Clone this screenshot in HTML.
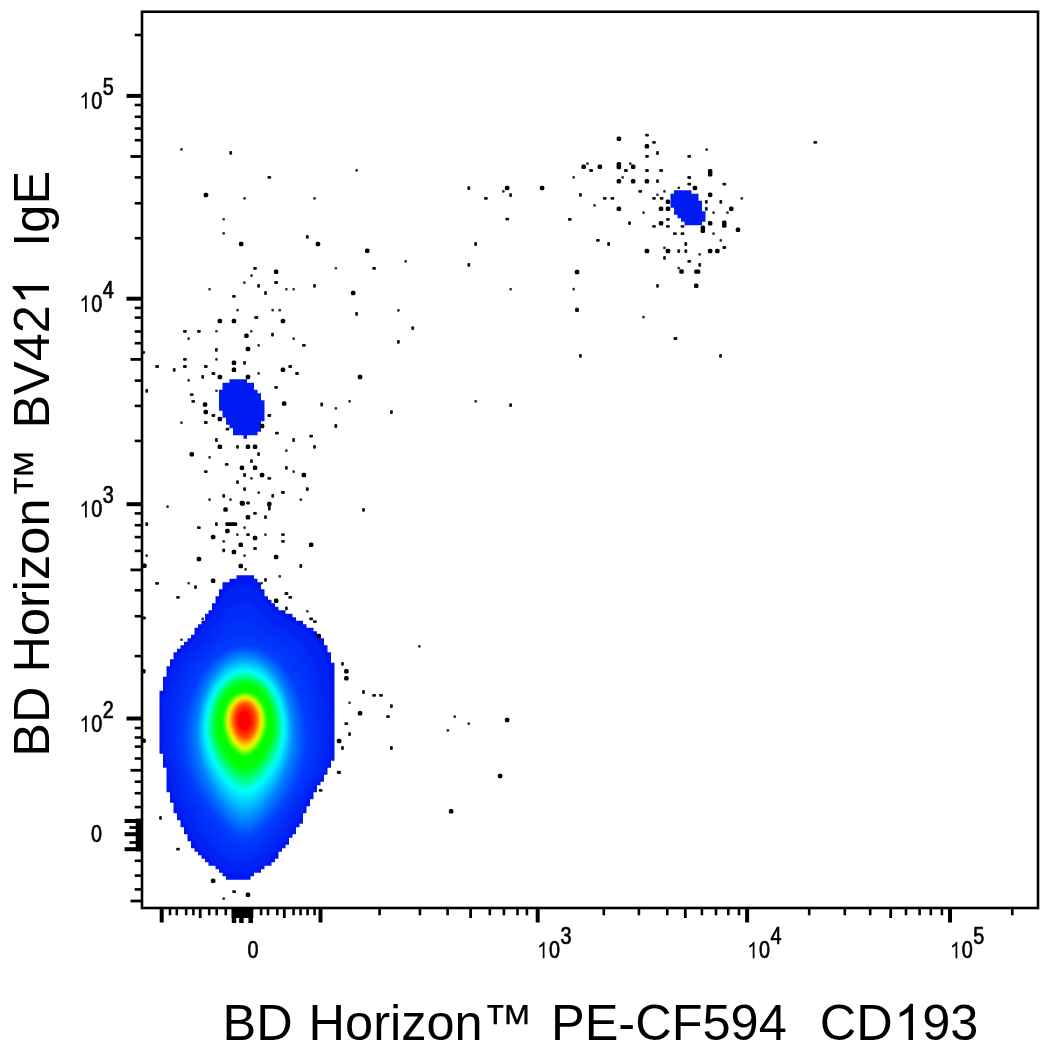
<!DOCTYPE html>
<html><head><meta charset="utf-8"><style>
html,body{margin:0;padding:0;background:#fff;width:1052px;height:1052px;overflow:hidden}
svg{display:block;will-change:transform}
text{white-space:pre}
</style></head><body>
<svg width="1052" height="1052" viewBox="0 0 1052 1052">
<defs><clipPath id="cp1"><path d="M236.50 575.25h17.50v3.50h-17.50ZM229.50 578.75h28.00v3.50h-28.00ZM222.50 582.25h38.50v3.50h-38.50ZM222.50 585.75h38.50v3.50h-38.50ZM219.00 589.25h45.50v3.50h-45.50ZM219.00 592.75h45.50v3.50h-45.50ZM215.50 596.25h52.50v3.50h-52.50ZM215.50 599.75h56.00v3.50h-56.00ZM212.00 603.25h63.00v3.50h-63.00ZM212.00 606.75h66.50v3.50h-66.50ZM208.50 610.25h77.00v3.50h-77.00ZM205.00 613.75h87.50v3.50h-87.50ZM205.00 617.25h91.00v3.50h-91.00ZM201.50 620.75h101.50v3.50h-101.50ZM198.00 624.25h108.50v3.50h-108.50ZM194.50 627.75h119.00v3.50h-119.00ZM194.50 631.25h122.50v3.50h-122.50ZM191.00 634.75h129.50v3.50h-129.50ZM187.50 638.25h136.50v3.50h-136.50ZM184.00 641.75h140.00v3.50h-140.00ZM180.50 645.25h147.00v3.50h-147.00ZM177.00 648.75h150.50v3.50h-150.50ZM173.50 652.25h157.50v3.50h-157.50ZM173.50 655.75h157.50v3.50h-157.50ZM170.00 659.25h161.00v3.50h-161.00ZM170.00 662.75h164.50v3.50h-164.50ZM166.50 666.25h168.00v3.50h-168.00ZM166.50 669.75h168.00v3.50h-168.00ZM166.50 673.25h168.00v3.50h-168.00ZM163.00 676.75h171.50v3.50h-171.50ZM163.00 680.25h171.50v3.50h-171.50ZM163.00 683.75h171.50v3.50h-171.50ZM163.00 687.25h171.50v3.50h-171.50ZM159.50 690.75h175.00v3.50h-175.00ZM159.50 694.25h175.00v3.50h-175.00ZM159.50 697.75h175.00v3.50h-175.00ZM159.50 701.25h175.00v3.50h-175.00ZM159.50 704.75h175.00v3.50h-175.00ZM159.50 708.25h175.00v3.50h-175.00ZM159.50 711.75h175.00v3.50h-175.00ZM159.50 715.25h175.00v3.50h-175.00ZM159.50 718.75h175.00v3.50h-175.00ZM159.50 722.25h175.00v3.50h-175.00ZM159.50 725.75h175.00v3.50h-175.00ZM159.50 729.25h175.00v3.50h-175.00ZM159.50 732.75h175.00v3.50h-175.00ZM159.50 736.25h175.00v3.50h-175.00ZM159.50 739.75h175.00v3.50h-175.00ZM159.50 743.25h175.00v3.50h-175.00ZM159.50 746.75h175.00v3.50h-175.00ZM159.50 750.25h175.00v3.50h-175.00ZM163.00 753.75h171.50v3.50h-171.50ZM163.00 757.25h171.50v3.50h-171.50ZM163.00 760.75h168.00v3.50h-168.00ZM163.00 764.25h168.00v3.50h-168.00ZM166.50 767.75h161.00v3.50h-161.00ZM166.50 771.25h161.00v3.50h-161.00ZM166.50 774.75h157.50v3.50h-157.50ZM166.50 778.25h157.50v3.50h-157.50ZM166.50 781.75h154.00v3.50h-154.00ZM166.50 785.25h150.50v3.50h-150.50ZM166.50 788.75h150.50v3.50h-150.50ZM170.00 792.25h143.50v3.50h-143.50ZM170.00 795.75h143.50v3.50h-143.50ZM170.00 799.25h140.00v3.50h-140.00ZM173.50 802.75h136.50v3.50h-136.50ZM173.50 806.25h133.00v3.50h-133.00ZM173.50 809.75h133.00v3.50h-133.00ZM177.00 813.25h126.00v3.50h-126.00ZM177.00 816.75h126.00v3.50h-126.00ZM180.50 820.25h122.50v3.50h-122.50ZM180.50 823.75h119.00v3.50h-119.00ZM184.00 827.25h112.00v3.50h-112.00ZM184.00 830.75h112.00v3.50h-112.00ZM187.50 834.25h105.00v3.50h-105.00ZM187.50 837.75h101.50v3.50h-101.50ZM191.00 841.25h98.00v3.50h-98.00ZM191.00 844.75h94.50v3.50h-94.50ZM194.50 848.25h87.50v3.50h-87.50ZM198.00 851.75h80.50v3.50h-80.50ZM201.50 855.25h77.00v3.50h-77.00ZM205.00 858.75h70.00v3.50h-70.00ZM208.50 862.25h63.00v3.50h-63.00ZM215.50 865.75h49.00v3.50h-49.00ZM219.00 869.25h42.00v3.50h-42.00ZM222.50 872.75h31.50v3.50h-31.50ZM226.00 876.25h24.50v3.50h-24.50Z"/></clipPath><filter id="bl" x="-20%" y="-20%" width="140%" height="140%"><feGaussianBlur stdDeviation="1.5"/></filter></defs><g clip-path="url(#cp1)"><g filter="url(#bl)"><rect x="140" y="560" width="210" height="330" fill="rgb(0,24,240)"/><path d="M331.5 735.9L331.3 741.9L330.9 747.8L330.5 753.9L329.4 759.8L327.1 765.4L324.7 771.0L321.8 776.2L318.8 781.3L315.5 786.3L312.3 791.3L309.5 796.6L306.8 802.3L303.9 808.3L301.0 814.5L297.8 821.1L294.2 827.7L289.9 834.0L285.3 840.7L280.2 847.7L274.4 854.3L267.9 860.6L260.7 865.8L252.9 871.0L244.6 873.5L236.0 873.5L227.5 872.6L220.1 866.2L212.9 861.0L206.1 856.2L200.4 849.0L195.4 841.9L190.9 834.7L186.8 827.9L183.5 820.6L180.5 813.7L177.6 807.1L174.9 800.8L172.6 794.5L171.4 787.8L170.3 781.4L169.2 775.3L168.2 769.4L166.6 763.9L164.9 758.4L163.3 752.9L162.9 747.2L162.8 741.5L162.7 735.9L162.7 730.2L162.7 724.5L162.7 718.7L162.8 712.8L162.9 706.7L163.6 700.7L164.5 694.5L165.6 688.1L166.8 681.5L169.0 675.2L171.5 668.9L174.5 662.7L178.1 656.8L182.7 651.8L187.5 646.9L192.3 641.6L196.8 635.1L201.8 628.7L207.3 621.9L213.0 613.8L218.9 602.7L226.1 591.0L235.0 586.0L244.6 584.2L254.0 587.0L262.1 598.1L269.5 606.3L276.5 612.5L283.4 617.2L290.4 621.2L297.1 625.4L303.7 629.7L309.8 634.6L315.9 639.4L320.1 646.5L323.6 653.8L326.3 661.3L328.4 668.9L329.2 676.9L329.9 684.4L330.4 691.6L330.8 698.5L331.1 705.1L331.2 711.5L331.4 717.8L331.4 723.9L331.5 729.9Z" fill="rgb(0,32,244)"/><path d="M328.0 736.8L327.8 742.8L327.4 748.8L326.8 754.9L325.7 760.9L323.4 766.6L321.1 772.2L318.1 777.5L315.1 782.7L311.9 787.8L308.6 792.8L305.7 798.1L302.9 803.6L300.0 809.3L297.0 815.2L293.8 821.4L290.3 827.6L286.1 833.4L281.7 839.6L277.0 845.9L271.6 851.8L265.7 857.4L259.1 862.0L252.1 866.6L244.6 868.7L237.0 868.7L229.3 867.8L222.6 862.2L216.1 857.5L209.8 853.1L204.6 846.6L199.8 840.2L195.6 833.5L191.5 827.3L188.2 820.5L185.2 813.9L182.2 807.7L179.5 801.6L177.0 795.5L175.5 789.0L174.0 782.8L172.7 776.7L171.4 770.9L169.8 765.3L168.0 759.7L166.4 754.1L165.9 748.3L165.7 742.5L165.6 736.8L165.6 731.0L165.7 725.2L165.8 719.4L166.0 713.4L166.2 707.3L167.1 701.3L168.1 695.1L169.2 688.8L170.6 682.5L172.8 676.3L175.3 670.2L178.3 664.2L181.8 658.5L186.2 653.7L190.8 648.9L195.4 643.9L199.8 637.9L204.6 632.1L209.8 625.9L215.3 618.7L220.9 609.0L227.6 598.8L235.9 594.5L244.6 592.9L253.3 595.3L260.8 604.9L267.7 612.1L274.3 617.6L280.8 621.9L287.3 625.6L293.6 629.7L299.7 633.8L305.5 638.4L311.2 643.1L315.2 649.7L318.6 656.6L321.3 663.7L323.5 670.9L324.6 678.5L325.4 685.7L326.1 692.7L326.8 699.4L327.2 705.9L327.5 712.3L327.7 718.5L327.9 724.6L328.0 730.7Z" fill="rgb(0,36,245)"/><path d="M324.5 737.6L324.3 743.7L323.8 749.8L323.2 755.9L321.9 762.0L319.7 767.7L317.4 773.4L314.5 778.8L311.5 784.1L308.3 789.2L305.0 794.2L302.0 799.5L299.1 804.9L296.1 810.4L293.0 816.0L289.8 821.8L286.3 827.5L282.4 832.8L278.2 838.4L273.8 844.0L268.9 849.3L263.5 854.2L257.6 858.2L251.4 862.1L244.7 863.9L237.9 863.9L231.1 863.1L225.1 858.2L219.2 854.1L213.5 850.1L208.7 844.3L204.3 838.4L200.2 832.4L196.3 826.6L193.0 820.3L189.9 814.2L186.9 808.3L184.0 802.4L181.3 796.5L179.5 790.3L177.8 784.1L176.2 778.2L174.7 772.3L172.9 766.6L171.2 761.0L169.5 755.3L168.9 749.4L168.6 743.5L168.5 737.6L168.5 731.8L168.6 725.9L168.8 720.0L169.1 714.0L169.5 707.9L170.5 701.9L171.6 695.8L172.9 689.6L174.4 683.4L176.7 677.4L179.2 671.5L182.1 665.7L185.5 660.3L189.7 655.6L194.1 651.0L198.5 646.3L202.7 640.8L207.4 635.4L212.4 629.9L217.5 623.6L222.9 615.3L229.2 606.6L236.7 602.9L244.7 601.6L252.6 603.6L259.6 611.7L265.9 617.9L272.1 622.7L278.2 626.6L284.2 630.1L290.0 633.9L295.8 637.8L301.2 642.2L306.4 646.7L310.3 652.9L313.6 659.4L316.4 666.1L318.6 672.9L319.9 680.1L321.0 687.0L321.9 693.8L322.7 700.3L323.3 706.7L323.7 713.1L324.1 719.3L324.3 725.4L324.5 731.5Z" fill="rgb(0,41,247)"/><path d="M321.0 738.5L320.8 744.7L320.3 750.8L319.5 757.0L318.2 763.1L316.0 768.9L313.7 774.6L310.8 780.1L307.9 785.5L304.7 790.7L301.4 795.7L298.3 800.9L295.3 806.2L292.2 811.4L289.1 816.7L285.9 822.1L282.4 827.4L278.6 832.3L274.7 837.2L270.6 842.2L266.1 846.8L261.3 851.0L256.1 854.4L250.6 857.6L244.8 859.1L238.8 859.0L232.9 858.3L227.6 854.2L222.4 850.6L217.3 847.0L212.8 841.9L208.7 836.7L204.8 831.3L201.0 826.0L197.8 820.2L194.6 814.5L191.5 808.9L188.5 803.3L185.7 797.6L183.6 791.5L181.6 785.5L179.7 779.6L178.0 773.7L176.1 768.0L174.3 762.3L172.6 756.4L171.9 750.5L171.6 744.5L171.4 738.5L171.4 732.6L171.6 726.6L171.9 720.6L172.3 714.6L172.9 708.5L174.0 702.5L175.2 696.4L176.6 690.4L178.2 684.3L180.5 678.5L183.0 672.8L185.9 667.3L189.2 662.0L193.2 657.5L197.4 653.1L201.6 648.6L205.7 643.6L210.2 638.8L214.9 634.0L219.8 628.6L224.9 621.6L230.7 614.5L237.6 611.4L244.8 610.2L251.9 612.0L258.3 618.5L264.2 623.7L269.9 627.8L275.5 631.3L281.1 634.6L286.5 638.1L291.8 641.8L296.8 646.0L301.7 650.4L305.4 656.2L308.7 662.2L311.4 668.5L313.7 674.9L315.2 681.7L316.5 688.3L317.6 694.8L318.6 701.2L319.4 707.5L319.9 713.8L320.4 720.0L320.7 726.2L320.9 732.4Z" fill="rgb(0,45,248)"/><path d="M317.5 739.4L317.3 745.6L316.7 751.8L315.9 758.0L314.5 764.1L312.3 770.0L310.0 775.9L307.2 781.4L304.2 786.9L301.0 792.1L297.8 797.2L294.6 802.3L291.5 807.5L288.3 812.5L285.1 817.5L281.9 822.5L278.5 827.2L274.9 831.7L271.2 836.0L267.4 840.3L263.3 844.2L259.1 847.7L254.5 850.6L249.8 853.2L244.8 854.4L239.8 854.2L234.7 853.5L230.1 850.2L225.5 847.1L221.0 844.0L217.0 839.6L213.1 835.0L209.4 830.2L205.8 825.4L202.5 820.1L199.3 814.8L196.1 809.5L193.0 804.1L190.1 798.6L187.6 792.7L185.4 786.9L183.2 781.0L181.3 775.2L179.2 769.4L177.4 763.5L175.8 757.6L174.9 751.5L174.5 745.5L174.3 739.4L174.4 733.3L174.6 727.3L175.0 721.2L175.5 715.2L176.2 709.1L177.4 703.1L178.7 697.1L180.3 691.2L182.0 685.3L184.3 679.6L186.8 674.1L189.7 668.8L193.0 663.8L196.7 659.4L200.7 655.1L204.7 651.0L208.7 646.5L212.9 642.2L217.4 638.0L222.1 633.5L226.9 628.0L232.3 622.3L238.4 619.8L244.8 618.9L251.2 620.3L257.0 625.4L262.4 629.5L267.7 633.0L272.9 636.0L278.0 639.0L283.0 642.3L287.9 645.9L292.5 649.9L297.0 654.1L300.5 659.4L303.7 665.0L306.5 670.9L308.8 676.9L310.6 683.3L312.1 689.6L313.4 695.9L314.5 702.1L315.4 708.4L316.2 714.6L316.8 720.8L317.2 727.0L317.4 733.2Z" fill="rgb(0,49,250)"/><path d="M314.0 740.2L313.8 746.5L313.2 752.8L312.2 759.0L310.7 765.2L308.7 771.2L306.3 777.1L303.5 782.7L300.6 788.2L297.4 793.6L294.1 798.7L290.9 803.8L287.7 808.7L284.4 813.6L281.2 818.2L277.9 822.8L274.6 827.1L271.1 831.1L267.7 834.9L264.2 838.5L260.6 841.7L256.9 844.5L253.0 846.8L249.0 848.7L244.9 849.6L240.7 849.4L236.5 848.7L232.6 846.2L228.7 843.6L224.7 840.9L221.1 837.2L217.5 833.3L214.1 829.1L210.6 824.7L207.3 820.0L204.0 815.1L200.7 810.1L197.5 804.9L194.4 799.6L191.7 794.0L189.1 788.3L186.7 782.5L184.5 776.6L182.4 770.8L180.5 764.8L178.9 758.8L177.9 752.6L177.4 746.4L177.2 740.2L177.3 734.1L177.6 728.0L178.1 721.8L178.7 715.7L179.6 709.7L180.8 703.7L182.3 697.8L183.9 691.9L185.8 686.2L188.2 680.7L190.7 675.4L193.5 670.3L196.7 665.6L200.2 661.3L204.0 657.2L207.8 653.3L211.6 649.3L215.7 645.6L220.0 642.1L224.4 638.4L228.9 634.3L233.8 630.2L239.3 628.3L244.9 627.6L250.5 628.6L255.7 632.2L260.6 635.3L265.5 638.1L270.2 640.7L274.9 643.5L279.5 646.6L283.9 649.9L288.1 653.7L292.2 657.7L295.6 662.6L298.8 667.8L301.5 673.3L303.9 678.9L305.9 684.9L307.6 690.9L309.1 697.0L310.4 703.0L311.5 709.2L312.4 715.4L313.1 721.6L313.6 727.8L313.9 734.0Z" fill="rgb(0,54,252)"/><path d="M310.5 741.1L310.3 747.5L309.6 753.8L308.5 760.1L307.0 766.3L305.0 772.3L302.6 778.3L299.9 784.0L297.0 789.6L293.8 795.0L290.5 800.2L287.2 805.2L283.9 810.0L280.5 814.6L277.2 819.0L273.9 823.1L270.6 827.0L267.4 830.5L264.1 833.7L261.0 836.6L257.8 839.2L254.7 841.3L251.4 843.0L248.2 844.3L244.9 844.8L241.6 844.6L238.3 843.9L235.1 842.1L231.8 840.1L228.5 837.9L225.2 834.9L222.0 831.6L218.7 828.0L215.3 824.1L212.0 819.9L208.7 815.4L205.3 810.7L202.0 805.8L198.8 800.6L195.8 795.2L192.9 789.6L190.2 783.9L187.8 778.1L185.6 772.1L183.6 766.1L182.0 760.0L180.9 753.7L180.3 747.4L180.1 741.1L180.2 734.9L180.6 728.7L181.1 722.5L181.9 716.3L182.9 710.2L184.3 704.3L185.8 698.4L187.6 692.7L189.6 687.2L192.0 681.8L194.5 676.7L197.3 671.9L200.4 667.3L203.7 663.1L207.3 659.3L210.9 655.6L214.6 652.2L218.5 649.0L222.5 646.1L226.7 643.4L230.9 640.6L235.4 638.0L240.1 636.8L244.9 636.3L249.8 636.9L254.4 639.0L258.9 641.1L263.3 643.2L267.6 645.4L271.8 647.9L275.9 650.8L280.0 654.0L283.8 657.5L287.5 661.4L290.8 665.8L293.8 670.6L296.6 675.7L299.1 680.9L301.2 686.5L303.2 692.2L304.9 698.0L306.4 704.0L307.6 710.0L308.7 716.1L309.5 722.3L310.0 728.6L310.4 734.8Z" fill="rgb(0,58,253)"/><path d="M307.0 742.0L306.8 748.4L306.1 754.8L304.9 761.1L303.3 767.4L301.3 773.5L298.9 779.5L296.3 785.3L293.3 791.0L290.2 796.4L286.9 801.7L283.5 806.6L280.1 811.3L276.6 815.7L273.2 819.7L269.9 823.5L266.7 826.9L263.6 829.9L260.6 832.5L257.8 834.8L255.1 836.7L252.4 838.1L249.9 839.2L247.4 839.8L245.0 840.0L242.6 839.8L240.1 839.2L237.6 838.1L234.9 836.7L232.2 834.8L229.4 832.5L226.4 829.9L223.3 826.9L220.1 823.5L216.8 819.7L213.4 815.7L209.9 811.3L206.5 806.6L203.1 801.7L199.8 796.4L196.7 791.0L193.7 785.3L191.1 779.5L188.7 773.5L186.7 767.4L185.1 761.1L183.9 754.8L183.2 748.4L183.0 742.0L183.1 735.7L183.5 729.3L184.2 723.1L185.1 716.9L186.3 710.8L187.7 704.9L189.4 699.1L191.3 693.5L193.4 688.1L195.8 683.0L198.4 678.0L201.2 673.4L204.1 669.1L207.3 665.0L210.6 661.3L214.0 658.0L217.6 655.0L221.3 652.4L225.1 650.1L229.0 648.3L232.9 646.9L236.9 645.8L240.9 645.2L245.0 645.0L249.1 645.2L253.1 645.8L257.1 646.9L261.0 648.3L264.9 650.1L268.7 652.4L272.4 655.0L276.0 658.0L279.4 661.3L282.7 665.0L285.9 669.1L288.8 673.4L291.6 678.0L294.2 683.0L296.6 688.1L298.7 693.5L300.6 699.1L302.3 704.9L303.7 710.8L304.9 716.9L305.8 723.1L306.5 729.3L306.9 735.7Z" fill="rgb(0,62,255)"/><path d="M305.2 741.1L305.0 747.4L304.3 753.7L303.2 760.0L301.7 766.1L299.7 772.1L297.4 778.1L294.9 783.8L292.0 789.4L289.0 794.7L285.8 799.9L282.5 804.8L279.2 809.4L275.9 813.7L272.6 817.7L269.3 821.4L266.2 824.7L263.2 827.7L260.3 830.3L257.5 832.5L254.8 834.3L252.3 835.8L249.8 836.8L247.4 837.4L245.0 837.6L242.6 837.4L240.2 836.8L237.7 835.8L235.2 834.3L232.5 832.5L229.7 830.3L226.8 827.7L223.8 824.7L220.7 821.4L217.4 817.7L214.1 813.7L210.8 809.4L207.5 804.8L204.2 799.9L201.0 794.7L198.0 789.4L195.1 783.8L192.6 778.1L190.3 772.1L188.3 766.1L186.8 760.0L185.7 753.7L185.0 747.4L184.8 741.1L184.9 734.9L185.3 728.8L185.9 722.6L186.8 716.6L187.9 710.7L189.3 704.9L191.0 699.2L192.8 693.8L194.9 688.5L197.2 683.4L199.7 678.7L202.4 674.1L205.3 669.9L208.3 666.0L211.5 662.3L214.9 659.1L218.4 656.1L221.9 653.6L225.6 651.4L229.4 649.6L233.2 648.2L237.1 647.2L241.1 646.6L245.0 646.4L248.9 646.6L252.9 647.2L256.8 648.2L260.6 649.6L264.4 651.4L268.1 653.6L271.6 656.1L275.1 659.1L278.5 662.3L281.7 666.0L284.7 669.9L287.6 674.1L290.3 678.7L292.8 683.4L295.1 688.5L297.2 693.8L299.0 699.2L300.7 704.9L302.1 710.7L303.2 716.6L304.1 722.6L304.7 728.8L305.1 734.9Z" fill="rgb(0,71,255)"/><path d="M303.5 740.2L303.3 746.5L302.6 752.6L301.5 758.8L300.0 764.8L298.2 770.8L296.0 776.6L293.5 782.3L290.7 787.8L287.8 793.0L284.7 798.1L281.5 802.9L278.3 807.4L275.1 811.7L271.9 815.6L268.7 819.2L265.7 822.5L262.8 825.5L259.9 828.0L257.2 830.2L254.6 832.0L252.1 833.4L249.7 834.4L247.3 835.0L245.0 835.2L242.7 835.0L240.3 834.4L237.9 833.4L235.4 832.0L232.8 830.2L230.1 828.0L227.2 825.5L224.3 822.5L221.3 819.2L218.1 815.6L214.9 811.7L211.7 807.4L208.5 802.9L205.3 798.1L202.2 793.0L199.3 787.8L196.5 782.3L194.0 776.6L191.8 770.8L190.0 764.8L188.5 758.8L187.4 752.6L186.7 746.5L186.5 740.2L186.6 734.2L187.0 728.2L187.6 722.2L188.5 716.3L189.6 710.5L191.0 704.9L192.5 699.3L194.3 694.0L196.4 688.9L198.6 683.9L201.0 679.3L203.6 674.8L206.4 670.7L209.4 666.9L212.5 663.3L215.7 660.1L219.1 657.3L222.6 654.8L226.2 652.7L229.9 650.9L233.6 649.5L237.4 648.5L241.2 647.9L245.0 647.8L248.8 647.9L252.6 648.5L256.4 649.5L260.1 650.9L263.8 652.7L267.4 654.8L270.9 657.3L274.2 660.1L277.5 663.3L280.6 666.9L283.6 670.7L286.4 674.8L289.0 679.3L291.4 683.9L293.6 688.9L295.7 694.0L297.5 699.3L299.0 704.9L300.4 710.5L301.5 716.3L302.4 722.2L303.0 728.2L303.4 734.2Z" fill="rgb(0,80,255)"/><path d="M301.8 739.4L301.5 745.5L300.9 751.6L299.8 757.6L298.4 763.6L296.6 769.4L294.5 775.2L292.1 780.7L289.4 786.1L286.6 791.3L283.6 796.3L280.5 801.0L277.4 805.5L274.3 809.7L271.2 813.6L268.2 817.1L265.2 820.3L262.3 823.2L259.6 825.8L257.0 827.9L254.4 829.7L252.0 831.1L249.6 832.1L247.3 832.7L245.0 832.9L242.7 832.7L240.4 832.1L238.0 831.1L235.6 829.7L233.0 827.9L230.4 825.8L227.7 823.2L224.8 820.3L221.8 817.1L218.8 813.6L215.7 809.7L212.6 805.5L209.5 801.0L206.4 796.3L203.4 791.3L200.6 786.1L197.9 780.7L195.5 775.2L193.4 769.4L191.6 763.6L190.2 757.6L189.1 751.6L188.5 745.5L188.2 739.4L188.4 733.5L188.7 727.6L189.3 721.8L190.2 716.0L191.3 710.4L192.6 704.8L194.1 699.5L195.9 694.2L197.8 689.2L200.0 684.4L202.3 679.9L204.9 675.6L207.6 671.5L210.5 667.8L213.5 664.3L216.6 661.2L219.9 658.4L223.3 656.0L226.8 653.9L230.3 652.2L233.9 650.9L237.6 649.9L241.3 649.3L245.0 649.1L248.7 649.3L252.4 649.9L256.1 650.9L259.7 652.2L263.2 653.9L266.7 656.0L270.1 658.4L273.4 661.2L276.5 664.3L279.5 667.8L282.4 671.5L285.1 675.6L287.7 679.9L290.0 684.4L292.2 689.2L294.1 694.2L295.9 699.5L297.4 704.8L298.7 710.4L299.8 716.0L300.7 721.8L301.3 727.6L301.6 733.5Z" fill="rgb(0,89,255)"/><path d="M300.0 738.5L299.8 744.5L299.2 750.5L298.2 756.4L296.8 762.3L295.0 768.1L293.0 773.7L290.7 779.2L288.1 784.5L285.4 789.6L282.5 794.5L279.6 799.2L276.5 803.6L273.5 807.7L270.5 811.5L267.6 815.0L264.7 818.2L261.9 821.0L259.3 823.5L256.7 825.6L254.2 827.4L251.8 828.7L249.5 829.7L247.2 830.3L245.0 830.5L242.8 830.3L240.5 829.7L238.2 828.7L235.8 827.4L233.3 825.6L230.7 823.5L228.1 821.0L225.3 818.2L222.4 815.0L219.5 811.5L216.5 807.7L213.5 803.6L210.4 799.2L207.5 794.5L204.6 789.6L201.9 784.5L199.3 779.2L197.0 773.7L195.0 768.1L193.2 762.3L191.8 756.4L190.8 750.5L190.2 744.5L190.0 738.5L190.1 732.7L190.5 727.0L191.1 721.3L191.9 715.7L192.9 710.2L194.2 704.8L195.7 699.6L197.4 694.5L199.3 689.6L201.4 684.9L203.6 680.5L206.1 676.3L208.7 672.3L211.5 668.7L214.4 665.3L217.5 662.3L220.7 659.6L224.0 657.2L227.3 655.2L230.8 653.5L234.3 652.2L237.8 651.3L241.4 650.7L245.0 650.5L248.6 650.7L252.2 651.3L255.7 652.2L259.2 653.5L262.7 655.2L266.0 657.2L269.3 659.6L272.5 662.3L275.6 665.3L278.5 668.7L281.3 672.3L283.9 676.3L286.4 680.5L288.6 684.9L290.7 689.6L292.6 694.5L294.3 699.6L295.8 704.8L297.1 710.2L298.1 715.7L298.9 721.3L299.5 727.0L299.9 732.7Z" fill="rgb(0,98,255)"/><path d="M298.2 737.6L298.1 743.5L297.5 749.4L296.5 755.3L295.2 761.0L293.5 766.7L291.5 772.3L289.3 777.7L286.8 782.9L284.2 787.9L281.4 792.7L278.6 797.3L275.7 801.6L272.7 805.7L269.8 809.4L267.0 812.9L264.2 816.0L261.5 818.8L258.9 821.2L256.4 823.3L254.0 825.0L251.7 826.4L249.4 827.4L247.2 827.9L245.0 828.1L242.8 827.9L240.6 827.4L238.3 826.4L236.0 825.0L233.6 823.3L231.1 821.2L228.5 818.8L225.8 816.0L223.0 812.9L220.2 809.4L217.3 805.7L214.3 801.6L211.4 797.3L208.6 792.7L205.8 787.9L203.2 782.9L200.7 777.7L198.5 772.3L196.5 766.7L194.8 761.0L193.5 755.3L192.5 749.4L191.9 743.5L191.8 737.6L191.9 732.0L192.2 726.4L192.8 720.9L193.6 715.4L194.6 710.1L195.8 704.8L197.2 699.7L198.9 694.8L200.7 690.0L202.8 685.4L205.0 681.1L207.3 677.0L209.9 673.2L212.6 669.6L215.4 666.3L218.4 663.4L221.4 660.7L224.6 658.4L227.9 656.4L231.2 654.8L234.6 653.5L238.0 652.6L241.5 652.1L245.0 651.9L248.5 652.1L252.0 652.6L255.4 653.5L258.8 654.8L262.1 656.4L265.4 658.4L268.6 660.7L271.6 663.4L274.6 666.3L277.4 669.6L280.1 673.2L282.7 677.0L285.0 681.1L287.2 685.4L289.3 690.0L291.1 694.8L292.8 699.7L294.2 704.8L295.4 710.1L296.4 715.4L297.2 720.9L297.8 726.4L298.1 732.0Z" fill="rgb(0,108,255)"/><path d="M296.5 736.8L296.3 742.6L295.7 748.4L294.8 754.1L293.5 759.8L291.9 765.4L290.0 770.8L287.9 776.1L285.5 781.2L283.0 786.2L280.3 790.9L277.6 795.4L274.8 799.7L271.9 803.7L269.1 807.4L266.4 810.8L263.7 813.8L261.1 816.6L258.6 819.0L256.1 821.0L253.8 822.7L251.5 824.0L249.3 825.0L247.1 825.6L245.0 825.8L242.9 825.6L240.7 825.0L238.5 824.0L236.2 822.7L233.9 821.0L231.4 819.0L228.9 816.6L226.3 813.8L223.6 810.8L220.9 807.4L218.1 803.7L215.2 799.7L212.4 795.4L209.7 790.9L207.0 786.2L204.5 781.2L202.1 776.1L200.0 770.8L198.1 765.4L196.5 759.8L195.2 754.1L194.3 748.4L193.7 742.6L193.5 736.8L193.6 731.3L193.9 725.9L194.5 720.5L195.3 715.1L196.2 709.9L197.4 704.8L198.8 699.8L200.4 695.0L202.2 690.4L204.1 685.9L206.3 681.7L208.6 677.7L211.0 674.0L213.6 670.5L216.4 667.3L219.2 664.4L222.2 661.9L225.3 659.6L228.4 657.7L231.7 656.1L235.0 654.9L238.3 654.0L241.6 653.4L245.0 653.2L248.4 653.4L251.7 654.0L255.0 654.9L258.3 656.1L261.6 657.7L264.7 659.6L267.8 661.9L270.8 664.4L273.6 667.3L276.4 670.5L279.0 674.0L281.4 677.7L283.7 681.7L285.9 685.9L287.8 690.4L289.6 695.0L291.2 699.8L292.6 704.8L293.8 709.9L294.7 715.1L295.5 720.5L296.1 725.9L296.4 731.3Z" fill="rgb(0,117,255)"/><path d="M294.8 735.9L294.6 741.6L294.0 747.3L293.1 752.9L291.9 758.5L290.4 764.0L288.6 769.4L286.5 774.6L284.2 779.6L281.8 784.5L279.2 789.1L276.6 793.6L273.9 797.7L271.2 801.7L268.5 805.3L265.8 808.6L263.2 811.7L260.7 814.4L258.2 816.7L255.9 818.7L253.6 820.4L251.4 821.7L249.2 822.6L247.1 823.2L245.0 823.4L242.9 823.2L240.8 822.6L238.6 821.7L236.4 820.4L234.1 818.7L231.8 816.7L229.3 814.4L226.8 811.7L224.2 808.6L221.5 805.3L218.8 801.7L216.1 797.7L213.4 793.6L210.8 789.1L208.2 784.5L205.8 779.6L203.5 774.6L201.4 769.4L199.6 764.0L198.1 758.5L196.9 752.9L196.0 747.3L195.4 741.6L195.2 735.9L195.4 730.6L195.7 725.3L196.2 720.0L196.9 714.8L197.9 709.8L199.0 704.8L200.4 699.9L201.9 695.2L203.6 690.7L205.5 686.4L207.6 682.3L209.8 678.4L212.2 674.8L214.7 671.4L217.4 668.3L220.1 665.5L223.0 663.0L226.0 660.8L229.0 658.9L232.1 657.4L235.3 656.2L238.5 655.3L241.7 654.8L245.0 654.6L248.3 654.8L251.5 655.3L254.7 656.2L257.9 657.4L261.0 658.9L264.0 660.8L267.0 663.0L269.9 665.5L272.6 668.3L275.3 671.4L277.8 674.8L280.2 678.4L282.4 682.3L284.5 686.4L286.4 690.7L288.1 695.2L289.6 699.9L291.0 704.8L292.1 709.8L293.1 714.8L293.8 720.0L294.3 725.3L294.6 730.6Z" fill="rgb(0,126,255)"/><path d="M293.0 735.0L292.8 740.6L292.3 746.2L291.5 751.8L290.3 757.3L288.8 762.6L287.1 767.9L285.1 773.0L282.9 778.0L280.6 782.8L278.1 787.4L275.6 791.7L273.0 795.8L270.4 799.7L267.8 803.2L265.2 806.5L262.7 809.5L260.3 812.1L257.9 814.5L255.6 816.4L253.4 818.1L251.2 819.3L249.1 820.3L247.0 820.8L245.0 821.0L243.0 820.8L240.9 820.3L238.8 819.3L236.6 818.1L234.4 816.4L232.1 814.5L229.7 812.1L227.3 809.5L224.8 806.5L222.2 803.2L219.6 799.7L217.0 795.8L214.4 791.7L211.9 787.4L209.4 782.8L207.1 778.0L204.9 773.0L202.9 767.9L201.2 762.6L199.7 757.3L198.5 751.8L197.7 746.2L197.2 740.6L197.0 735.0L197.1 729.8L197.4 724.7L197.9 719.6L198.6 714.6L199.5 709.6L200.7 704.8L202.0 700.1L203.4 695.5L205.1 691.1L206.9 686.9L208.9 682.9L211.1 679.1L213.4 675.6L215.8 672.3L218.3 669.3L221.0 666.6L223.8 664.1L226.6 662.0L229.6 660.2L232.6 658.7L235.6 657.5L238.7 656.7L241.9 656.2L245.0 656.0L248.1 656.2L251.3 656.7L254.4 657.5L257.4 658.7L260.4 660.2L263.4 662.0L266.2 664.1L269.0 666.6L271.7 669.3L274.2 672.3L276.6 675.6L278.9 679.1L281.1 682.9L283.1 686.9L284.9 691.1L286.6 695.5L288.0 700.1L289.3 704.8L290.5 709.6L291.4 714.6L292.1 719.6L292.6 724.7L292.9 729.8Z" fill="rgb(0,135,255)"/><path d="M291.9 734.2L291.8 739.7L291.3 745.1L290.4 750.5L289.3 755.8L287.9 761.0L286.2 766.1L284.3 771.1L282.1 775.9L279.9 780.5L277.5 784.9L275.0 789.1L272.5 793.1L269.9 796.8L267.4 800.3L264.9 803.5L262.4 806.3L260.0 808.9L257.7 811.2L255.4 813.1L253.2 814.7L251.1 815.9L249.1 816.8L247.0 817.3L245.0 817.5L243.0 817.3L240.9 816.8L238.9 815.9L236.8 814.7L234.6 813.1L232.3 811.2L230.0 808.9L227.6 806.3L225.1 803.5L222.6 800.3L220.1 796.8L217.5 793.1L215.0 789.1L212.5 784.9L210.1 780.5L207.9 775.9L205.7 771.1L203.8 766.1L202.1 761.0L200.7 755.8L199.6 750.5L198.7 745.1L198.2 739.7L198.1 734.2L198.2 729.2L198.5 724.3L199.0 719.3L199.7 714.5L200.6 709.7L201.6 705.0L202.9 700.4L204.4 696.0L206.0 691.7L207.8 687.7L209.7 683.8L211.8 680.2L214.1 676.7L216.4 673.6L218.9 670.6L221.5 668.0L224.2 665.6L227.0 663.6L229.9 661.8L232.9 660.4L235.8 659.2L238.9 658.4L241.9 657.9L245.0 657.8L248.1 657.9L251.1 658.4L254.2 659.2L257.1 660.4L260.1 661.8L263.0 663.6L265.8 665.6L268.5 668.0L271.1 670.6L273.6 673.6L275.9 676.7L278.2 680.2L280.3 683.8L282.2 687.7L284.0 691.7L285.6 696.0L287.1 700.4L288.4 705.0L289.4 709.7L290.3 714.5L291.0 719.3L291.5 724.3L291.8 729.2Z" fill="rgb(0,150,255)"/><path d="M290.9 733.5L290.7 738.8L290.2 744.0L289.4 749.2L288.3 754.3L286.9 759.4L285.3 764.3L283.4 769.1L281.4 773.8L279.1 778.2L276.8 782.5L274.4 786.6L271.9 790.4L269.4 794.0L267.0 797.4L264.5 800.4L262.1 803.2L259.8 805.7L257.5 807.9L255.3 809.7L253.1 811.3L251.0 812.5L249.0 813.3L247.0 813.8L245.0 814.0L243.0 813.8L241.0 813.3L239.0 812.5L236.9 811.3L234.7 809.7L232.5 807.9L230.2 805.7L227.9 803.2L225.5 800.4L223.0 797.4L220.6 794.0L218.1 790.4L215.6 786.6L213.2 782.5L210.9 778.2L208.6 773.8L206.6 769.1L204.7 764.3L203.1 759.4L201.7 754.3L200.6 749.2L199.8 744.0L199.3 738.8L199.1 733.5L199.2 728.7L199.5 723.8L200.0 719.1L200.7 714.3L201.6 709.7L202.6 705.2L203.9 700.8L205.3 696.5L206.9 692.4L208.6 688.5L210.5 684.7L212.6 681.2L214.8 677.9L217.1 674.8L219.5 672.0L222.1 669.4L224.7 667.1L227.4 665.1L230.3 663.4L233.1 662.0L236.1 660.9L239.0 660.1L242.0 659.7L245.0 659.5L248.0 659.7L251.0 660.1L253.9 660.9L256.9 662.0L259.7 663.4L262.6 665.1L265.3 667.1L267.9 669.4L270.5 672.0L272.9 674.8L275.2 677.9L277.4 681.2L279.5 684.7L281.4 688.5L283.1 692.4L284.7 696.5L286.1 700.8L287.4 705.2L288.4 709.7L289.3 714.3L290.0 719.1L290.5 723.8L290.8 728.7Z" fill="rgb(0,165,255)"/><path d="M289.8 732.8L289.7 737.8L289.2 742.9L288.4 747.9L287.3 752.9L286.0 757.7L284.4 762.5L282.6 767.1L280.6 771.6L278.4 775.9L276.2 780.1L273.8 784.0L271.4 787.7L269.0 791.2L266.6 794.4L264.2 797.4L261.8 800.1L259.5 802.5L257.3 804.6L255.1 806.4L253.0 807.9L250.9 809.0L248.9 809.8L247.0 810.3L245.0 810.5L243.0 810.3L241.1 809.8L239.1 809.0L237.0 807.9L234.9 806.4L232.7 804.6L230.5 802.5L228.2 800.1L225.8 797.4L223.4 794.4L221.0 791.2L218.6 787.7L216.2 784.0L213.8 780.1L211.6 775.9L209.4 771.6L207.4 767.1L205.6 762.5L204.0 757.7L202.7 752.9L201.6 747.9L200.8 742.9L200.3 737.8L200.2 732.8L200.3 728.1L200.6 723.4L201.0 718.8L201.7 714.2L202.6 709.8L203.6 705.4L204.8 701.1L206.2 697.0L207.7 693.0L209.4 689.2L211.3 685.6L213.3 682.2L215.5 679.0L217.7 676.0L220.1 673.3L222.6 670.8L225.2 668.6L227.9 666.7L230.6 665.0L233.4 663.7L236.3 662.6L239.2 661.9L242.1 661.4L245.0 661.2L247.9 661.4L250.8 661.9L253.7 662.6L256.6 663.7L259.4 665.0L262.1 666.7L264.8 668.6L267.4 670.8L269.9 673.3L272.3 676.0L274.5 679.0L276.7 682.2L278.7 685.6L280.6 689.2L282.3 693.0L283.8 697.0L285.2 701.1L286.4 705.4L287.4 709.8L288.3 714.2L289.0 718.8L289.4 723.4L289.7 728.1Z" fill="rgb(0,180,255)"/><path d="M288.8 732.0L288.6 736.9L288.1 741.8L287.4 746.6L286.3 751.4L285.0 756.1L283.5 760.7L281.7 765.2L279.8 769.5L277.7 773.7L275.5 777.7L273.2 781.5L270.9 785.0L268.5 788.4L266.1 791.5L263.8 794.4L261.5 797.0L259.3 799.3L257.1 801.3L254.9 803.0L252.9 804.4L250.8 805.6L248.9 806.4L246.9 806.8L245.0 807.0L243.1 806.8L241.1 806.4L239.2 805.6L237.1 804.4L235.1 803.0L232.9 801.3L230.7 799.3L228.5 797.0L226.2 794.4L223.9 791.5L221.5 788.4L219.1 785.0L216.8 781.5L214.5 777.7L212.3 773.7L210.2 769.5L208.3 765.2L206.5 760.7L205.0 756.1L203.7 751.4L202.6 746.6L201.9 741.8L201.4 736.9L201.2 732.0L201.3 727.5L201.6 723.0L202.1 718.5L202.7 714.1L203.6 709.8L204.6 705.6L205.8 701.5L207.1 697.5L208.6 693.7L210.3 690.0L212.1 686.5L214.1 683.2L216.2 680.1L218.4 677.3L220.7 674.6L223.1 672.2L225.6 670.1L228.3 668.3L230.9 666.7L233.7 665.4L236.5 664.3L239.3 663.6L242.1 663.1L245.0 663.0L247.9 663.1L250.7 663.6L253.5 664.3L256.3 665.4L259.1 666.7L261.7 668.3L264.4 670.1L266.9 672.2L269.3 674.6L271.6 677.3L273.8 680.1L275.9 683.2L277.9 686.5L279.7 690.0L281.4 693.7L282.9 697.5L284.2 701.5L285.4 705.6L286.4 709.8L287.3 714.1L287.9 718.5L288.4 723.0L288.7 727.5Z" fill="rgb(0,195,255)"/><path d="M287.7 731.2L287.5 736.0L287.1 740.7L286.4 745.3L285.3 749.9L284.1 754.5L282.6 758.9L280.9 763.2L279.0 767.4L277.0 771.4L274.8 775.2L272.6 778.9L270.3 782.3L268.0 785.6L265.7 788.6L263.5 791.3L261.2 793.8L259.0 796.0L256.9 798.0L254.8 799.7L252.7 801.0L250.8 802.1L248.8 802.9L246.9 803.3L245.0 803.5L243.1 803.3L241.2 802.9L239.2 802.1L237.3 801.0L235.2 799.7L233.1 798.0L231.0 796.0L228.8 793.8L226.5 791.3L224.3 788.6L222.0 785.6L219.7 782.3L217.4 778.9L215.2 775.2L213.0 771.4L211.0 767.4L209.1 763.2L207.4 758.9L205.9 754.5L204.7 749.9L203.6 745.3L202.9 740.7L202.5 736.0L202.3 731.2L202.4 726.9L202.7 722.6L203.1 718.3L203.8 714.0L204.6 709.9L205.6 705.8L206.7 701.8L208.0 698.0L209.5 694.3L211.1 690.8L212.9 687.4L214.8 684.2L216.9 681.3L219.0 678.5L221.3 676.0L223.7 673.7L226.1 671.6L228.7 669.8L231.3 668.3L234.0 667.0L236.7 666.0L239.4 665.3L242.2 664.9L245.0 664.8L247.8 664.9L250.6 665.3L253.3 666.0L256.0 667.0L258.7 668.3L261.3 669.8L263.9 671.6L266.3 673.7L268.7 676.0L271.0 678.5L273.1 681.3L275.2 684.2L277.1 687.4L278.9 690.8L280.5 694.3L282.0 698.0L283.3 701.8L284.4 705.8L285.4 709.9L286.2 714.0L286.9 718.3L287.3 722.6L287.6 726.9Z" fill="rgb(0,210,255)"/><path d="M286.6 730.5L286.5 735.0L286.0 739.6L285.3 744.1L284.4 748.5L283.1 752.8L281.7 757.1L280.0 761.2L278.2 765.2L276.3 769.1L274.2 772.8L272.0 776.3L269.8 779.6L267.6 782.8L265.3 785.6L263.1 788.3L260.9 790.7L258.8 792.8L256.7 794.7L254.6 796.3L252.6 797.6L250.7 798.7L248.8 799.4L246.9 799.9L245.0 800.0L243.1 799.9L241.2 799.4L239.3 798.7L237.4 797.6L235.4 796.3L233.3 794.7L231.2 792.8L229.1 790.7L226.9 788.3L224.7 785.6L222.4 782.8L220.2 779.6L218.0 776.3L215.8 772.8L213.7 769.1L211.8 765.2L210.0 761.2L208.3 757.1L206.9 752.8L205.6 748.5L204.7 744.1L204.0 739.6L203.5 735.0L203.4 730.5L203.5 726.3L203.7 722.1L204.2 718.0L204.8 713.9L205.6 709.9L206.5 706.0L207.7 702.2L209.0 698.5L210.4 694.9L212.0 691.5L213.7 688.3L215.6 685.2L217.6 682.4L219.7 679.7L221.9 677.3L224.2 675.1L226.6 673.1L229.1 671.4L231.6 669.9L234.2 668.7L236.9 667.7L239.6 667.0L242.3 666.6L245.0 666.5L247.7 666.6L250.4 667.0L253.1 667.7L255.8 668.7L258.4 669.9L260.9 671.4L263.4 673.1L265.8 675.1L268.1 677.3L270.3 679.7L272.4 682.4L274.4 685.2L276.3 688.3L278.0 691.5L279.6 694.9L281.0 698.5L282.3 702.2L283.5 706.0L284.4 709.9L285.2 713.9L285.8 718.0L286.3 722.1L286.5 726.3Z" fill="rgb(0,225,255)"/><path d="M285.6 729.8L285.4 734.1L285.0 738.5L284.3 742.8L283.4 747.0L282.2 751.2L280.8 755.3L279.2 759.3L277.4 763.1L275.5 766.8L273.5 770.4L271.4 773.8L269.3 776.9L267.1 779.9L264.9 782.7L262.7 785.3L260.6 787.6L258.5 789.6L256.4 791.4L254.4 793.0L252.5 794.2L250.6 795.2L248.7 795.9L246.8 796.4L245.0 796.5L243.2 796.4L241.3 795.9L239.4 795.2L237.5 794.2L235.6 793.0L233.6 791.4L231.5 789.6L229.4 787.6L227.3 785.3L225.1 782.7L222.9 779.9L220.7 776.9L218.6 773.8L216.5 770.4L214.5 766.8L212.6 763.1L210.8 759.3L209.2 755.3L207.8 751.2L206.6 747.0L205.7 742.8L205.0 738.5L204.6 734.1L204.4 729.8L204.5 725.7L204.8 721.7L205.2 717.8L205.8 713.8L206.6 710.0L207.5 706.2L208.6 702.5L209.9 699.0L211.3 695.6L212.8 692.3L214.5 689.2L216.3 686.3L218.3 683.5L220.3 681.0L222.5 678.6L224.7 676.5L227.1 674.6L229.5 672.9L232.0 671.5L234.5 670.3L237.1 669.4L239.7 668.8L242.3 668.4L245.0 668.2L247.7 668.4L250.3 668.8L252.9 669.4L255.5 670.3L258.0 671.5L260.5 672.9L262.9 674.6L265.3 676.5L267.5 678.6L269.7 681.0L271.7 683.5L273.7 686.3L275.5 689.2L277.2 692.3L278.7 695.6L280.1 699.0L281.4 702.5L282.5 706.2L283.4 710.0L284.2 713.8L284.8 717.8L285.2 721.7L285.5 725.7Z" fill="rgb(0,240,255)"/><path d="M284.5 729.0L284.4 733.2L284.0 737.4L283.3 741.5L282.4 745.6L281.2 749.6L279.9 753.5L278.3 757.3L276.6 761.0L274.8 764.6L272.9 768.0L270.8 771.2L268.7 774.3L266.6 777.1L264.5 779.8L262.4 782.2L260.3 784.4L258.3 786.4L256.2 788.1L254.3 789.6L252.4 790.8L250.5 791.8L248.6 792.5L246.8 792.9L245.0 793.0L243.2 792.9L241.4 792.5L239.5 791.8L237.6 790.8L235.7 789.6L233.8 788.1L231.7 786.4L229.7 784.4L227.6 782.2L225.5 779.8L223.4 777.1L221.3 774.3L219.2 771.2L217.1 768.0L215.2 764.6L213.4 761.0L211.7 757.3L210.1 753.5L208.8 749.6L207.6 745.6L206.7 741.5L206.0 737.4L205.6 733.2L205.5 729.0L205.6 725.1L205.8 721.3L206.3 717.5L206.8 713.7L207.6 710.0L208.5 706.4L209.6 702.9L210.8 699.5L212.2 696.2L213.7 693.1L215.3 690.1L217.1 687.3L219.0 684.6L221.0 682.2L223.1 679.9L225.2 677.9L227.5 676.1L229.9 674.5L232.3 673.1L234.8 672.0L237.3 671.1L239.8 670.5L242.4 670.1L245.0 670.0L247.6 670.1L250.2 670.5L252.7 671.1L255.2 672.0L257.7 673.1L260.1 674.5L262.5 676.1L264.8 677.9L266.9 679.9L269.0 682.2L271.0 684.6L272.9 687.3L274.7 690.1L276.3 693.1L277.8 696.2L279.2 699.5L280.4 702.9L281.5 706.4L282.4 710.0L283.2 713.7L283.7 717.5L284.2 721.3L284.4 725.1Z" fill="rgb(0,255,255)"/><path d="M283.2 728.5L283.1 732.5L282.7 736.5L282.1 740.5L281.2 744.4L280.1 748.3L278.8 752.1L277.3 755.8L275.7 759.3L273.9 762.7L272.0 766.0L270.0 769.1L268.0 772.1L266.0 774.8L263.9 777.4L261.9 779.7L259.8 781.9L257.9 783.8L255.9 785.4L254.0 786.9L252.1 788.0L250.3 788.9L248.5 789.6L246.8 790.0L245.0 790.1L243.2 790.0L241.5 789.6L239.7 788.9L237.9 788.0L236.0 786.9L234.1 785.4L232.1 783.8L230.2 781.9L228.1 779.7L226.1 777.4L224.0 774.8L222.0 772.1L220.0 769.1L218.0 766.0L216.1 762.7L214.3 759.3L212.7 755.8L211.2 752.1L209.9 748.3L208.8 744.4L207.9 740.5L207.3 736.5L206.9 732.5L206.8 728.5L206.8 724.8L207.1 721.1L207.5 717.4L208.1 713.8L208.8 710.2L209.7 706.7L210.7 703.3L211.9 700.0L213.2 696.9L214.7 693.8L216.2 691.0L218.0 688.2L219.8 685.7L221.7 683.3L223.7 681.2L225.9 679.2L228.1 677.4L230.4 675.9L232.7 674.6L235.1 673.5L237.5 672.7L240.0 672.0L242.5 671.7L245.0 671.6L247.5 671.7L250.0 672.0L252.5 672.7L254.9 673.5L257.3 674.6L259.6 675.9L261.9 677.4L264.1 679.2L266.3 681.2L268.3 683.3L270.2 685.7L272.0 688.2L273.8 691.0L275.3 693.8L276.8 696.9L278.1 700.0L279.3 703.3L280.3 706.7L281.2 710.2L281.9 713.8L282.5 717.4L282.9 721.1L283.2 724.8Z" fill="rgb(0,255,223)"/><path d="M282.0 728.0L281.9 731.9L281.5 735.7L280.9 739.6L280.0 743.3L279.0 747.0L277.7 750.7L276.3 754.2L274.7 757.6L273.0 760.9L271.1 764.1L269.2 767.1L267.3 769.9L265.3 772.5L263.3 775.0L261.3 777.3L259.4 779.3L257.5 781.1L255.6 782.7L253.7 784.1L251.9 785.2L250.2 786.1L248.4 786.7L246.7 787.1L245.0 787.2L243.3 787.1L241.6 786.7L239.8 786.1L238.1 785.2L236.3 784.1L234.4 782.7L232.5 781.1L230.6 779.3L228.7 777.3L226.7 775.0L224.7 772.5L222.7 769.9L220.8 767.1L218.9 764.1L217.0 760.9L215.3 757.6L213.7 754.2L212.3 750.7L211.0 747.0L210.0 743.3L209.1 739.6L208.5 735.7L208.1 731.9L208.0 728.0L208.1 724.4L208.3 720.8L208.7 717.3L209.3 713.8L210.0 710.4L210.8 707.0L211.8 703.7L213.0 700.6L214.2 697.5L215.6 694.6L217.2 691.8L218.8 689.2L220.6 686.7L222.5 684.5L224.4 682.4L226.5 680.5L228.6 678.8L230.8 677.3L233.1 676.0L235.4 675.0L237.8 674.2L240.2 673.6L242.6 673.2L245.0 673.1L247.4 673.2L249.8 673.6L252.2 674.2L254.6 675.0L256.9 676.0L259.2 677.3L261.4 678.8L263.5 680.5L265.6 682.4L267.5 684.5L269.4 686.7L271.2 689.2L272.8 691.8L274.4 694.6L275.8 697.5L277.0 700.6L278.2 703.7L279.2 707.0L280.0 710.4L280.7 713.8L281.3 717.3L281.7 720.8L281.9 724.4Z" fill="rgb(0,255,191)"/><path d="M280.8 727.5L280.6 731.2L280.3 734.9L279.7 738.6L278.9 742.2L277.8 745.8L276.6 749.3L275.2 752.7L273.7 755.9L272.0 759.1L270.3 762.1L268.4 765.0L266.6 767.7L264.7 770.3L262.7 772.6L260.8 774.8L258.9 776.8L257.1 778.5L255.2 780.0L253.5 781.4L251.7 782.4L250.0 783.3L248.3 783.9L246.7 784.3L245.0 784.4L243.3 784.3L241.7 783.9L240.0 783.3L238.3 782.4L236.5 781.4L234.8 780.0L232.9 778.5L231.1 776.8L229.2 774.8L227.3 772.6L225.3 770.3L223.4 767.7L221.6 765.0L219.7 762.1L218.0 759.1L216.3 755.9L214.8 752.7L213.4 749.3L212.2 745.8L211.1 742.2L210.3 738.6L209.7 734.9L209.4 731.2L209.2 727.5L209.3 724.0L209.6 720.6L209.9 717.2L210.5 713.8L211.1 710.5L212.0 707.3L212.9 704.1L214.0 701.1L215.3 698.2L216.6 695.3L218.1 692.7L219.7 690.2L221.4 687.8L223.2 685.6L225.1 683.6L227.1 681.8L229.2 680.1L231.3 678.7L233.5 677.5L235.7 676.5L238.0 675.7L240.3 675.1L242.7 674.8L245.0 674.7L247.3 674.8L249.7 675.1L252.0 675.7L254.3 676.5L256.5 677.5L258.7 678.7L260.8 680.1L262.9 681.8L264.9 683.6L266.8 685.6L268.6 687.8L270.3 690.2L271.9 692.7L273.4 695.3L274.7 698.2L276.0 701.1L277.1 704.1L278.0 707.3L278.9 710.5L279.5 713.8L280.1 717.2L280.4 720.6L280.7 724.0Z" fill="rgb(0,255,159)"/><path d="M279.5 727.0L279.4 730.6L279.0 734.1L278.5 737.6L277.7 741.1L276.7 744.5L275.5 747.9L274.2 751.1L272.7 754.2L271.1 757.3L269.4 760.2L267.7 762.9L265.8 765.5L264.0 768.0L262.1 770.2L260.3 772.3L258.5 774.2L256.7 775.9L254.9 777.4L253.2 778.6L251.5 779.6L249.8 780.5L248.2 781.0L246.6 781.4L245.0 781.5L243.4 781.4L241.8 781.0L240.2 780.5L238.5 779.6L236.8 778.6L235.1 777.4L233.3 775.9L231.5 774.2L229.7 772.3L227.9 770.2L226.0 768.0L224.2 765.5L222.3 762.9L220.6 760.2L218.9 757.3L217.3 754.2L215.8 751.1L214.5 747.9L213.3 744.5L212.3 741.1L211.5 737.6L211.0 734.1L210.6 730.6L210.5 727.0L210.6 723.7L210.8 720.4L211.2 717.1L211.7 713.9L212.3 710.7L213.1 707.6L214.1 704.6L215.1 701.6L216.3 698.8L217.6 696.1L219.1 693.5L220.6 691.1L222.3 688.8L224.0 686.7L225.8 684.8L227.8 683.0L229.7 681.5L231.8 680.1L233.9 678.9L236.1 678.0L238.3 677.2L240.5 676.7L242.7 676.4L245.0 676.2L247.3 676.4L249.5 676.7L251.7 677.2L253.9 678.0L256.1 678.9L258.2 680.1L260.3 681.5L262.2 683.0L264.2 684.8L266.0 686.7L267.7 688.8L269.4 691.1L270.9 693.5L272.4 696.1L273.7 698.8L274.9 701.6L275.9 704.6L276.9 707.6L277.7 710.7L278.3 713.9L278.8 717.1L279.2 720.4L279.4 723.7Z" fill="rgb(0,255,128)"/><path d="M278.2 726.5L278.1 729.9L277.8 733.3L277.3 736.7L276.5 740.0L275.5 743.3L274.4 746.4L273.1 749.6L271.7 752.6L270.2 755.5L268.6 758.2L266.9 760.9L265.1 763.4L263.3 765.7L261.6 767.9L259.8 769.8L258.0 771.6L256.3 773.2L254.6 774.7L252.9 775.9L251.3 776.8L249.7 777.6L248.1 778.2L246.5 778.5L245.0 778.6L243.5 778.5L241.9 778.2L240.3 777.6L238.7 776.8L237.1 775.9L235.4 774.7L233.7 773.2L232.0 771.6L230.2 769.8L228.4 767.9L226.7 765.7L224.9 763.4L223.1 760.9L221.4 758.2L219.8 755.5L218.3 752.6L216.9 749.6L215.6 746.4L214.5 743.3L213.5 740.0L212.7 736.7L212.2 733.3L211.9 729.9L211.8 726.5L211.8 723.3L212.0 720.1L212.4 717.0L212.9 713.9L213.5 710.8L214.3 707.9L215.2 705.0L216.2 702.2L217.4 699.5L218.6 696.9L220.0 694.4L221.5 692.1L223.1 689.9L224.8 687.9L226.5 686.0L228.4 684.3L230.3 682.8L232.3 681.5L234.3 680.4L236.4 679.5L238.5 678.7L240.7 678.2L242.8 677.9L245.0 677.8L247.2 677.9L249.3 678.2L251.5 678.7L253.6 679.5L255.7 680.4L257.7 681.5L259.7 682.8L261.6 684.3L263.5 686.0L265.2 687.9L266.9 689.9L268.5 692.1L270.0 694.4L271.4 696.9L272.6 699.5L273.8 702.2L274.8 705.0L275.7 707.9L276.5 710.8L277.1 713.9L277.6 717.0L278.0 720.1L278.2 723.3Z" fill="rgb(0,255,96)"/><path d="M277.0 726.0L276.9 729.3L276.6 732.5L276.0 735.7L275.3 738.9L274.4 742.0L273.3 745.0L272.1 748.0L270.7 750.9L269.3 753.6L267.7 756.3L266.1 758.8L264.4 761.2L262.7 763.4L261.0 765.5L259.3 767.4L257.6 769.1L255.9 770.6L254.3 772.0L252.6 773.1L251.1 774.1L249.5 774.8L248.0 775.3L246.5 775.6L245.0 775.8L243.5 775.6L242.0 775.3L240.5 774.8L238.9 774.1L237.4 773.1L235.7 772.0L234.1 770.6L232.4 769.1L230.7 767.4L229.0 765.5L227.3 763.4L225.6 761.2L223.9 758.8L222.3 756.3L220.7 753.6L219.3 750.9L217.9 748.0L216.7 745.0L215.6 742.0L214.7 738.9L214.0 735.7L213.4 732.5L213.1 729.3L213.0 726.0L213.1 723.0L213.3 719.9L213.6 716.9L214.1 713.9L214.7 711.0L215.4 708.2L216.3 705.4L217.3 702.7L218.4 700.1L219.6 697.6L220.9 695.3L222.4 693.0L223.9 690.9L225.5 689.0L227.2 687.2L229.0 685.6L230.8 684.2L232.8 682.9L234.7 681.8L236.7 681.0L238.8 680.3L240.8 679.8L242.9 679.5L245.0 679.4L247.1 679.5L249.2 679.8L251.2 680.3L253.3 681.0L255.3 681.8L257.2 682.9L259.2 684.2L261.0 685.6L262.8 687.2L264.5 689.0L266.1 690.9L267.6 693.0L269.1 695.3L270.4 697.6L271.6 700.1L272.7 702.7L273.7 705.4L274.6 708.2L275.3 711.0L275.9 713.9L276.4 716.9L276.7 719.9L276.9 723.0Z" fill="rgb(0,255,64)"/><path d="M275.8 725.5L275.6 728.6L275.3 731.7L274.8 734.7L274.1 737.8L273.3 740.7L272.2 743.6L271.1 746.5L269.7 749.2L268.3 751.8L266.8 754.3L265.3 756.7L263.7 759.0L262.0 761.1L260.4 763.1L258.7 764.9L257.1 766.5L255.5 768.0L253.9 769.3L252.4 770.4L250.9 771.3L249.4 772.0L247.9 772.5L246.4 772.8L245.0 772.9L243.6 772.8L242.1 772.5L240.6 772.0L239.1 771.3L237.6 770.4L236.1 769.3L234.5 768.0L232.9 766.5L231.3 764.9L229.6 763.1L228.0 761.1L226.3 759.0L224.7 756.7L223.2 754.3L221.7 751.8L220.3 749.2L218.9 746.5L217.8 743.6L216.7 740.7L215.9 737.8L215.2 734.7L214.7 731.7L214.4 728.6L214.2 725.5L214.3 722.6L214.5 719.7L214.8 716.8L215.3 714.0L215.9 711.2L216.6 708.4L217.4 705.8L218.4 703.2L219.4 700.7L220.6 698.4L221.9 696.1L223.3 694.0L224.7 692.0L226.3 690.1L227.9 688.4L229.6 686.9L231.4 685.5L233.2 684.3L235.1 683.3L237.0 682.5L239.0 681.8L241.0 681.3L243.0 681.0L245.0 680.9L247.0 681.0L249.0 681.3L251.0 681.8L253.0 682.5L254.9 683.3L256.8 684.3L258.6 685.5L260.4 686.9L262.1 688.4L263.7 690.1L265.3 692.0L266.7 694.0L268.1 696.1L269.4 698.4L270.6 700.7L271.6 703.2L272.6 705.8L273.4 708.4L274.1 711.2L274.7 714.0L275.2 716.8L275.5 719.7L275.7 722.6Z" fill="rgb(0,255,32)"/><path d="M274.5 725.0L274.4 727.9L274.1 730.9L273.6 733.8L273.0 736.6L272.1 739.5L271.1 742.2L270.0 744.9L268.8 747.5L267.4 750.0L266.0 752.4L264.5 754.7L262.9 756.8L261.4 758.8L259.8 760.7L258.2 762.4L256.7 764.0L255.1 765.4L253.6 766.6L252.1 767.6L250.6 768.5L249.2 769.1L247.8 769.6L246.4 769.9L245.0 770.0L243.6 769.9L242.2 769.6L240.8 769.1L239.4 768.5L237.9 767.6L236.4 766.6L234.9 765.4L233.3 764.0L231.8 762.4L230.2 760.7L228.6 758.8L227.1 756.8L225.5 754.7L224.0 752.4L222.6 750.0L221.2 747.5L220.0 744.9L218.9 742.2L217.9 739.5L217.0 736.6L216.4 733.8L215.9 730.9L215.6 727.9L215.5 725.0L215.6 722.2L215.8 719.5L216.1 716.7L216.5 714.0L217.1 711.3L217.7 708.7L218.5 706.2L219.5 703.8L220.5 701.4L221.6 699.1L222.8 697.0L224.1 694.9L225.5 693.0L227.0 691.3L228.6 689.7L230.2 688.2L232.0 686.9L233.7 685.7L235.5 684.8L237.4 683.9L239.2 683.3L241.1 682.9L243.1 682.6L245.0 682.5L246.9 682.6L248.9 682.9L250.8 683.3L252.6 683.9L254.5 684.8L256.3 685.7L258.0 686.9L259.8 688.2L261.4 689.7L263.0 691.3L264.5 693.0L265.9 694.9L267.2 697.0L268.4 699.1L269.5 701.4L270.5 703.8L271.5 706.2L272.3 708.7L272.9 711.3L273.5 714.0L273.9 716.7L274.2 719.5L274.4 722.2Z" fill="rgb(0,255,0)"/><path d="M273.5 724.6L273.4 727.5L273.1 730.3L272.7 733.1L272.0 735.9L271.2 738.6L270.3 741.3L269.2 743.9L268.0 746.4L266.7 748.9L265.3 751.2L263.9 753.4L262.4 755.5L260.9 757.4L259.4 759.2L257.9 760.9L256.3 762.4L254.8 763.8L253.4 764.9L251.9 765.9L250.5 766.8L249.1 767.4L247.7 767.9L246.4 768.2L245.0 768.2L243.6 768.2L242.3 767.9L240.9 767.4L239.5 766.8L238.1 765.9L236.6 764.9L235.2 763.8L233.7 762.4L232.1 760.9L230.6 759.2L229.1 757.4L227.6 755.5L226.1 753.4L224.7 751.2L223.3 748.9L222.0 746.4L220.8 743.9L219.7 741.3L218.8 738.6L218.0 735.9L217.3 733.1L216.9 730.3L216.6 727.5L216.5 724.6L216.6 722.0L216.7 719.3L217.0 716.7L217.5 714.1L218.0 711.5L218.7 709.0L219.4 706.6L220.3 704.2L221.3 702.0L222.4 699.8L223.6 697.7L224.8 695.8L226.2 693.9L227.7 692.2L229.2 690.7L230.8 689.3L232.4 688.0L234.1 686.9L235.8 686.0L237.6 685.2L239.4 684.6L241.3 684.2L243.1 683.9L245.0 683.8L246.9 683.9L248.7 684.2L250.6 684.6L252.4 685.2L254.2 686.0L255.9 686.9L257.6 688.0L259.2 689.3L260.8 690.7L262.3 692.2L263.8 693.9L265.2 695.8L266.4 697.7L267.6 699.8L268.7 702.0L269.7 704.2L270.6 706.6L271.3 709.0L272.0 711.5L272.5 714.1L273.0 716.7L273.3 719.3L273.4 722.0Z" fill="rgb(0,255,0)"/><path d="M272.5 724.2L272.4 727.0L272.1 729.8L271.7 732.5L271.1 735.2L270.3 737.8L269.4 740.4L268.4 742.9L267.2 745.4L266.0 747.7L264.7 750.0L263.3 752.1L261.9 754.1L260.4 756.0L259.0 757.8L257.5 759.4L256.0 760.8L254.6 762.1L253.1 763.3L251.7 764.3L250.4 765.1L249.0 765.7L247.7 766.1L246.3 766.4L245.0 766.5L243.7 766.4L242.3 766.1L241.0 765.7L239.6 765.1L238.3 764.3L236.9 763.3L235.4 762.1L234.0 760.8L232.5 759.4L231.0 757.8L229.6 756.0L228.1 754.1L226.7 752.1L225.3 750.0L224.0 747.7L222.8 745.4L221.6 742.9L220.6 740.4L219.7 737.8L218.9 735.2L218.3 732.5L217.9 729.8L217.6 727.0L217.5 724.2L217.6 721.7L217.7 719.1L218.0 716.6L218.4 714.1L219.0 711.7L219.6 709.3L220.3 706.9L221.2 704.7L222.1 702.5L223.2 700.4L224.3 698.5L225.6 696.6L226.9 694.8L228.3 693.2L229.7 691.7L231.2 690.4L232.8 689.2L234.5 688.1L236.2 687.2L237.9 686.5L239.6 685.9L241.4 685.5L243.2 685.2L245.0 685.1L246.8 685.2L248.6 685.5L250.4 685.9L252.1 686.5L253.8 687.2L255.5 688.1L257.2 689.2L258.8 690.4L260.3 691.7L261.7 693.2L263.1 694.8L264.4 696.6L265.7 698.5L266.8 700.4L267.9 702.5L268.8 704.7L269.7 706.9L270.4 709.3L271.0 711.7L271.6 714.1L272.0 716.6L272.3 719.1L272.4 721.7Z" fill="rgb(0,255,0)"/><path d="M271.5 723.9L271.4 726.5L271.2 729.2L270.7 731.8L270.2 734.5L269.4 737.0L268.6 739.5L267.6 742.0L266.5 744.3L265.3 746.6L264.0 748.8L262.7 750.8L261.3 752.8L259.9 754.6L258.5 756.3L257.1 757.9L255.7 759.3L254.3 760.5L252.9 761.6L251.6 762.6L250.2 763.4L248.9 764.0L247.6 764.4L246.3 764.7L245.0 764.8L243.7 764.7L242.4 764.4L241.1 764.0L239.8 763.4L238.4 762.6L237.1 761.6L235.7 760.5L234.3 759.3L232.9 757.9L231.5 756.3L230.1 754.6L228.7 752.8L227.3 750.8L226.0 748.8L224.7 746.6L223.5 744.3L222.4 742.0L221.4 739.5L220.6 737.0L219.8 734.5L219.3 731.8L218.8 729.2L218.6 726.5L218.5 723.9L218.6 721.4L218.7 719.0L219.0 716.6L219.4 714.2L219.9 711.8L220.5 709.5L221.2 707.3L222.1 705.2L223.0 703.1L224.0 701.1L225.1 699.2L226.3 697.4L227.5 695.7L228.9 694.2L230.3 692.7L231.8 691.5L233.3 690.3L234.9 689.3L236.5 688.4L238.1 687.7L239.8 687.2L241.5 686.8L243.3 686.5L245.0 686.4L246.7 686.5L248.5 686.8L250.2 687.2L251.9 687.7L253.5 688.4L255.1 689.3L256.7 690.3L258.2 691.5L259.7 692.7L261.1 694.2L262.5 695.7L263.7 697.4L264.9 699.2L266.0 701.1L267.0 703.1L267.9 705.2L268.8 707.3L269.5 709.5L270.1 711.8L270.6 714.2L271.0 716.6L271.3 719.0L271.4 721.4Z" fill="rgb(0,255,0)"/><path d="M270.5 723.5L270.4 726.1L270.2 728.7L269.8 731.2L269.2 733.7L268.5 736.2L267.7 738.6L266.8 741.0L265.7 743.2L264.6 745.4L263.4 747.5L262.1 749.5L260.8 751.4L259.5 753.2L258.1 754.8L256.8 756.3L255.4 757.7L254.0 758.9L252.7 760.0L251.4 760.9L250.1 761.7L248.8 762.2L247.5 762.7L246.3 762.9L245.0 763.0L243.7 762.9L242.5 762.7L241.2 762.2L239.9 761.7L238.6 760.9L237.3 760.0L236.0 758.9L234.6 757.7L233.2 756.3L231.9 754.8L230.5 753.2L229.2 751.4L227.9 749.5L226.6 747.5L225.4 745.4L224.3 743.2L223.2 741.0L222.3 738.6L221.5 736.2L220.8 733.7L220.2 731.2L219.8 728.7L219.6 726.1L219.5 723.5L219.6 721.2L219.7 718.8L220.0 716.5L220.4 714.2L220.9 712.0L221.4 709.8L222.1 707.7L222.9 705.6L223.8 703.6L224.8 701.7L225.8 699.9L227.0 698.2L228.2 696.6L229.5 695.1L230.8 693.8L232.2 692.5L233.7 691.4L235.2 690.5L236.8 689.6L238.4 689.0L240.0 688.4L241.7 688.1L243.3 687.8L245.0 687.8L246.7 687.8L248.3 688.1L250.0 688.4L251.6 689.0L253.2 689.6L254.8 690.5L256.3 691.4L257.8 692.5L259.2 693.8L260.5 695.1L261.8 696.6L263.0 698.2L264.2 699.9L265.2 701.7L266.2 703.6L267.1 705.6L267.9 707.7L268.6 709.8L269.1 712.0L269.6 714.2L270.0 716.5L270.3 718.8L270.4 721.2Z" fill="rgb(0,255,0)"/><path d="M269.5 723.1L269.4 725.6L269.2 728.1L268.8 730.6L268.3 733.0L267.6 735.4L266.9 737.7L266.0 740.0L265.0 742.2L263.9 744.3L262.7 746.3L261.5 748.3L260.3 750.1L259.0 751.8L257.7 753.4L256.4 754.8L255.1 756.1L253.8 757.3L252.5 758.3L251.2 759.2L249.9 760.0L248.7 760.5L247.5 760.9L246.2 761.2L245.0 761.2L243.8 761.2L242.5 760.9L241.3 760.5L240.1 760.0L238.8 759.2L237.5 758.3L236.2 757.3L234.9 756.1L233.6 754.8L232.3 753.4L231.0 751.8L229.7 750.1L228.5 748.3L227.3 746.3L226.1 744.3L225.0 742.2L224.0 740.0L223.1 737.7L222.4 735.4L221.7 733.0L221.2 730.6L220.8 728.1L220.6 725.6L220.5 723.1L220.6 720.9L220.7 718.7L221.0 716.5L221.3 714.3L221.8 712.2L222.4 710.1L223.0 708.1L223.8 706.1L224.6 704.2L225.6 702.4L226.6 700.7L227.7 699.0L228.8 697.5L230.1 696.1L231.4 694.8L232.8 693.6L234.2 692.6L235.6 691.7L237.1 690.9L238.7 690.2L240.2 689.7L241.8 689.4L243.4 689.1L245.0 689.1L246.6 689.1L248.2 689.4L249.8 689.7L251.3 690.2L252.9 690.9L254.4 691.7L255.8 692.6L257.2 693.6L258.6 694.8L259.9 696.1L261.2 697.5L262.3 699.0L263.4 700.7L264.4 702.4L265.4 704.2L266.2 706.1L267.0 708.1L267.6 710.1L268.2 712.2L268.7 714.3L269.0 716.5L269.3 718.7L269.4 720.9Z" fill="rgb(0,255,0)"/><path d="M268.5 722.8L268.4 725.2L268.2 727.5L267.9 729.9L267.4 732.3L266.7 734.6L266.0 736.8L265.1 739.0L264.2 741.1L263.2 743.2L262.1 745.1L260.9 747.0L259.7 748.7L258.5 750.4L257.3 751.9L256.0 753.3L254.8 754.6L253.5 755.7L252.3 756.7L251.0 757.5L249.8 758.2L248.6 758.8L247.4 759.2L246.2 759.4L245.0 759.5L243.8 759.4L242.6 759.2L241.4 758.8L240.2 758.2L239.0 757.5L237.7 756.7L236.5 755.7L235.2 754.6L234.0 753.3L232.7 751.9L231.5 750.4L230.3 748.7L229.1 747.0L227.9 745.1L226.8 743.2L225.8 741.1L224.9 739.0L224.0 736.8L223.3 734.6L222.6 732.3L222.1 729.9L221.8 727.5L221.6 725.2L221.5 722.8L221.6 720.6L221.7 718.5L222.0 716.4L222.3 714.4L222.7 712.3L223.3 710.4L223.9 708.4L224.6 706.6L225.5 704.8L226.4 703.0L227.3 701.4L228.4 699.9L229.5 698.4L230.7 697.1L231.9 695.8L233.2 694.7L234.6 693.7L236.0 692.8L237.4 692.1L238.9 691.5L240.4 691.0L241.9 690.7L243.5 690.4L245.0 690.4L246.5 690.4L248.1 690.7L249.6 691.0L251.1 691.5L252.6 692.1L254.0 692.8L255.4 693.7L256.8 694.7L258.1 695.8L259.3 697.1L260.5 698.4L261.6 699.9L262.7 701.4L263.6 703.0L264.5 704.8L265.4 706.6L266.1 708.4L266.7 710.4L267.3 712.3L267.7 714.4L268.0 716.4L268.3 718.5L268.4 720.6Z" fill="rgb(0,255,0)"/><path d="M267.5 722.4L267.4 724.7L267.2 727.0L266.9 729.3L266.4 731.5L265.8 733.7L265.1 735.9L264.3 738.0L263.4 740.1L262.5 742.0L261.4 743.9L260.3 745.7L259.2 747.4L258.0 749.0L256.9 750.4L255.7 751.8L254.5 753.0L253.2 754.1L252.0 755.1L250.9 755.9L249.7 756.5L248.5 757.1L247.3 757.4L246.2 757.7L245.0 757.8L243.8 757.7L242.7 757.4L241.5 757.1L240.3 756.5L239.1 755.9L238.0 755.1L236.8 754.1L235.5 753.0L234.3 751.8L233.1 750.4L232.0 749.0L230.8 747.4L229.7 745.7L228.6 743.9L227.5 742.0L226.6 740.1L225.7 738.0L224.9 735.9L224.2 733.7L223.6 731.5L223.1 729.3L222.8 727.0L222.6 724.7L222.5 722.4L222.5 720.4L222.7 718.4L222.9 716.4L223.3 714.4L223.7 712.5L224.2 710.6L224.8 708.8L225.5 707.0L226.3 705.3L227.1 703.7L228.1 702.1L229.1 700.7L230.2 699.3L231.3 698.0L232.5 696.9L233.8 695.8L235.0 694.9L236.4 694.0L237.8 693.3L239.2 692.7L240.6 692.3L242.1 692.0L243.5 691.8L245.0 691.7L246.5 691.8L247.9 692.0L249.4 692.3L250.8 692.7L252.2 693.3L253.6 694.0L255.0 694.9L256.2 695.8L257.5 696.9L258.7 698.0L259.8 699.3L260.9 700.7L261.9 702.1L262.9 703.7L263.7 705.3L264.5 707.0L265.2 708.8L265.8 710.6L266.3 712.5L266.7 714.4L267.1 716.4L267.3 718.4L267.5 720.4Z" fill="rgb(0,255,0)"/><path d="M266.5 722.0L266.4 724.2L266.2 726.4L265.9 728.6L265.5 730.8L264.9 732.9L264.3 735.0L263.5 737.0L262.7 739.0L261.8 740.9L260.8 742.7L259.8 744.4L258.7 746.0L257.6 747.6L256.4 749.0L255.3 750.3L254.1 751.4L253.0 752.5L251.8 753.4L250.7 754.2L249.5 754.8L248.4 755.3L247.3 755.7L246.1 755.9L245.0 756.0L243.9 755.9L242.7 755.7L241.6 755.3L240.5 754.8L239.3 754.2L238.2 753.4L237.0 752.5L235.9 751.4L234.7 750.3L233.6 749.0L232.4 747.6L231.3 746.0L230.2 744.4L229.2 742.7L228.2 740.9L227.3 739.0L226.5 737.0L225.7 735.0L225.1 732.9L224.5 730.8L224.1 728.6L223.8 726.4L223.6 724.2L223.5 722.0L223.5 720.1L223.7 718.2L223.9 716.3L224.2 714.5L224.6 712.7L225.1 710.9L225.7 709.2L226.4 707.5L227.1 705.9L227.9 704.3L228.8 702.9L229.8 701.5L230.8 700.2L231.9 699.0L233.1 697.9L234.2 696.9L235.5 696.0L236.8 695.2L238.1 694.5L239.4 694.0L240.8 693.6L242.2 693.2L243.6 693.1L245.0 693.0L246.4 693.1L247.8 693.2L249.2 693.6L250.6 694.0L251.9 694.5L253.2 695.2L254.5 696.0L255.8 696.9L256.9 697.9L258.1 699.0L259.2 700.2L260.2 701.5L261.2 702.9L262.1 704.3L262.9 705.9L263.6 707.5L264.3 709.2L264.9 710.9L265.4 712.7L265.8 714.5L266.1 716.3L266.3 718.2L266.5 720.1Z" fill="rgb(0,255,0)"/><path d="M265.9 721.8L265.9 724.0L265.7 726.2L265.4 728.3L265.0 730.4L264.4 732.5L263.8 734.5L263.0 736.5L262.2 738.4L261.3 740.3L260.4 742.1L259.4 743.7L258.3 745.3L257.2 746.8L256.1 748.2L255.0 749.5L253.9 750.6L252.8 751.6L251.6 752.5L250.5 753.3L249.4 753.9L248.3 754.4L247.2 754.8L246.1 755.0L245.0 755.1L243.9 755.0L242.8 754.8L241.7 754.4L240.6 753.9L239.5 753.3L238.4 752.5L237.2 751.6L236.1 750.6L235.0 749.5L233.9 748.2L232.8 746.8L231.7 745.3L230.6 743.7L229.6 742.1L228.7 740.3L227.8 738.4L227.0 736.5L226.2 734.5L225.6 732.5L225.0 730.4L224.6 728.3L224.3 726.2L224.1 724.0L224.1 721.8L224.1 720.0L224.2 718.1L224.5 716.3L224.8 714.5L225.2 712.7L225.7 711.0L226.2 709.3L226.9 707.7L227.6 706.1L228.4 704.6L229.3 703.1L230.2 701.8L231.2 700.5L232.3 699.4L233.4 698.3L234.5 697.3L235.7 696.4L237.0 695.7L238.3 695.0L239.6 694.5L240.9 694.0L242.3 693.7L243.6 693.6L245.0 693.5L246.4 693.6L247.7 693.7L249.1 694.0L250.4 694.5L251.7 695.0L253.0 695.7L254.3 696.4L255.5 697.3L256.6 698.3L257.7 699.4L258.8 700.5L259.8 701.8L260.7 703.1L261.6 704.6L262.4 706.1L263.1 707.7L263.8 709.3L264.3 711.0L264.8 712.7L265.2 714.5L265.5 716.3L265.8 718.1L265.9 720.0Z" fill="rgb(32,255,0)"/><path d="M265.4 721.6L265.3 723.8L265.1 725.9L264.8 728.0L264.4 730.0L263.9 732.1L263.3 734.1L262.6 736.0L261.8 737.9L260.9 739.7L260.0 741.4L259.0 743.1L258.0 744.6L256.9 746.1L255.8 747.4L254.8 748.6L253.7 749.8L252.6 750.8L251.5 751.7L250.4 752.4L249.3 753.0L248.2 753.5L247.1 753.8L246.1 754.1L245.0 754.1L243.9 754.1L242.9 753.8L241.8 753.5L240.7 753.0L239.6 752.4L238.5 751.7L237.4 750.8L236.3 749.8L235.2 748.6L234.2 747.4L233.1 746.1L232.0 744.6L231.0 743.1L230.0 741.4L229.1 739.7L228.2 737.9L227.4 736.0L226.7 734.1L226.1 732.1L225.6 730.0L225.2 728.0L224.9 725.9L224.7 723.8L224.6 721.6L224.7 719.8L224.8 718.0L225.0 716.2L225.3 714.5L225.7 712.7L226.2 711.1L226.7 709.4L227.4 707.8L228.1 706.3L228.8 704.8L229.7 703.4L230.6 702.1L231.6 700.9L232.6 699.7L233.7 698.7L234.8 697.7L236.0 696.8L237.2 696.1L238.5 695.5L239.7 694.9L241.0 694.5L242.3 694.2L243.7 694.1L245.0 694.0L246.3 694.1L247.7 694.2L249.0 694.5L250.3 694.9L251.5 695.5L252.8 696.1L254.0 696.8L255.2 697.7L256.3 698.7L257.4 699.7L258.4 700.9L259.4 702.1L260.3 703.4L261.2 704.8L261.9 706.3L262.6 707.8L263.3 709.4L263.8 711.1L264.3 712.7L264.7 714.5L265.0 716.2L265.2 718.0L265.3 719.8Z" fill="rgb(64,255,0)"/><path d="M264.8 721.4L264.8 723.5L264.6 725.6L264.3 727.6L263.9 729.7L263.4 731.6L262.8 733.6L262.1 735.5L261.3 737.3L260.5 739.1L259.6 740.8L258.6 742.4L257.6 743.9L256.6 745.3L255.5 746.6L254.5 747.8L253.4 748.9L252.4 749.9L251.3 750.8L250.2 751.5L249.2 752.1L248.1 752.6L247.1 752.9L246.0 753.1L245.0 753.2L244.0 753.1L242.9 752.9L241.9 752.6L240.8 752.1L239.8 751.5L238.7 750.8L237.6 749.9L236.6 748.9L235.5 747.8L234.5 746.6L233.4 745.3L232.4 743.9L231.4 742.4L230.4 740.8L229.5 739.1L228.7 737.3L227.9 735.5L227.2 733.6L226.6 731.6L226.1 729.7L225.7 727.6L225.4 725.6L225.2 723.5L225.2 721.4L225.2 719.7L225.4 717.9L225.6 716.2L225.9 714.5L226.2 712.8L226.7 711.1L227.2 709.5L227.8 708.0L228.5 706.5L229.3 705.0L230.1 703.7L231.0 702.4L231.9 701.2L232.9 700.1L234.0 699.0L235.1 698.1L236.2 697.3L237.4 696.6L238.6 695.9L239.9 695.4L241.1 695.0L242.4 694.7L243.7 694.6L245.0 694.5L246.3 694.6L247.6 694.7L248.9 695.0L250.1 695.4L251.4 695.9L252.6 696.6L253.8 697.3L254.9 698.1L256.0 699.0L257.1 700.1L258.1 701.2L259.0 702.4L259.9 703.7L260.7 705.0L261.5 706.5L262.2 708.0L262.8 709.5L263.3 711.1L263.8 712.8L264.1 714.5L264.4 716.2L264.6 717.9L264.8 719.7Z" fill="rgb(96,255,0)"/><path d="M264.2 721.2L264.2 723.3L264.0 725.3L263.7 727.3L263.3 729.3L262.9 731.2L262.3 733.1L261.6 735.0L260.8 736.8L260.0 738.5L259.1 740.1L258.2 741.7L257.3 743.2L256.3 744.6L255.2 745.8L254.2 747.0L253.2 748.1L252.1 749.1L251.1 749.9L250.1 750.6L249.1 751.2L248.0 751.7L247.0 752.0L246.0 752.2L245.0 752.2L244.0 752.2L243.0 752.0L242.0 751.7L240.9 751.2L239.9 750.6L238.9 749.9L237.9 749.1L236.8 748.1L235.8 747.0L234.8 745.8L233.7 744.6L232.7 743.2L231.8 741.7L230.9 740.1L230.0 738.5L229.2 736.8L228.4 735.0L227.7 733.1L227.1 731.2L226.7 729.3L226.3 727.3L226.0 725.3L225.8 723.3L225.8 721.2L225.8 719.5L225.9 717.8L226.1 716.1L226.4 714.5L226.8 712.8L227.2 711.2L227.7 709.6L228.3 708.1L229.0 706.7L229.7 705.3L230.5 703.9L231.4 702.7L232.3 701.5L233.3 700.4L234.3 699.4L235.4 698.5L236.5 697.7L237.6 697.0L238.8 696.4L240.0 695.9L241.2 695.5L242.5 695.2L243.7 695.1L245.0 695.0L246.3 695.1L247.5 695.2L248.8 695.5L250.0 695.9L251.2 696.4L252.4 697.0L253.5 697.7L254.6 698.5L255.7 699.4L256.7 700.4L257.7 701.5L258.6 702.7L259.5 703.9L260.3 705.3L261.0 706.7L261.7 708.1L262.3 709.6L262.8 711.2L263.2 712.8L263.6 714.5L263.9 716.1L264.1 717.8L264.2 719.5Z" fill="rgb(128,255,0)"/><path d="M263.7 721.1L263.6 723.0L263.5 725.0L263.2 727.0L262.8 728.9L262.3 730.8L261.8 732.6L261.1 734.4L260.4 736.2L259.6 737.9L258.7 739.5L257.8 741.0L256.9 742.5L255.9 743.8L254.9 745.1L253.9 746.2L252.9 747.3L251.9 748.2L250.9 749.0L249.9 749.7L248.9 750.3L247.9 750.7L247.0 751.1L246.0 751.2L245.0 751.3L244.0 751.2L243.0 751.1L242.1 750.7L241.1 750.3L240.1 749.7L239.1 749.0L238.1 748.2L237.1 747.3L236.1 746.2L235.1 745.1L234.1 743.8L233.1 742.5L232.2 741.0L231.3 739.5L230.4 737.9L229.6 736.2L228.9 734.4L228.2 732.6L227.7 730.8L227.2 728.9L226.8 727.0L226.5 725.0L226.4 723.0L226.3 721.1L226.4 719.4L226.5 717.7L226.7 716.1L226.9 714.4L227.3 712.8L227.7 711.3L228.2 709.8L228.8 708.3L229.5 706.9L230.2 705.5L230.9 704.2L231.8 703.0L232.7 701.8L233.6 700.8L234.6 699.8L235.7 698.9L236.7 698.1L237.8 697.4L239.0 696.9L240.2 696.4L241.4 696.0L242.6 695.7L243.8 695.6L245.0 695.5L246.2 695.6L247.4 695.7L248.6 696.0L249.8 696.4L251.0 696.9L252.2 697.4L253.3 698.1L254.3 698.9L255.4 699.8L256.4 700.8L257.3 701.8L258.2 703.0L259.1 704.2L259.8 705.5L260.5 706.9L261.2 708.3L261.8 709.8L262.3 711.3L262.7 712.8L263.1 714.4L263.3 716.1L263.5 717.7L263.6 719.4Z" fill="rgb(159,255,0)"/><path d="M263.1 720.9L263.1 722.8L262.9 724.7L262.6 726.6L262.3 728.5L261.8 730.4L261.3 732.2L260.6 733.9L259.9 735.6L259.1 737.3L258.3 738.8L257.4 740.3L256.5 741.7L255.6 743.1L254.6 744.3L253.7 745.4L252.7 746.4L251.7 747.3L250.8 748.1L249.8 748.8L248.8 749.4L247.9 749.8L246.9 750.1L245.9 750.3L245.0 750.4L244.1 750.3L243.1 750.1L242.1 749.8L241.2 749.4L240.2 748.8L239.2 748.1L238.3 747.3L237.3 746.4L236.3 745.4L235.4 744.3L234.4 743.1L233.5 741.7L232.6 740.3L231.7 738.8L230.9 737.3L230.1 735.6L229.4 733.9L228.7 732.2L228.2 730.4L227.7 728.5L227.4 726.6L227.1 724.7L226.9 722.8L226.9 720.9L226.9 719.2L227.0 717.6L227.2 716.0L227.5 714.4L227.8 712.9L228.3 711.4L228.7 709.9L229.3 708.4L229.9 707.1L230.6 705.7L231.4 704.5L232.2 703.3L233.0 702.2L234.0 701.1L234.9 700.2L235.9 699.3L237.0 698.6L238.1 697.9L239.2 697.3L240.3 696.8L241.5 696.5L242.6 696.2L243.8 696.1L245.0 696.0L246.2 696.1L247.4 696.2L248.5 696.5L249.7 696.8L250.8 697.3L251.9 697.9L253.0 698.6L254.1 699.3L255.1 700.2L256.0 701.1L257.0 702.2L257.8 703.3L258.6 704.5L259.4 705.7L260.1 707.1L260.7 708.4L261.3 709.9L261.7 711.4L262.2 712.9L262.5 714.4L262.8 716.0L263.0 717.6L263.1 719.2Z" fill="rgb(191,255,0)"/><path d="M262.6 720.7L262.5 722.6L262.4 724.4L262.1 726.3L261.7 728.1L261.3 729.9L260.8 731.7L260.1 733.4L259.4 735.1L258.7 736.7L257.9 738.2L257.1 739.6L256.2 741.0L255.3 742.3L254.3 743.5L253.4 744.6L252.5 745.6L251.5 746.5L250.6 747.2L249.6 747.9L248.7 748.5L247.8 748.9L246.8 749.2L245.9 749.4L245.0 749.4L244.1 749.4L243.2 749.2L242.2 748.9L241.3 748.5L240.4 747.9L239.4 747.2L238.5 746.5L237.5 745.6L236.6 744.6L235.7 743.5L234.7 742.3L233.8 741.0L232.9 739.6L232.1 738.2L231.3 736.7L230.6 735.1L229.9 733.4L229.2 731.7L228.7 729.9L228.3 728.1L227.9 726.3L227.6 724.4L227.5 722.6L227.4 720.7L227.5 719.1L227.6 717.5L227.8 716.0L228.0 714.4L228.4 712.9L228.8 711.4L229.2 710.0L229.8 708.6L230.4 707.2L231.1 706.0L231.8 704.7L232.6 703.6L233.4 702.5L234.3 701.5L235.2 700.6L236.2 699.7L237.2 699.0L238.3 698.3L239.4 697.8L240.5 697.3L241.6 697.0L242.7 696.7L243.9 696.6L245.0 696.5L246.1 696.6L247.3 696.7L248.4 697.0L249.5 697.3L250.6 697.8L251.7 698.3L252.8 699.0L253.8 699.7L254.8 700.6L255.7 701.5L256.6 702.5L257.4 703.6L258.2 704.7L258.9 706.0L259.6 707.2L260.2 708.6L260.8 710.0L261.2 711.4L261.6 712.9L262.0 714.4L262.2 716.0L262.4 717.5L262.5 719.1Z" fill="rgb(223,255,0)"/><path d="M262.0 720.5L261.9 722.3L261.8 724.2L261.5 726.0L261.2 727.7L260.8 729.5L260.2 731.2L259.7 732.9L259.0 734.5L258.3 736.1L257.5 737.5L256.7 739.0L255.8 740.3L254.9 741.6L254.0 742.7L253.1 743.8L252.2 744.7L251.3 745.6L250.4 746.4L249.5 747.0L248.6 747.5L247.7 748.0L246.8 748.3L245.9 748.4L245.0 748.5L244.1 748.4L243.2 748.3L242.3 748.0L241.4 747.5L240.5 747.0L239.6 746.4L238.7 745.6L237.8 744.7L236.9 743.8L236.0 742.7L235.1 741.6L234.2 740.3L233.3 739.0L232.5 737.5L231.7 736.1L231.0 734.5L230.3 732.9L229.8 731.2L229.2 729.5L228.8 727.7L228.5 726.0L228.2 724.2L228.1 722.3L228.0 720.5L228.0 719.0L228.1 717.4L228.3 715.9L228.6 714.4L228.9 712.9L229.3 711.5L229.8 710.1L230.3 708.8L230.9 707.4L231.5 706.2L232.2 705.0L233.0 703.9L233.8 702.8L234.7 701.9L235.6 701.0L236.5 700.1L237.5 699.4L238.5 698.8L239.5 698.2L240.6 697.8L241.7 697.5L242.8 697.2L243.9 697.1L245.0 697.0L246.1 697.1L247.2 697.2L248.3 697.5L249.4 697.8L250.5 698.2L251.5 698.8L252.5 699.4L253.5 700.1L254.4 701.0L255.3 701.9L256.2 702.8L257.0 703.9L257.8 705.0L258.5 706.2L259.1 707.4L259.7 708.8L260.2 710.1L260.7 711.5L261.1 712.9L261.4 714.4L261.7 715.9L261.9 717.4L262.0 719.0Z" fill="rgb(255,255,0)"/><path d="M261.6 720.4L261.5 722.2L261.4 724.0L261.1 725.8L260.8 727.5L260.4 729.2L259.9 730.9L259.3 732.5L258.7 734.1L258.0 735.6L257.2 737.0L256.4 738.4L255.6 739.7L254.7 740.9L253.9 742.1L253.0 743.1L252.1 744.0L251.2 744.9L250.3 745.6L249.4 746.2L248.5 746.8L247.6 747.2L246.8 747.5L245.9 747.6L245.0 747.7L244.1 747.6L243.2 747.5L242.4 747.2L241.5 746.8L240.6 746.2L239.7 745.6L238.8 744.9L237.9 744.0L237.0 743.1L236.1 742.1L235.3 740.9L234.4 739.7L233.6 738.4L232.8 737.0L232.0 735.6L231.3 734.1L230.7 732.5L230.1 730.9L229.6 729.2L229.2 727.5L228.9 725.8L228.6 724.0L228.5 722.2L228.4 720.4L228.5 718.9L228.6 717.4L228.8 716.0L229.0 714.5L229.3 713.1L229.7 711.7L230.1 710.3L230.7 709.0L231.2 707.7L231.9 706.5L232.5 705.3L233.3 704.2L234.1 703.2L234.9 702.2L235.8 701.4L236.7 700.6L237.7 699.9L238.7 699.2L239.7 698.7L240.7 698.3L241.8 697.9L242.8 697.7L243.9 697.5L245.0 697.5L246.1 697.5L247.2 697.7L248.2 697.9L249.3 698.3L250.3 698.7L251.3 699.2L252.3 699.9L253.3 700.6L254.2 701.4L255.1 702.2L255.9 703.2L256.7 704.2L257.5 705.3L258.1 706.5L258.8 707.7L259.3 709.0L259.9 710.3L260.3 711.7L260.7 713.1L261.0 714.5L261.2 716.0L261.4 717.4L261.5 718.9Z" fill="rgb(255,241,0)"/><path d="M261.1 720.4L261.1 722.1L260.9 723.8L260.7 725.5L260.4 727.2L260.0 728.9L259.5 730.5L259.0 732.1L258.3 733.6L257.7 735.1L256.9 736.5L256.2 737.8L255.4 739.1L254.6 740.3L253.7 741.4L252.8 742.4L252.0 743.3L251.1 744.1L250.2 744.9L249.4 745.5L248.5 746.0L247.6 746.4L246.7 746.6L245.9 746.8L245.0 746.9L244.1 746.8L243.3 746.6L242.4 746.4L241.5 746.0L240.6 745.5L239.8 744.9L238.9 744.1L238.0 743.3L237.2 742.4L236.3 741.4L235.4 740.3L234.6 739.1L233.8 737.8L233.1 736.5L232.3 735.1L231.7 733.6L231.0 732.1L230.5 730.5L230.0 728.9L229.6 727.2L229.3 725.5L229.1 723.8L228.9 722.1L228.9 720.4L228.9 718.9L229.0 717.5L229.2 716.0L229.4 714.6L229.7 713.2L230.1 711.8L230.5 710.5L231.0 709.2L231.6 707.9L232.2 706.8L232.9 705.6L233.6 704.6L234.4 703.6L235.2 702.6L236.0 701.8L236.9 701.0L237.9 700.3L238.8 699.7L239.8 699.2L240.8 698.8L241.9 698.4L242.9 698.2L243.9 698.0L245.0 698.0L246.1 698.0L247.1 698.2L248.1 698.4L249.2 698.8L250.2 699.2L251.2 699.7L252.1 700.3L253.1 701.0L254.0 701.8L254.8 702.6L255.6 703.6L256.4 704.6L257.1 705.6L257.8 706.8L258.4 707.9L259.0 709.2L259.5 710.5L259.9 711.8L260.3 713.2L260.6 714.6L260.8 716.0L261.0 717.5L261.1 718.9Z" fill="rgb(255,226,0)"/><path d="M260.7 720.3L260.6 722.0L260.5 723.7L260.3 725.3L260.0 727.0L259.6 728.6L259.1 730.2L258.6 731.7L258.0 733.2L257.4 734.6L256.7 736.0L255.9 737.3L255.2 738.5L254.4 739.7L253.5 740.7L252.7 741.7L251.9 742.6L251.0 743.4L250.1 744.1L249.3 744.7L248.4 745.2L247.6 745.6L246.7 745.8L245.9 746.0L245.0 746.1L244.1 746.0L243.3 745.8L242.4 745.6L241.6 745.2L240.7 744.7L239.9 744.1L239.0 743.4L238.1 742.6L237.3 741.7L236.5 740.7L235.6 739.7L234.8 738.5L234.1 737.3L233.3 736.0L232.6 734.6L232.0 733.2L231.4 731.7L230.9 730.2L230.4 728.6L230.0 727.0L229.7 725.3L229.5 723.7L229.4 722.0L229.3 720.3L229.3 718.9L229.4 717.5L229.6 716.1L229.8 714.7L230.1 713.3L230.5 712.0L230.9 710.7L231.4 709.4L232.0 708.2L232.6 707.0L233.2 705.9L233.9 704.9L234.7 703.9L235.5 703.0L236.3 702.2L237.2 701.4L238.1 700.7L239.0 700.2L240.0 699.7L240.9 699.2L241.9 698.9L243.0 698.7L244.0 698.5L245.0 698.5L246.0 698.5L247.0 698.7L248.1 698.9L249.1 699.2L250.0 699.7L251.0 700.2L251.9 700.7L252.8 701.4L253.7 702.2L254.5 703.0L255.3 703.9L256.1 704.9L256.8 705.9L257.4 707.0L258.0 708.2L258.6 709.4L259.1 710.7L259.5 712.0L259.9 713.3L260.2 714.7L260.4 716.1L260.6 717.5L260.7 718.9Z" fill="rgb(255,212,0)"/><path d="M260.2 720.2L260.2 721.9L260.1 723.5L259.9 725.1L259.6 726.7L259.2 728.3L258.8 729.8L258.3 731.3L257.7 732.8L257.1 734.1L256.4 735.5L255.7 736.7L254.9 737.9L254.2 739.0L253.4 740.1L252.6 741.0L251.7 741.9L250.9 742.7L250.1 743.3L249.2 743.9L248.4 744.4L247.5 744.8L246.7 745.0L245.8 745.2L245.0 745.2L244.2 745.2L243.3 745.0L242.5 744.8L241.6 744.4L240.8 743.9L239.9 743.3L239.1 742.7L238.3 741.9L237.4 741.0L236.6 740.1L235.8 739.0L235.1 737.9L234.3 736.7L233.6 735.5L232.9 734.1L232.3 732.8L231.7 731.3L231.2 729.8L230.8 728.3L230.4 726.7L230.1 725.1L229.9 723.5L229.8 721.9L229.8 720.2L229.8 718.9L229.9 717.5L230.0 716.1L230.3 714.8L230.6 713.4L230.9 712.1L231.3 710.9L231.8 709.6L232.3 708.4L232.9 707.3L233.5 706.2L234.2 705.2L234.9 704.3L235.7 703.4L236.5 702.6L237.4 701.8L238.3 701.2L239.2 700.6L240.1 700.1L241.1 699.7L242.0 699.4L243.0 699.2L244.0 699.0L245.0 699.0L246.0 699.0L247.0 699.2L248.0 699.4L248.9 699.7L249.9 700.1L250.8 700.6L251.7 701.2L252.6 701.8L253.5 702.6L254.3 703.4L255.1 704.3L255.8 705.2L256.5 706.2L257.1 707.3L257.7 708.4L258.2 709.6L258.7 710.9L259.1 712.1L259.4 713.4L259.7 714.8L260.0 716.1L260.1 717.5L260.2 718.9Z" fill="rgb(255,198,0)"/><path d="M259.8 720.2L259.8 721.8L259.6 723.4L259.4 724.9L259.2 726.5L258.8 728.0L258.4 729.5L257.9 730.9L257.4 732.3L256.8 733.7L256.1 734.9L255.4 736.2L254.7 737.3L254.0 738.4L253.2 739.4L252.4 740.4L251.6 741.2L250.8 741.9L250.0 742.6L249.2 743.2L248.3 743.6L247.5 744.0L246.7 744.2L245.8 744.4L245.0 744.4L244.2 744.4L243.3 744.2L242.5 744.0L241.7 743.6L240.8 743.2L240.0 742.6L239.2 741.9L238.4 741.2L237.6 740.4L236.8 739.4L236.0 738.4L235.3 737.3L234.6 736.2L233.9 734.9L233.2 733.7L232.6 732.3L232.1 730.9L231.6 729.5L231.2 728.0L230.8 726.5L230.6 724.9L230.4 723.4L230.2 721.8L230.2 720.2L230.2 718.8L230.3 717.5L230.5 716.2L230.7 714.8L231.0 713.5L231.3 712.3L231.7 711.0L232.2 709.8L232.7 708.7L233.2 707.6L233.9 706.5L234.5 705.6L235.2 704.6L236.0 703.8L236.8 703.0L237.6 702.3L238.4 701.6L239.3 701.1L240.2 700.6L241.2 700.2L242.1 699.9L243.1 699.7L244.0 699.5L245.0 699.5L246.0 699.5L246.9 699.7L247.9 699.9L248.8 700.2L249.8 700.6L250.7 701.1L251.6 701.6L252.4 702.3L253.2 703.0L254.0 703.8L254.8 704.6L255.5 705.6L256.1 706.5L256.8 707.6L257.3 708.7L257.8 709.8L258.3 711.0L258.7 712.3L259.0 713.5L259.3 714.8L259.5 716.2L259.7 717.5L259.8 718.8Z" fill="rgb(255,183,0)"/><path d="M259.4 720.1L259.3 721.7L259.2 723.2L259.0 724.7L258.8 726.2L258.4 727.7L258.0 729.1L257.6 730.5L257.0 731.9L256.5 733.2L255.9 734.4L255.2 735.6L254.5 736.7L253.8 737.8L253.0 738.8L252.3 739.7L251.5 740.5L250.7 741.2L249.9 741.8L249.1 742.4L248.3 742.8L247.5 743.2L246.6 743.4L245.8 743.6L245.0 743.6L244.2 743.6L243.4 743.4L242.5 743.2L241.7 742.8L240.9 742.4L240.1 741.8L239.3 741.2L238.5 740.5L237.7 739.7L237.0 738.8L236.2 737.8L235.5 736.7L234.8 735.6L234.1 734.4L233.5 733.2L233.0 731.9L232.4 730.5L232.0 729.1L231.6 727.7L231.2 726.2L231.0 724.7L230.8 723.2L230.7 721.7L230.6 720.1L230.7 718.8L230.7 717.5L230.9 716.2L231.1 714.9L231.4 713.7L231.7 712.4L232.1 711.2L232.6 710.1L233.0 708.9L233.6 707.9L234.2 706.9L234.8 705.9L235.5 705.0L236.2 704.2L237.0 703.4L237.8 702.7L238.6 702.1L239.5 701.5L240.4 701.1L241.3 700.7L242.2 700.4L243.1 700.2L244.1 700.0L245.0 700.0L245.9 700.0L246.9 700.2L247.8 700.4L248.7 700.7L249.6 701.1L250.5 701.5L251.4 702.1L252.2 702.7L253.0 703.4L253.8 704.2L254.5 705.0L255.2 705.9L255.8 706.9L256.4 707.9L257.0 708.9L257.4 710.1L257.9 711.2L258.3 712.4L258.6 713.7L258.9 714.9L259.1 716.2L259.3 717.5L259.3 718.8Z" fill="rgb(255,169,0)"/><path d="M258.9 720.1L258.9 721.6L258.8 723.0L258.6 724.5L258.4 726.0L258.0 727.4L257.7 728.8L257.2 730.1L256.7 731.4L256.2 732.7L255.6 733.9L255.0 735.1L254.3 736.1L253.6 737.2L252.9 738.1L252.1 739.0L251.4 739.8L250.6 740.5L249.8 741.1L249.0 741.6L248.2 742.0L247.4 742.4L246.6 742.6L245.8 742.8L245.0 742.8L244.2 742.8L243.4 742.6L242.6 742.4L241.8 742.0L241.0 741.6L240.2 741.1L239.4 740.5L238.6 739.8L237.9 739.0L237.1 738.1L236.4 737.2L235.7 736.1L235.0 735.1L234.4 733.9L233.8 732.7L233.3 731.4L232.8 730.1L232.3 728.8L232.0 727.4L231.6 726.0L231.4 724.5L231.2 723.0L231.1 721.6L231.1 720.1L231.1 718.8L231.2 717.5L231.3 716.2L231.5 715.0L231.8 713.8L232.1 712.6L232.5 711.4L232.9 710.3L233.4 709.2L233.9 708.2L234.5 707.2L235.1 706.2L235.8 705.4L236.5 704.5L237.3 703.8L238.0 703.1L238.8 702.5L239.7 702.0L240.5 701.5L241.4 701.2L242.3 700.9L243.2 700.7L244.1 700.5L245.0 700.5L245.9 700.5L246.8 700.7L247.7 700.9L248.6 701.2L249.5 701.5L250.3 702.0L251.2 702.5L252.0 703.1L252.7 703.8L253.5 704.5L254.2 705.4L254.9 706.2L255.5 707.2L256.1 708.2L256.6 709.2L257.1 710.3L257.5 711.4L257.9 712.6L258.2 713.8L258.5 715.0L258.7 716.2L258.8 717.5L258.9 718.8Z" fill="rgb(255,154,0)"/><path d="M258.5 720.0L258.5 721.4L258.4 722.9L258.2 724.3L258.0 725.7L257.7 727.1L257.3 728.4L256.9 729.7L256.4 731.0L255.9 732.2L255.3 733.4L254.7 734.5L254.1 735.6L253.4 736.5L252.7 737.5L252.0 738.3L251.2 739.1L250.5 739.7L249.7 740.3L249.0 740.8L248.2 741.3L247.4 741.6L246.6 741.8L245.8 742.0L245.0 742.0L244.2 742.0L243.4 741.8L242.6 741.6L241.8 741.3L241.0 740.8L240.3 740.3L239.5 739.7L238.8 739.1L238.0 738.3L237.3 737.5L236.6 736.5L235.9 735.6L235.3 734.5L234.7 733.4L234.1 732.2L233.6 731.0L233.1 729.7L232.7 728.4L232.3 727.1L232.0 725.7L231.8 724.3L231.6 722.9L231.5 721.4L231.5 720.0L231.5 718.8L231.6 717.5L231.8 716.3L232.0 715.1L232.2 713.9L232.5 712.7L232.9 711.6L233.3 710.5L233.8 709.4L234.3 708.4L234.9 707.5L235.5 706.6L236.1 705.7L236.8 704.9L237.5 704.2L238.2 703.5L239.0 703.0L239.8 702.4L240.7 702.0L241.5 701.6L242.4 701.4L243.2 701.2L244.1 701.0L245.0 701.0L245.9 701.0L246.8 701.2L247.6 701.4L248.5 701.6L249.3 702.0L250.2 702.4L251.0 703.0L251.8 703.5L252.5 704.2L253.2 704.9L253.9 705.7L254.5 706.6L255.1 707.5L255.7 708.4L256.2 709.4L256.7 710.5L257.1 711.6L257.5 712.7L257.8 713.9L258.0 715.1L258.2 716.3L258.4 717.5L258.5 718.8Z" fill="rgb(255,140,0)"/><path d="M258.2 720.0L258.1 721.4L258.0 722.8L257.9 724.2L257.6 725.5L257.3 726.9L257.0 728.2L256.6 729.5L256.1 730.7L255.6 731.9L255.1 733.1L254.5 734.2L253.9 735.2L253.2 736.1L252.6 737.0L251.8 737.9L251.1 738.6L250.4 739.3L249.6 739.8L248.9 740.3L248.1 740.7L247.3 741.1L246.5 741.3L245.8 741.4L245.0 741.5L244.2 741.4L243.4 741.3L242.6 741.1L241.8 740.7L241.1 740.3L240.3 739.8L239.6 739.3L238.8 738.6L238.1 737.9L237.4 737.0L236.7 736.1L236.1 735.2L235.4 734.2L234.9 733.1L234.3 731.9L233.8 730.7L233.4 729.5L233.0 728.2L232.6 726.9L232.3 725.5L232.1 724.2L231.9 722.8L231.8 721.4L231.8 720.0L231.8 718.8L231.9 717.5L232.0 716.3L232.2 715.2L232.5 714.0L232.8 712.8L233.1 711.7L233.6 710.7L234.0 709.6L234.5 708.6L235.1 707.7L235.7 706.8L236.3 706.0L236.9 705.2L237.6 704.5L238.4 703.8L239.1 703.3L239.9 702.8L240.7 702.3L241.6 702.0L242.4 701.7L243.3 701.5L244.1 701.4L245.0 701.4L245.8 701.4L246.7 701.5L247.5 701.7L248.4 702.0L249.2 702.3L250.0 702.8L250.8 703.3L251.6 703.8L252.3 704.5L253.0 705.2L253.7 706.0L254.3 706.8L254.9 707.7L255.4 708.6L255.9 709.6L256.4 710.7L256.8 711.7L257.2 712.8L257.5 714.0L257.7 715.2L257.9 716.3L258.0 717.5L258.1 718.8Z" fill="rgb(255,131,0)"/><path d="M257.8 720.0L257.8 721.3L257.7 722.7L257.5 724.0L257.3 725.4L257.0 726.7L256.7 728.0L256.3 729.2L255.9 730.5L255.4 731.6L254.9 732.7L254.3 733.8L253.7 734.8L253.1 735.7L252.4 736.6L251.7 737.4L251.0 738.1L250.3 738.8L249.5 739.4L248.8 739.8L248.0 740.2L247.3 740.5L246.5 740.8L245.7 740.9L244.9 741.0L244.2 740.9L243.4 740.8L242.6 740.5L241.9 740.2L241.1 739.8L240.4 739.4L239.6 738.8L238.9 738.1L238.2 737.4L237.5 736.6L236.8 735.7L236.2 734.8L235.6 733.8L235.0 732.7L234.5 731.6L234.0 730.5L233.6 729.2L233.2 728.0L232.9 726.7L232.6 725.4L232.4 724.0L232.2 722.7L232.1 721.3L232.1 720.0L232.1 718.8L232.2 717.6L232.3 716.4L232.5 715.2L232.8 714.1L233.1 713.0L233.4 711.9L233.8 710.8L234.2 709.8L234.7 708.8L235.3 707.9L235.8 707.0L236.5 706.2L237.1 705.5L237.8 704.8L238.5 704.1L239.3 703.6L240.0 703.1L240.8 702.7L241.6 702.3L242.4 702.1L243.3 701.9L244.1 701.7L244.9 701.7L245.8 701.7L246.6 701.9L247.5 702.1L248.3 702.3L249.1 702.7L249.9 703.1L250.6 703.6L251.4 704.1L252.1 704.8L252.8 705.5L253.4 706.2L254.1 707.0L254.6 707.9L255.2 708.8L255.7 709.8L256.1 710.8L256.5 711.9L256.8 713.0L257.1 714.1L257.4 715.2L257.6 716.4L257.7 717.6L257.8 718.8Z" fill="rgb(255,122,0)"/><path d="M257.5 719.9L257.5 721.3L257.4 722.6L257.2 723.9L257.0 725.2L256.7 726.5L256.4 727.8L256.0 729.0L255.6 730.2L255.2 731.3L254.6 732.4L254.1 733.4L253.5 734.4L252.9 735.3L252.2 736.2L251.6 737.0L250.9 737.7L250.2 738.3L249.5 738.9L248.7 739.3L248.0 739.7L247.2 740.0L246.5 740.2L245.7 740.4L244.9 740.4L244.2 740.4L243.4 740.2L242.6 740.0L241.9 739.7L241.1 739.3L240.4 738.9L239.7 738.3L239.0 737.7L238.3 737.0L237.6 736.2L237.0 735.3L236.3 734.4L235.8 733.4L235.2 732.4L234.7 731.3L234.2 730.2L233.8 729.0L233.4 727.8L233.1 726.5L232.8 725.2L232.6 723.9L232.5 722.6L232.4 721.3L232.4 719.9L232.4 718.8L232.5 717.6L232.6 716.4L232.8 715.3L233.0 714.2L233.3 713.1L233.7 712.0L234.0 711.0L234.5 710.0L235.0 709.0L235.5 708.1L236.0 707.3L236.6 706.5L237.3 705.7L237.9 705.1L238.6 704.4L239.4 703.9L240.1 703.4L240.9 703.0L241.7 702.7L242.5 702.4L243.3 702.2L244.1 702.1L244.9 702.0L245.7 702.1L246.6 702.2L247.4 702.4L248.2 702.7L249.0 703.0L249.7 703.4L250.5 703.9L251.2 704.4L251.9 705.1L252.6 705.7L253.2 706.5L253.8 707.3L254.4 708.1L254.9 709.0L255.4 710.0L255.8 711.0L256.2 712.0L256.5 713.1L256.8 714.2L257.1 715.3L257.2 716.4L257.4 717.6L257.5 718.8Z" fill="rgb(255,114,0)"/><path d="M257.1 719.9L257.1 721.2L257.0 722.5L256.9 723.8L256.7 725.1L256.4 726.3L256.1 727.6L255.8 728.7L255.4 729.9L254.9 731.0L254.4 732.1L253.9 733.1L253.3 734.0L252.7 734.9L252.1 735.8L251.4 736.5L250.8 737.2L250.1 737.8L249.4 738.4L248.6 738.8L247.9 739.2L247.2 739.5L246.4 739.7L245.7 739.9L244.9 739.9L244.1 739.9L243.4 739.7L242.6 739.5L241.9 739.2L241.2 738.8L240.4 738.4L239.7 737.8L239.0 737.2L238.4 736.5L237.7 735.8L237.1 734.9L236.5 734.0L235.9 733.1L235.4 732.1L234.9 731.0L234.4 729.9L234.0 728.7L233.7 727.6L233.4 726.3L233.1 725.1L232.9 723.8L232.8 722.5L232.7 721.2L232.7 719.9L232.7 718.8L232.8 717.6L232.9 716.5L233.1 715.4L233.3 714.3L233.6 713.2L233.9 712.2L234.3 711.1L234.7 710.2L235.2 709.2L235.7 708.4L236.2 707.5L236.8 706.7L237.4 706.0L238.1 705.3L238.8 704.7L239.5 704.2L240.2 703.7L241.0 703.3L241.7 703.0L242.5 702.7L243.3 702.5L244.1 702.4L244.9 702.4L245.7 702.4L246.5 702.5L247.3 702.7L248.1 703.0L248.8 703.3L249.6 703.7L250.3 704.2L251.0 704.7L251.7 705.3L252.4 706.0L253.0 706.7L253.6 707.5L254.1 708.4L254.6 709.2L255.1 710.2L255.5 711.1L255.9 712.2L256.2 713.2L256.5 714.3L256.7 715.4L256.9 716.5L257.0 717.6L257.1 718.8Z" fill="rgb(255,105,0)"/><path d="M256.8 719.9L256.8 721.2L256.7 722.4L256.6 723.7L256.4 724.9L256.1 726.1L255.8 727.3L255.5 728.5L255.1 729.6L254.7 730.7L254.2 731.7L253.7 732.7L253.1 733.7L252.6 734.5L251.9 735.3L251.3 736.1L250.7 736.8L250.0 737.4L249.3 737.9L248.6 738.3L247.8 738.7L247.1 739.0L246.4 739.2L245.6 739.3L244.9 739.4L244.1 739.3L243.4 739.2L242.6 739.0L241.9 738.7L241.2 738.3L240.5 737.9L239.8 737.4L239.1 736.8L238.4 736.1L237.8 735.3L237.2 734.5L236.6 733.7L236.1 732.7L235.6 731.7L235.1 730.7L234.6 729.6L234.3 728.5L233.9 727.3L233.6 726.1L233.4 724.9L233.2 723.7L233.0 722.4L233.0 721.2L232.9 719.9L233.0 718.8L233.0 717.6L233.2 716.5L233.3 715.4L233.6 714.4L233.8 713.3L234.2 712.3L234.5 711.3L234.9 710.4L235.4 709.4L235.9 708.6L236.4 707.8L237.0 707.0L237.6 706.3L238.2 705.6L238.9 705.0L239.6 704.5L240.3 704.1L241.0 703.7L241.8 703.3L242.5 703.1L243.3 702.9L244.1 702.8L244.9 702.8L245.7 702.8L246.4 702.9L247.2 703.1L248.0 703.3L248.7 703.7L249.4 704.1L250.2 704.5L250.8 705.0L251.5 705.6L252.1 706.3L252.7 707.0L253.3 707.8L253.9 708.6L254.3 709.4L254.8 710.4L255.2 711.3L255.6 712.3L255.9 713.3L256.2 714.4L256.4 715.4L256.6 716.5L256.7 717.6L256.8 718.8Z" fill="rgb(255,96,0)"/><path d="M256.5 719.8L256.4 721.1L256.4 722.3L256.2 723.6L256.1 724.8L255.8 726.0L255.5 727.1L255.2 728.3L254.8 729.3L254.4 730.4L254.0 731.4L253.5 732.4L253.0 733.3L252.4 734.1L251.8 734.9L251.2 735.6L250.5 736.3L249.9 736.9L249.2 737.4L248.5 737.8L247.8 738.2L247.1 738.5L246.3 738.7L245.6 738.8L244.9 738.8L244.1 738.8L243.4 738.7L242.6 738.5L241.9 738.2L241.2 737.8L240.5 737.4L239.8 736.9L239.2 736.3L238.5 735.6L237.9 734.9L237.3 734.1L236.7 733.3L236.2 732.4L235.7 731.4L235.3 730.4L234.9 729.3L234.5 728.3L234.2 727.1L233.9 726.0L233.6 724.8L233.5 723.6L233.3 722.3L233.3 721.1L233.2 719.8L233.2 718.8L233.3 717.7L233.4 716.6L233.6 715.5L233.8 714.5L234.1 713.4L234.4 712.4L234.8 711.5L235.2 710.5L235.6 709.7L236.1 708.8L236.6 708.0L237.2 707.3L237.8 706.6L238.4 705.9L239.0 705.3L239.7 704.8L240.4 704.4L241.1 704.0L241.8 703.7L242.6 703.4L243.3 703.2L244.1 703.1L244.9 703.1L245.6 703.1L246.4 703.2L247.1 703.4L247.9 703.7L248.6 704.0L249.3 704.4L250.0 704.8L250.7 705.3L251.3 705.9L251.9 706.6L252.5 707.3L253.1 708.0L253.6 708.8L254.1 709.7L254.5 710.5L254.9 711.5L255.3 712.4L255.6 713.4L255.9 714.5L256.1 715.5L256.3 716.6L256.4 717.7L256.5 718.8Z" fill="rgb(255,88,0)"/><path d="M256.1 719.8L256.1 721.0L256.0 722.2L255.9 723.4L255.7 724.6L255.5 725.8L255.3 726.9L254.9 728.0L254.6 729.1L254.2 730.1L253.8 731.1L253.3 732.0L252.8 732.9L252.2 733.7L251.6 734.5L251.0 735.2L250.4 735.8L249.8 736.4L249.1 736.9L248.4 737.3L247.7 737.7L247.0 738.0L246.3 738.2L245.6 738.3L244.8 738.3L244.1 738.3L243.4 738.2L242.6 738.0L241.9 737.7L241.2 737.3L240.6 736.9L239.9 736.4L239.2 735.8L238.6 735.2L238.0 734.5L237.4 733.7L236.9 732.9L236.4 732.0L235.9 731.1L235.5 730.1L235.1 729.1L234.7 728.0L234.4 726.9L234.1 725.8L233.9 724.6L233.7 723.4L233.6 722.2L233.5 721.0L233.5 719.8L233.5 718.8L233.6 717.7L233.7 716.6L233.9 715.6L234.1 714.6L234.4 713.6L234.7 712.6L235.0 711.6L235.4 710.7L235.9 709.9L236.3 709.0L236.8 708.2L237.4 707.5L237.9 706.8L238.5 706.2L239.2 705.6L239.8 705.1L240.5 704.7L241.2 704.3L241.9 704.0L242.6 703.8L243.3 703.6L244.1 703.5L244.8 703.4L245.6 703.5L246.3 703.6L247.0 703.8L247.8 704.0L248.5 704.3L249.2 704.7L249.8 705.1L250.5 705.6L251.1 706.2L251.7 706.8L252.3 707.5L252.8 708.2L253.3 709.0L253.8 709.9L254.2 710.7L254.6 711.6L255.0 712.6L255.3 713.6L255.5 714.6L255.8 715.6L255.9 716.6L256.0 717.7L256.1 718.8Z" fill="rgb(255,79,0)"/><path d="M255.8 719.8L255.8 721.0L255.7 722.1L255.6 723.3L255.4 724.5L255.2 725.6L255.0 726.7L254.7 727.8L254.3 728.8L253.9 729.8L253.5 730.8L253.1 731.7L252.6 732.5L252.1 733.3L251.5 734.1L250.9 734.8L250.3 735.4L249.7 735.9L249.0 736.4L248.3 736.8L247.6 737.2L246.9 737.5L246.2 737.6L245.5 737.8L244.8 737.8L244.1 737.8L243.4 737.6L242.7 737.5L242.0 737.2L241.3 736.8L240.6 736.4L239.9 735.9L239.3 735.4L238.7 734.8L238.1 734.1L237.5 733.3L237.0 732.5L236.5 731.7L236.1 730.8L235.7 729.8L235.3 728.8L234.9 727.8L234.6 726.7L234.4 725.6L234.2 724.5L234.0 723.3L233.9 722.1L233.8 721.0L233.8 719.8L233.8 718.8L233.9 717.7L234.0 716.7L234.2 715.7L234.4 714.7L234.6 713.7L234.9 712.7L235.3 711.8L235.7 710.9L236.1 710.1L236.5 709.3L237.0 708.5L237.5 707.8L238.1 707.1L238.7 706.5L239.3 705.9L239.9 705.5L240.6 705.0L241.3 704.6L242.0 704.3L242.7 704.1L243.4 703.9L244.1 703.8L244.8 703.8L245.5 703.8L246.2 703.9L246.9 704.1L247.6 704.3L248.3 704.6L249.0 705.0L249.7 705.5L250.3 705.9L250.9 706.5L251.5 707.1L252.1 707.8L252.6 708.5L253.1 709.3L253.5 710.1L253.9 710.9L254.3 711.8L254.7 712.7L255.0 713.7L255.2 714.7L255.4 715.7L255.6 716.7L255.7 717.7L255.8 718.8Z" fill="rgb(255,70,0)"/><path d="M255.2 719.8L255.2 720.9L255.1 722.0L255.0 723.1L254.8 724.2L254.6 725.3L254.4 726.3L254.1 727.3L253.8 728.3L253.4 729.3L253.0 730.2L252.6 731.0L252.1 731.8L251.6 732.6L251.1 733.3L250.6 734.0L250.0 734.5L249.4 735.1L248.8 735.5L248.1 735.9L247.5 736.2L246.8 736.5L246.1 736.7L245.4 736.8L244.8 736.8L244.1 736.8L243.4 736.7L242.7 736.5L242.1 736.2L241.4 735.9L240.8 735.5L240.1 735.1L239.5 734.5L239.0 734.0L238.4 733.3L237.9 732.6L237.4 731.8L236.9 731.0L236.5 730.2L236.1 729.3L235.7 728.3L235.4 727.3L235.1 726.3L234.9 725.3L234.7 724.2L234.5 723.1L234.4 722.0L234.3 720.9L234.3 719.8L234.3 718.8L234.4 717.9L234.5 716.9L234.7 715.9L234.9 715.0L235.1 714.1L235.4 713.2L235.7 712.3L236.1 711.5L236.5 710.7L236.9 709.9L237.4 709.2L237.9 708.5L238.4 707.9L239.0 707.3L239.5 706.8L240.1 706.3L240.8 705.9L241.4 705.6L242.1 705.3L242.7 705.1L243.4 704.9L244.1 704.8L244.8 704.8L245.4 704.8L246.1 704.9L246.8 705.1L247.5 705.3L248.1 705.6L248.8 705.9L249.4 706.3L250.0 706.8L250.6 707.3L251.1 707.9L251.6 708.5L252.1 709.2L252.6 709.9L253.0 710.7L253.4 711.5L253.8 712.3L254.1 713.2L254.4 714.1L254.6 715.0L254.8 715.9L255.0 716.9L255.1 717.9L255.2 718.8Z" fill="rgb(255,61,0)"/><path d="M254.6 719.8L254.6 720.9L254.5 721.9L254.4 723.0L254.3 724.0L254.1 725.0L253.8 726.0L253.6 726.9L253.3 727.8L252.9 728.7L252.6 729.6L252.1 730.4L251.7 731.2L251.2 731.9L250.7 732.5L250.2 733.2L249.7 733.7L249.1 734.2L248.5 734.6L247.9 735.0L247.3 735.3L246.7 735.5L246.0 735.7L245.4 735.8L244.7 735.8L244.1 735.8L243.4 735.7L242.8 735.5L242.2 735.3L241.6 735.0L240.9 734.6L240.4 734.2L239.8 733.7L239.2 733.2L238.7 732.5L238.2 731.9L237.7 731.2L237.3 730.4L236.9 729.6L236.5 728.7L236.2 727.8L235.9 726.9L235.6 726.0L235.4 725.0L235.2 724.0L235.0 723.0L234.9 721.9L234.9 720.9L234.9 719.8L234.9 718.9L234.9 718.0L235.0 717.1L235.2 716.2L235.4 715.3L235.6 714.4L235.9 713.6L236.2 712.8L236.5 712.0L236.9 711.3L237.3 710.5L237.7 709.9L238.2 709.2L238.7 708.6L239.2 708.1L239.8 707.6L240.4 707.2L240.9 706.8L241.6 706.5L242.2 706.2L242.8 706.0L243.4 705.8L244.1 705.8L244.7 705.7L245.4 705.8L246.0 705.8L246.7 706.0L247.3 706.2L247.9 706.5L248.5 706.8L249.1 707.2L249.7 707.6L250.2 708.1L250.7 708.6L251.2 709.2L251.7 709.9L252.1 710.5L252.6 711.3L252.9 712.0L253.3 712.8L253.6 713.6L253.8 714.4L254.1 715.3L254.3 716.2L254.4 717.1L254.5 718.0L254.6 718.9Z" fill="rgb(255,52,0)"/><path d="M254.0 719.9L254.0 720.9L253.9 721.8L253.8 722.8L253.7 723.8L253.5 724.7L253.3 725.6L253.0 726.5L252.8 727.4L252.4 728.2L252.1 729.0L251.7 729.8L251.3 730.5L250.8 731.2L250.4 731.8L249.9 732.3L249.3 732.9L248.8 733.3L248.3 733.7L247.7 734.1L247.1 734.4L246.5 734.6L245.9 734.7L245.3 734.8L244.7 734.9L244.1 734.8L243.5 734.7L242.9 734.6L242.3 734.4L241.7 734.1L241.1 733.7L240.6 733.3L240.0 732.9L239.5 732.3L239.0 731.8L238.5 731.2L238.1 730.5L237.7 729.8L237.3 729.0L236.9 728.2L236.6 727.4L236.3 726.5L236.1 725.6L235.9 724.7L235.7 723.8L235.6 722.8L235.5 721.8L235.4 720.9L235.4 719.9L235.4 719.0L235.5 718.2L235.6 717.3L235.7 716.5L235.9 715.6L236.1 714.8L236.3 714.0L236.6 713.3L236.9 712.5L237.3 711.8L237.7 711.2L238.1 710.6L238.5 710.0L239.0 709.4L239.5 708.9L240.0 708.5L240.6 708.0L241.1 707.7L241.7 707.4L242.3 707.1L242.9 706.9L243.5 706.8L244.1 706.7L244.7 706.7L245.3 706.7L245.9 706.8L246.5 706.9L247.1 707.1L247.7 707.4L248.3 707.7L248.8 708.0L249.3 708.5L249.9 708.9L250.4 709.4L250.8 710.0L251.3 710.6L251.7 711.2L252.1 711.8L252.4 712.5L252.8 713.3L253.0 714.0L253.3 714.8L253.5 715.6L253.7 716.5L253.8 717.3L253.9 718.2L254.0 719.0Z" fill="rgb(255,44,0)"/><path d="M253.4 719.9L253.4 720.8L253.3 721.7L253.2 722.6L253.1 723.5L252.9 724.4L252.7 725.3L252.5 726.1L252.2 726.9L251.9 727.7L251.6 728.4L251.2 729.1L250.8 729.8L250.4 730.4L250.0 731.0L249.5 731.5L249.0 732.0L248.5 732.5L248.0 732.8L247.5 733.2L246.9 733.4L246.4 733.6L245.8 733.8L245.2 733.9L244.7 733.9L244.1 733.9L243.5 733.8L242.9 733.6L242.4 733.4L241.8 733.2L241.3 732.8L240.8 732.5L240.3 732.0L239.8 731.5L239.3 731.0L238.9 730.4L238.5 729.8L238.1 729.1L237.7 728.4L237.4 727.7L237.1 726.9L236.8 726.1L236.6 725.3L236.4 724.4L236.2 723.5L236.1 722.6L236.0 721.7L235.9 720.8L235.9 719.9L235.9 719.1L236.0 718.3L236.1 717.5L236.2 716.7L236.4 716.0L236.6 715.2L236.8 714.5L237.1 713.8L237.4 713.1L237.7 712.4L238.1 711.8L238.5 711.2L238.9 710.7L239.3 710.2L239.8 709.7L240.3 709.3L240.8 708.9L241.3 708.6L241.8 708.3L242.4 708.1L242.9 707.9L243.5 707.8L244.1 707.7L244.7 707.6L245.2 707.7L245.8 707.8L246.4 707.9L246.9 708.1L247.5 708.3L248.0 708.6L248.5 708.9L249.0 709.3L249.5 709.7L250.0 710.2L250.4 710.7L250.8 711.2L251.2 711.8L251.6 712.4L251.9 713.1L252.2 713.8L252.5 714.5L252.7 715.2L252.9 716.0L253.1 716.7L253.2 717.5L253.3 718.3L253.4 719.1Z" fill="rgb(255,35,0)"/><path d="M252.8 719.9L252.8 720.8L252.7 721.6L252.6 722.5L252.5 723.3L252.4 724.1L252.2 724.9L252.0 725.7L251.7 726.4L251.4 727.1L251.1 727.8L250.8 728.5L250.4 729.1L250.0 729.7L249.6 730.2L249.2 730.7L248.7 731.2L248.2 731.6L247.7 731.9L247.2 732.2L246.7 732.5L246.2 732.7L245.7 732.8L245.1 732.9L244.6 732.9L244.1 732.9L243.5 732.8L243.0 732.7L242.5 732.5L242.0 732.2L241.5 731.9L241.0 731.6L240.5 731.2L240.1 730.7L239.6 730.2L239.2 729.7L238.8 729.1L238.5 728.5L238.1 727.8L237.8 727.1L237.5 726.4L237.3 725.7L237.0 724.9L236.9 724.1L236.7 723.3L236.6 722.5L236.5 721.6L236.4 720.8L236.4 719.9L236.4 719.2L236.5 718.4L236.6 717.7L236.7 717.0L236.9 716.3L237.0 715.6L237.3 714.9L237.5 714.3L237.8 713.6L238.1 713.0L238.5 712.5L238.8 711.9L239.2 711.4L239.6 711.0L240.1 710.5L240.5 710.1L241.0 709.8L241.5 709.5L242.0 709.2L242.5 709.0L243.0 708.8L243.5 708.7L244.1 708.6L244.6 708.6L245.1 708.6L245.7 708.7L246.2 708.8L246.7 709.0L247.2 709.2L247.7 709.5L248.2 709.8L248.7 710.1L249.2 710.5L249.6 711.0L250.0 711.4L250.4 711.9L250.8 712.5L251.1 713.0L251.4 713.6L251.7 714.3L252.0 714.9L252.2 715.6L252.4 716.3L252.5 717.0L252.6 717.7L252.7 718.4L252.8 719.2Z" fill="rgb(255,26,0)"/><path d="M252.2 720.0L252.2 720.7L252.1 721.5L252.1 722.3L251.9 723.1L251.8 723.8L251.6 724.5L251.4 725.3L251.2 726.0L250.9 726.6L250.6 727.3L250.3 727.9L250.0 728.4L249.6 729.0L249.2 729.5L248.8 729.9L248.4 730.3L247.9 730.7L247.5 731.0L247.0 731.3L246.5 731.5L246.1 731.7L245.6 731.8L245.1 731.9L244.6 732.0L244.1 731.9L243.6 731.8L243.1 731.7L242.6 731.5L242.1 731.3L241.7 731.0L241.2 730.7L240.8 730.3L240.3 729.9L239.9 729.5L239.5 729.0L239.2 728.4L238.8 727.9L238.5 727.3L238.2 726.6L238.0 726.0L237.7 725.3L237.5 724.5L237.4 723.8L237.2 723.1L237.1 722.3L237.0 721.5L237.0 720.7L236.9 720.0L237.0 719.3L237.0 718.6L237.1 717.9L237.2 717.3L237.4 716.6L237.5 716.0L237.7 715.4L238.0 714.8L238.2 714.2L238.5 713.6L238.8 713.1L239.2 712.6L239.5 712.1L239.9 711.7L240.3 711.3L240.8 711.0L241.2 710.6L241.7 710.4L242.1 710.1L242.6 709.9L243.1 709.8L243.6 709.7L244.1 709.6L244.6 709.6L245.1 709.6L245.6 709.7L246.1 709.8L246.5 709.9L247.0 710.1L247.5 710.4L247.9 710.6L248.4 711.0L248.8 711.3L249.2 711.7L249.6 712.1L250.0 712.6L250.3 713.1L250.6 713.6L250.9 714.2L251.2 714.8L251.4 715.4L251.6 716.0L251.8 716.6L251.9 717.3L252.1 717.9L252.1 718.6L252.2 719.3Z" fill="rgb(255,18,0)"/><path d="M251.6 720.0L251.6 720.7L251.5 721.4L251.5 722.1L251.4 722.8L251.2 723.5L251.1 724.2L250.9 724.8L250.7 725.5L250.4 726.1L250.1 726.7L249.8 727.2L249.5 727.8L249.2 728.2L248.8 728.7L248.5 729.1L248.1 729.5L247.7 729.8L247.2 730.1L246.8 730.4L246.4 730.6L245.9 730.8L245.5 730.9L245.0 731.0L244.5 731.0L244.1 731.0L243.6 730.9L243.2 730.8L242.7 730.6L242.3 730.4L241.8 730.1L241.4 729.8L241.0 729.5L240.6 729.1L240.2 728.7L239.9 728.2L239.5 727.8L239.2 727.2L238.9 726.7L238.7 726.1L238.4 725.5L238.2 724.8L238.0 724.2L237.8 723.5L237.7 722.8L237.6 722.1L237.5 721.4L237.5 720.7L237.5 720.0L237.5 719.4L237.5 718.7L237.6 718.1L237.7 717.5L237.8 716.9L238.0 716.4L238.2 715.8L238.4 715.3L238.7 714.7L238.9 714.2L239.2 713.8L239.5 713.3L239.9 712.9L240.2 712.5L240.6 712.1L241.0 711.8L241.4 711.5L241.8 711.3L242.3 711.0L242.7 710.9L243.2 710.7L243.6 710.6L244.1 710.6L244.5 710.5L245.0 710.6L245.5 710.6L245.9 710.7L246.4 710.9L246.8 711.0L247.2 711.3L247.7 711.5L248.1 711.8L248.5 712.1L248.8 712.5L249.2 712.9L249.5 713.3L249.8 713.8L250.1 714.2L250.4 714.7L250.7 715.3L250.9 715.8L251.1 716.4L251.2 716.9L251.4 717.5L251.5 718.1L251.5 718.7L251.6 719.4Z" fill="rgb(255,9,0)"/><path d="M251.0 720.0L251.0 720.7L250.9 721.3L250.9 722.0L250.8 722.6L250.7 723.2L250.5 723.8L250.3 724.4L250.1 725.0L249.9 725.6L249.7 726.1L249.4 726.6L249.1 727.1L248.8 727.5L248.5 727.9L248.1 728.3L247.8 728.7L247.4 729.0L247.0 729.2L246.6 729.5L246.2 729.7L245.8 729.8L245.3 729.9L244.9 730.0L244.5 730.0L244.1 730.0L243.7 729.9L243.2 729.8L242.8 729.7L242.4 729.5L242.0 729.2L241.6 729.0L241.2 728.7L240.9 728.3L240.5 727.9L240.2 727.5L239.9 727.1L239.6 726.6L239.3 726.1L239.1 725.6L238.9 725.0L238.7 724.4L238.5 723.8L238.3 723.2L238.2 722.6L238.1 722.0L238.1 721.3L238.0 720.7L238.0 720.0L238.0 719.4L238.1 718.9L238.1 718.3L238.2 717.8L238.3 717.3L238.5 716.7L238.7 716.2L238.9 715.8L239.1 715.3L239.3 714.8L239.6 714.4L239.9 714.0L240.2 713.6L240.5 713.3L240.9 712.9L241.2 712.6L241.6 712.4L242.0 712.1L242.4 712.0L242.8 711.8L243.2 711.7L243.7 711.6L244.1 711.5L244.5 711.5L244.9 711.5L245.3 711.6L245.8 711.7L246.2 711.8L246.6 712.0L247.0 712.1L247.4 712.4L247.8 712.6L248.1 712.9L248.5 713.3L248.8 713.6L249.1 714.0L249.4 714.4L249.7 714.8L249.9 715.3L250.1 715.8L250.3 716.2L250.5 716.7L250.7 717.3L250.8 717.8L250.9 718.3L250.9 718.9L251.0 719.4Z" fill="rgb(255,0,0)"/><path d="M250.3 720.0L250.3 720.6L250.3 721.2L250.2 721.7L250.1 722.3L250.0 722.9L249.9 723.4L249.7 723.9L249.5 724.4L249.3 724.9L249.1 725.4L248.9 725.9L248.6 726.3L248.3 726.7L248.0 727.0L247.7 727.4L247.4 727.7L247.1 728.0L246.7 728.2L246.4 728.4L246.0 728.6L245.6 728.7L245.3 728.8L244.9 728.9L244.5 728.9L244.1 728.9L243.7 728.8L243.4 728.7L243.0 728.6L242.6 728.4L242.3 728.2L241.9 728.0L241.6 727.7L241.3 727.4L241.0 727.0L240.7 726.7L240.4 726.3L240.1 725.9L239.9 725.4L239.7 724.9L239.5 724.4L239.3 723.9L239.1 723.4L239.0 722.9L238.9 722.3L238.8 721.7L238.7 721.2L238.7 720.6L238.7 720.0L238.7 719.5L238.7 719.0L238.8 718.5L238.9 718.0L239.0 717.6L239.1 717.1L239.3 716.7L239.5 716.2L239.7 715.8L239.9 715.4L240.1 715.0L240.4 714.7L240.7 714.3L241.0 714.0L241.3 713.7L241.6 713.5L241.9 713.2L242.3 713.0L242.6 712.8L243.0 712.7L243.4 712.6L243.7 712.5L244.1 712.5L244.5 712.4L244.9 712.5L245.3 712.5L245.6 712.6L246.0 712.7L246.4 712.8L246.7 713.0L247.1 713.2L247.4 713.5L247.7 713.7L248.0 714.0L248.3 714.3L248.6 714.7L248.9 715.0L249.1 715.4L249.3 715.8L249.5 716.2L249.7 716.7L249.9 717.1L250.0 717.6L250.1 718.0L250.2 718.5L250.3 719.0L250.3 719.5Z" fill="rgb(255,0,0)"/><path d="M249.6 720.0L249.6 720.5L249.6 721.0L249.5 721.5L249.5 722.0L249.4 722.5L249.2 723.0L249.1 723.4L248.9 723.9L248.8 724.3L248.6 724.7L248.4 725.1L248.1 725.5L247.9 725.8L247.6 726.1L247.3 726.4L247.1 726.7L246.8 727.0L246.5 727.2L246.1 727.3L245.8 727.5L245.5 727.6L245.2 727.7L244.8 727.7L244.5 727.8L244.2 727.7L243.8 727.7L243.5 727.6L243.2 727.5L242.9 727.3L242.5 727.2L242.2 727.0L241.9 726.7L241.7 726.4L241.4 726.1L241.1 725.8L240.9 725.5L240.6 725.1L240.4 724.7L240.2 724.3L240.1 723.9L239.9 723.4L239.8 723.0L239.6 722.5L239.5 722.0L239.5 721.5L239.4 721.0L239.4 720.5L239.4 720.0L239.4 719.6L239.4 719.1L239.5 718.7L239.5 718.3L239.6 717.9L239.8 717.5L239.9 717.1L240.1 716.7L240.2 716.3L240.4 716.0L240.6 715.6L240.9 715.3L241.1 715.0L241.4 714.7L241.7 714.5L241.9 714.3L242.2 714.1L242.5 713.9L242.9 713.7L243.2 713.6L243.5 713.5L243.8 713.4L244.2 713.4L244.5 713.4L244.8 713.4L245.2 713.4L245.5 713.5L245.8 713.6L246.1 713.7L246.5 713.9L246.8 714.1L247.1 714.3L247.3 714.5L247.6 714.7L247.9 715.0L248.1 715.3L248.4 715.6L248.6 716.0L248.8 716.3L248.9 716.7L249.1 717.1L249.2 717.5L249.4 717.9L249.5 718.3L249.5 718.7L249.6 719.1L249.6 719.6Z" fill="rgb(255,0,0)"/><path d="M248.9 720.0L248.9 720.4L248.9 720.9L248.9 721.3L248.8 721.7L248.7 722.1L248.6 722.5L248.5 722.9L248.3 723.3L248.2 723.7L248.0 724.0L247.8 724.4L247.6 724.7L247.4 725.0L247.2 725.3L247.0 725.5L246.7 725.7L246.5 725.9L246.2 726.1L245.9 726.3L245.6 726.4L245.4 726.5L245.1 726.6L244.8 726.6L244.5 726.6L244.2 726.6L243.9 726.6L243.6 726.5L243.4 726.4L243.1 726.3L242.8 726.1L242.5 725.9L242.3 725.7L242.0 725.5L241.8 725.3L241.6 725.0L241.4 724.7L241.2 724.4L241.0 724.0L240.8 723.7L240.7 723.3L240.5 722.9L240.4 722.5L240.3 722.1L240.2 721.7L240.1 721.3L240.1 720.9L240.1 720.4L240.1 720.0L240.1 719.6L240.1 719.3L240.1 718.9L240.2 718.5L240.3 718.2L240.4 717.8L240.5 717.5L240.7 717.2L240.8 716.8L241.0 716.5L241.2 716.2L241.4 716.0L241.6 715.7L241.8 715.5L242.0 715.3L242.3 715.1L242.5 714.9L242.8 714.7L243.1 714.6L243.4 714.5L243.6 714.4L243.9 714.4L244.2 714.3L244.5 714.3L244.8 714.3L245.1 714.4L245.4 714.4L245.6 714.5L245.9 714.6L246.2 714.7L246.5 714.9L246.7 715.1L247.0 715.3L247.2 715.5L247.4 715.7L247.6 716.0L247.8 716.2L248.0 716.5L248.2 716.8L248.3 717.2L248.5 717.5L248.6 717.8L248.7 718.2L248.8 718.5L248.9 718.9L248.9 719.3L248.9 719.6Z" fill="rgb(255,0,0)"/><path d="M248.2 720.0L248.2 720.4L248.2 720.7L248.2 721.1L248.1 721.4L248.1 721.8L248.0 722.1L247.9 722.4L247.7 722.8L247.6 723.1L247.5 723.3L247.3 723.6L247.2 723.9L247.0 724.1L246.8 724.4L246.6 724.6L246.4 724.8L246.2 724.9L245.9 725.1L245.7 725.2L245.5 725.3L245.2 725.4L245.0 725.5L244.7 725.5L244.5 725.5L244.3 725.5L244.0 725.5L243.8 725.4L243.5 725.3L243.3 725.2L243.1 725.1L242.8 724.9L242.6 724.8L242.4 724.6L242.2 724.4L242.0 724.1L241.8 723.9L241.7 723.6L241.5 723.3L241.4 723.1L241.3 722.8L241.1 722.4L241.0 722.1L240.9 721.8L240.9 721.4L240.8 721.1L240.8 720.7L240.8 720.4L240.8 720.0L240.8 719.7L240.8 719.4L240.8 719.1L240.9 718.8L240.9 718.5L241.0 718.2L241.1 717.9L241.3 717.6L241.4 717.4L241.5 717.1L241.7 716.9L241.8 716.6L242.0 716.4L242.2 716.2L242.4 716.1L242.6 715.9L242.8 715.7L243.1 715.6L243.3 715.5L243.5 715.4L243.8 715.3L244.0 715.3L244.3 715.3L244.5 715.2L244.7 715.3L245.0 715.3L245.2 715.3L245.5 715.4L245.7 715.5L245.9 715.6L246.2 715.7L246.4 715.9L246.6 716.1L246.8 716.2L247.0 716.4L247.2 716.6L247.3 716.9L247.5 717.1L247.6 717.4L247.7 717.6L247.9 717.9L248.0 718.2L248.1 718.5L248.1 718.8L248.2 719.1L248.2 719.4L248.2 719.7Z" fill="rgb(255,0,0)"/><path d="M247.6 720.0L247.6 720.3L247.5 720.6L247.5 720.9L247.5 721.1L247.4 721.4L247.3 721.7L247.2 721.9L247.2 722.2L247.0 722.4L246.9 722.7L246.8 722.9L246.7 723.1L246.5 723.3L246.4 723.5L246.2 723.6L246.0 723.8L245.9 723.9L245.7 724.0L245.5 724.1L245.3 724.2L245.1 724.3L244.9 724.3L244.7 724.4L244.5 724.4L244.3 724.4L244.1 724.3L243.9 724.3L243.7 724.2L243.5 724.1L243.3 724.0L243.1 723.9L243.0 723.8L242.8 723.6L242.6 723.5L242.5 723.3L242.3 723.1L242.2 722.9L242.1 722.7L242.0 722.4L241.8 722.2L241.8 721.9L241.7 721.7L241.6 721.4L241.5 721.1L241.5 720.9L241.5 720.6L241.4 720.3L241.4 720.0L241.4 719.8L241.5 719.5L241.5 719.3L241.5 719.0L241.6 718.8L241.7 718.5L241.8 718.3L241.8 718.1L242.0 717.9L242.1 717.7L242.2 717.5L242.3 717.3L242.5 717.1L242.6 717.0L242.8 716.8L243.0 716.7L243.1 716.6L243.3 716.5L243.5 716.4L243.7 716.3L243.9 716.3L244.1 716.2L244.3 716.2L244.5 716.2L244.7 716.2L244.9 716.2L245.1 716.3L245.3 716.3L245.5 716.4L245.7 716.5L245.9 716.6L246.0 716.7L246.2 716.8L246.4 717.0L246.5 717.1L246.7 717.3L246.8 717.5L246.9 717.7L247.0 717.9L247.2 718.1L247.2 718.3L247.3 718.5L247.4 718.8L247.5 719.0L247.5 719.3L247.5 719.5L247.6 719.8Z" fill="rgb(255,0,0)"/><path d="M246.9 720.0L246.9 720.2L246.9 720.4L246.8 720.6L246.8 720.8L246.7 721.0L246.7 721.2L246.6 721.4L246.6 721.6L246.5 721.8L246.4 722.0L246.3 722.1L246.2 722.3L246.1 722.4L245.9 722.6L245.8 722.7L245.7 722.8L245.6 722.9L245.4 723.0L245.3 723.1L245.1 723.1L245.0 723.2L244.8 723.2L244.7 723.2L244.5 723.2L244.3 723.2L244.2 723.2L244.0 723.2L243.9 723.1L243.7 723.1L243.6 723.0L243.4 722.9L243.3 722.8L243.2 722.7L243.1 722.6L242.9 722.4L242.8 722.3L242.7 722.1L242.6 722.0L242.5 721.8L242.4 721.6L242.4 721.4L242.3 721.2L242.3 721.0L242.2 720.8L242.2 720.6L242.1 720.4L242.1 720.2L242.1 720.0L242.1 719.8L242.1 719.6L242.2 719.4L242.2 719.3L242.3 719.1L242.3 718.9L242.4 718.7L242.4 718.6L242.5 718.4L242.6 718.2L242.7 718.1L242.8 718.0L242.9 717.8L243.1 717.7L243.2 717.6L243.3 717.5L243.4 717.4L243.6 717.3L243.7 717.3L243.9 717.2L244.0 717.2L244.2 717.1L244.3 717.1L244.5 717.1L244.7 717.1L244.8 717.1L245.0 717.2L245.1 717.2L245.3 717.3L245.4 717.3L245.6 717.4L245.7 717.5L245.8 717.6L245.9 717.7L246.1 717.8L246.2 718.0L246.3 718.1L246.4 718.2L246.5 718.4L246.6 718.6L246.6 718.7L246.7 718.9L246.7 719.1L246.8 719.3L246.8 719.4L246.9 719.6L246.9 719.8Z" fill="rgb(255,0,0)"/><path d="M246.2 720.0L246.2 720.1L246.2 720.3L246.2 720.4L246.1 720.5L246.1 720.7L246.1 720.8L246.0 720.9L246.0 721.1L245.9 721.2L245.8 721.3L245.8 721.4L245.7 721.5L245.6 721.6L245.5 721.7L245.4 721.8L245.3 721.8L245.2 721.9L245.1 722.0L245.0 722.0L244.9 722.1L244.8 722.1L244.7 722.1L244.6 722.1L244.5 722.1L244.4 722.1L244.3 722.1L244.2 722.1L244.1 722.1L244.0 722.0L243.9 722.0L243.8 721.9L243.7 721.8L243.6 721.8L243.5 721.7L243.4 721.6L243.3 721.5L243.2 721.4L243.2 721.3L243.1 721.2L243.0 721.1L243.0 720.9L242.9 720.8L242.9 720.7L242.9 720.5L242.8 720.4L242.8 720.3L242.8 720.1L242.8 720.0L242.8 719.9L242.8 719.7L242.8 719.6L242.9 719.5L242.9 719.4L242.9 719.3L243.0 719.1L243.0 719.0L243.1 718.9L243.2 718.8L243.2 718.7L243.3 718.6L243.4 718.5L243.5 718.5L243.6 718.4L243.7 718.3L243.8 718.3L243.9 718.2L244.0 718.2L244.1 718.1L244.2 718.1L244.3 718.1L244.4 718.1L244.5 718.1L244.6 718.1L244.7 718.1L244.8 718.1L244.9 718.1L245.0 718.2L245.1 718.2L245.2 718.3L245.3 718.3L245.4 718.4L245.5 718.5L245.6 718.5L245.7 718.6L245.8 718.7L245.8 718.8L245.9 718.9L246.0 719.0L246.0 719.1L246.1 719.3L246.1 719.4L246.1 719.5L246.2 719.6L246.2 719.7L246.2 719.9Z" fill="rgb(255,0,0)"/><path d="M245.5 720.0L245.5 720.1L245.5 720.1L245.5 720.2L245.5 720.3L245.4 720.3L245.4 720.4L245.4 720.4L245.4 720.5L245.3 720.6L245.3 720.6L245.3 720.7L245.2 720.7L245.2 720.8L245.1 720.8L245.1 720.8L245.0 720.9L244.9 720.9L244.9 720.9L244.8 720.9L244.8 721.0L244.7 721.0L244.6 721.0L244.6 721.0L244.5 721.0L244.4 721.0L244.4 721.0L244.3 721.0L244.2 721.0L244.2 720.9L244.1 720.9L244.1 720.9L244.0 720.9L243.9 720.8L243.9 720.8L243.8 720.8L243.8 720.7L243.7 720.7L243.7 720.6L243.7 720.6L243.6 720.5L243.6 720.4L243.6 720.4L243.6 720.3L243.5 720.3L243.5 720.2L243.5 720.1L243.5 720.1L243.5 720.0L243.5 719.9L243.5 719.9L243.5 719.8L243.5 719.7L243.6 719.7L243.6 719.6L243.6 719.6L243.6 719.5L243.7 719.4L243.7 719.4L243.7 719.3L243.8 719.3L243.8 719.2L243.9 719.2L243.9 719.2L244.0 719.1L244.1 719.1L244.1 719.1L244.2 719.1L244.2 719.0L244.3 719.0L244.4 719.0L244.4 719.0L244.5 719.0L244.6 719.0L244.6 719.0L244.7 719.0L244.8 719.0L244.8 719.1L244.9 719.1L244.9 719.1L245.0 719.1L245.1 719.2L245.1 719.2L245.2 719.2L245.2 719.3L245.3 719.3L245.3 719.4L245.3 719.4L245.4 719.5L245.4 719.6L245.4 719.6L245.4 719.7L245.5 719.7L245.5 719.8L245.5 719.9L245.5 719.9Z" fill="rgb(255,0,0)"/></g></g><path fill="rgb(0,28,242)" d="M229.50 379.25h17.50v3.50h-17.50ZM222.50 382.75h31.50v3.50h-31.50ZM222.50 386.25h31.50v3.50h-31.50ZM219.00 389.75h38.50v3.50h-38.50ZM219.00 393.25h42.00v3.50h-42.00ZM219.00 396.75h42.00v3.50h-42.00ZM219.00 400.25h45.50v3.50h-45.50ZM219.00 403.75h45.50v3.50h-45.50ZM219.00 407.25h45.50v3.50h-45.50ZM222.50 410.75h42.00v3.50h-42.00ZM222.50 414.25h42.00v3.50h-42.00ZM226.00 417.75h38.50v3.50h-38.50ZM226.00 421.25h35.00v3.50h-35.00ZM229.50 424.75h31.50v3.50h-31.50ZM233.00 428.25h28.00v3.50h-28.00ZM233.00 431.75h24.50v3.50h-24.50ZM243.50 435.25h3.50v3.50h-3.50Z"/><path fill="rgb(0,28,242)" d="M674.00 190.25h17.50v3.50h-17.50ZM670.50 193.75h28.00v3.50h-28.00ZM670.50 197.25h28.00v3.50h-28.00ZM670.50 200.75h31.50v3.50h-31.50ZM670.50 204.25h31.50v3.50h-31.50ZM674.00 207.75h28.00v3.50h-28.00ZM674.00 211.25h31.50v3.50h-31.50ZM677.50 214.75h28.00v3.50h-28.00ZM681.00 218.25h24.50v3.50h-24.50ZM684.50 221.75h17.50v3.50h-17.50Z"/>
<g fill="#000"><rect x="180.1" y="148.1" width="2.7" height="2.7" rx="1.0" fill="#333"/><rect x="229.3" y="151.0" width="2.8" height="3.8" rx="1.0" fill="#111"/><rect x="267.4" y="176.0" width="3.8" height="2.8" rx="1.0" fill="#111"/><rect x="203.7" y="192.7" width="4.5" height="4.5" rx="1.5" fill="#000"/><rect x="243.2" y="197.0" width="2.7" height="2.7" rx="1.0" fill="#333"/><rect x="313.2" y="197.0" width="2.7" height="2.7" rx="1.0" fill="#333"/><rect x="222.3" y="217.9" width="2.7" height="2.7" rx="1.0" fill="#333"/><rect x="222.3" y="232.1" width="2.7" height="2.7" rx="1.0" fill="#333"/><rect x="238.9" y="241.7" width="4.5" height="4.5" rx="1.5" fill="#000"/><rect x="305.9" y="235.0" width="2.8" height="3.8" rx="1.0" fill="#111"/><rect x="315.7" y="241.7" width="4.5" height="4.5" rx="1.5" fill="#000"/><rect x="253.1" y="266.9" width="3.8" height="2.8" rx="1.0" fill="#111"/><rect x="273.9" y="269.5" width="4.5" height="4.5" rx="1.5" fill="#000"/><rect x="334.5" y="266.9" width="2.7" height="2.7" rx="1.0" fill="#333"/><rect x="250.2" y="274.2" width="2.7" height="2.7" rx="1.0" fill="#333"/><rect x="243.0" y="281.2" width="2.7" height="2.7" rx="1.0" fill="#333"/><rect x="274.2" y="281.1" width="3.8" height="2.8" rx="1.0" fill="#111"/><rect x="257.2" y="283.9" width="2.8" height="3.8" rx="1.0" fill="#111"/><rect x="208.2" y="287.9" width="2.7" height="2.7" rx="1.0" fill="#333"/><rect x="285.0" y="287.9" width="2.7" height="2.7" rx="1.0" fill="#333"/><rect x="292.3" y="287.9" width="2.7" height="2.7" rx="1.0" fill="#333"/><rect x="313.1" y="283.9" width="2.8" height="3.8" rx="1.0" fill="#111"/><rect x="264.1" y="291.1" width="2.8" height="3.8" rx="1.0" fill="#111"/><rect x="232.0" y="295.0" width="3.8" height="2.8" rx="1.0" fill="#111"/><rect x="236.2" y="308.8" width="2.7" height="2.7" rx="1.0" fill="#333"/><rect x="271.3" y="308.8" width="2.7" height="2.7" rx="1.0" fill="#333"/><rect x="278.4" y="308.8" width="2.7" height="2.7" rx="1.0" fill="#333"/><rect x="254.4" y="315.9" width="3.8" height="2.8" rx="1.0" fill="#111"/><rect x="217.6" y="318.8" width="4.5" height="4.5" rx="1.5" fill="#000"/><rect x="231.7" y="318.8" width="4.5" height="4.5" rx="1.5" fill="#000"/><rect x="254.4" y="316.2" width="3.8" height="2.8" rx="1.0" fill="#111"/><rect x="280.7" y="318.8" width="4.5" height="4.5" rx="1.5" fill="#000"/><rect x="183.0" y="329.9" width="3.8" height="2.8" rx="1.0" fill="#111"/><rect x="197.0" y="329.9" width="3.8" height="2.8" rx="1.0" fill="#111"/><rect x="215.1" y="329.9" width="2.7" height="2.7" rx="1.0" fill="#333"/><rect x="187.3" y="337.2" width="2.7" height="2.7" rx="1.0" fill="#333"/><rect x="244.2" y="333.4" width="4.5" height="4.5" rx="1.5" fill="#000"/><rect x="249.9" y="329.9" width="2.7" height="2.7" rx="1.0" fill="#333"/><rect x="271.1" y="332.8" width="2.8" height="3.8" rx="1.0" fill="#111"/><rect x="292.3" y="337.2" width="2.7" height="2.7" rx="1.0" fill="#333"/><rect x="302.0" y="344.0" width="3.8" height="2.8" rx="1.0" fill="#111"/><rect x="215.0" y="348.0" width="2.8" height="3.8" rx="1.0" fill="#111"/><rect x="245.7" y="346.7" width="4.5" height="4.5" rx="1.5" fill="#000"/><rect x="257.3" y="344.0" width="2.7" height="2.7" rx="1.0" fill="#333"/><rect x="183.0" y="358.0" width="3.8" height="2.8" rx="1.0" fill="#111"/><rect x="215.1" y="358.1" width="2.7" height="2.7" rx="1.0" fill="#333"/><rect x="231.7" y="360.6" width="4.5" height="4.5" rx="1.5" fill="#000"/><rect x="243.2" y="361.0" width="2.8" height="3.8" rx="1.0" fill="#111"/><rect x="155.2" y="365.1" width="3.8" height="2.8" rx="1.0" fill="#111"/><rect x="172.8" y="368.0" width="2.8" height="3.8" rx="1.0" fill="#111"/><rect x="183.0" y="365.1" width="3.8" height="2.8" rx="1.0" fill="#111"/><rect x="203.9" y="365.1" width="3.8" height="2.8" rx="1.0" fill="#111"/><rect x="231.7" y="367.6" width="4.5" height="4.5" rx="1.5" fill="#000"/><rect x="280.7" y="367.6" width="4.5" height="4.5" rx="1.5" fill="#000"/><rect x="288.3" y="365.1" width="3.8" height="2.8" rx="1.0" fill="#111"/><rect x="295.1" y="372.1" width="3.8" height="2.8" rx="1.0" fill="#111"/><rect x="211.5" y="372.1" width="3.8" height="2.8" rx="1.0" fill="#111"/><rect x="201.3" y="375.0" width="2.8" height="3.8" rx="1.0" fill="#111"/><rect x="217.6" y="374.7" width="4.5" height="4.5" rx="1.5" fill="#000"/><rect x="245.7" y="374.7" width="4.5" height="4.5" rx="1.5" fill="#000"/><rect x="257.3" y="372.1" width="2.7" height="2.7" rx="1.0" fill="#333"/><rect x="187.3" y="379.0" width="2.7" height="2.7" rx="1.0" fill="#333"/><rect x="145.3" y="388.9" width="2.8" height="3.8" rx="1.0" fill="#111"/><rect x="215.1" y="389.4" width="2.7" height="2.7" rx="1.0" fill="#333"/><rect x="274.2" y="386.0" width="3.8" height="2.8" rx="1.0" fill="#111"/><rect x="189.8" y="393.2" width="3.8" height="2.8" rx="1.0" fill="#111"/><rect x="191.3" y="400.0" width="3.8" height="2.8" rx="1.0" fill="#111"/><rect x="202.8" y="402.2" width="4.5" height="4.5" rx="1.5" fill="#000"/><rect x="281.9" y="401.3" width="4.5" height="4.5" rx="1.5" fill="#000"/><rect x="320.3" y="402.6" width="2.8" height="3.8" rx="1.0" fill="#111"/><rect x="334.5" y="407.1" width="2.7" height="2.7" rx="1.0" fill="#333"/><rect x="203.5" y="409.8" width="4.5" height="4.5" rx="1.5" fill="#000"/><rect x="211.5" y="414.1" width="3.8" height="2.8" rx="1.0" fill="#111"/><rect x="217.6" y="416.7" width="4.5" height="4.5" rx="1.5" fill="#000"/><rect x="267.4" y="414.1" width="3.8" height="2.8" rx="1.0" fill="#111"/><rect x="180.1" y="421.2" width="2.7" height="2.7" rx="1.0" fill="#333"/><rect x="203.9" y="421.1" width="3.8" height="2.8" rx="1.0" fill="#111"/><rect x="225.6" y="427.8" width="3.8" height="2.8" rx="1.0" fill="#111"/><rect x="259.8" y="423.7" width="4.5" height="4.5" rx="1.5" fill="#000"/><rect x="275.0" y="431.8" width="3.8" height="2.8" rx="1.0" fill="#111"/><rect x="334.4" y="424.1" width="2.8" height="3.8" rx="1.0" fill="#111"/><rect x="215.0" y="438.1" width="2.8" height="3.8" rx="1.0" fill="#111"/><rect x="292.2" y="438.1" width="2.8" height="3.8" rx="1.0" fill="#111"/><rect x="309.2" y="434.8" width="3.8" height="2.8" rx="1.0" fill="#111"/><rect x="217.6" y="444.6" width="4.5" height="4.5" rx="1.5" fill="#000"/><rect x="236.1" y="445.0" width="2.8" height="3.8" rx="1.0" fill="#111"/><rect x="245.7" y="444.6" width="4.5" height="4.5" rx="1.5" fill="#000"/><rect x="252.8" y="444.6" width="4.5" height="4.5" rx="1.5" fill="#000"/><rect x="313.1" y="445.0" width="2.8" height="3.8" rx="1.0" fill="#111"/><rect x="257.2" y="452.2" width="2.8" height="3.8" rx="1.0" fill="#111"/><rect x="285.0" y="449.3" width="2.7" height="2.7" rx="1.0" fill="#333"/><rect x="189.5" y="451.9" width="4.5" height="4.5" rx="1.5" fill="#000"/><rect x="208.2" y="456.0" width="2.7" height="2.7" rx="1.0" fill="#333"/><rect x="250.0" y="459.2" width="2.8" height="3.8" rx="1.0" fill="#111"/><rect x="224.8" y="463.0" width="3.8" height="2.8" rx="1.0" fill="#111"/><rect x="239.7" y="465.5" width="4.5" height="4.5" rx="1.5" fill="#000"/><rect x="252.8" y="465.5" width="4.5" height="4.5" rx="1.5" fill="#000"/><rect x="285.0" y="465.9" width="2.8" height="3.8" rx="1.0" fill="#111"/><rect x="203.9" y="470.2" width="3.8" height="2.8" rx="1.0" fill="#111"/><rect x="259.8" y="472.8" width="4.5" height="4.5" rx="1.5" fill="#000"/><rect x="243.2" y="473.1" width="2.8" height="3.8" rx="1.0" fill="#111"/><rect x="292.3" y="470.2" width="2.7" height="2.7" rx="1.0" fill="#333"/><rect x="301.6" y="472.8" width="4.5" height="4.5" rx="1.5" fill="#000"/><rect x="267.4" y="477.0" width="3.8" height="2.8" rx="1.0" fill="#111"/><rect x="250.1" y="477.1" width="2.7" height="2.7" rx="1.0" fill="#333"/><rect x="236.1" y="480.2" width="2.8" height="3.8" rx="1.0" fill="#111"/><rect x="243.2" y="487.2" width="2.8" height="3.8" rx="1.0" fill="#111"/><rect x="257.3" y="491.2" width="2.7" height="2.7" rx="1.0" fill="#333"/><rect x="281.1" y="491.1" width="3.8" height="2.8" rx="1.0" fill="#111"/><rect x="305.9" y="487.2" width="2.8" height="3.8" rx="1.0" fill="#111"/><rect x="222.3" y="494.0" width="2.8" height="3.8" rx="1.0" fill="#111"/><rect x="271.3" y="494.0" width="2.8" height="3.8" rx="1.0" fill="#111"/><rect x="208.2" y="498.2" width="2.7" height="2.7" rx="1.0" fill="#333"/><rect x="229.1" y="498.2" width="2.7" height="2.7" rx="1.0" fill="#333"/><rect x="299.5" y="498.2" width="2.7" height="2.7" rx="1.0" fill="#333"/><rect x="239.7" y="500.7" width="4.5" height="4.5" rx="1.5" fill="#000"/><rect x="246.1" y="501.6" width="3.8" height="2.8" rx="1.0" fill="#111"/><rect x="267.0" y="501.7" width="4.5" height="4.5" rx="1.5" fill="#000"/><rect x="166.2" y="505.3" width="2.7" height="2.7" rx="1.0" fill="#333"/><rect x="240.4" y="501.2" width="4.5" height="4.5" rx="1.5" fill="#000"/><rect x="267.9" y="503.8" width="2.8" height="3.8" rx="1.0" fill="#111"/><rect x="267.9" y="506.7" width="2.8" height="3.8" rx="1.0" fill="#111"/><rect x="223.3" y="507.3" width="4.5" height="4.5" rx="1.5" fill="#000"/><rect x="253.1" y="511.9" width="3.8" height="2.8" rx="1.0" fill="#111"/><rect x="245.7" y="514.9" width="4.5" height="4.5" rx="1.5" fill="#000"/><rect x="264.1" y="515.2" width="2.8" height="3.8" rx="1.0" fill="#111"/><rect x="145.3" y="522.2" width="2.8" height="3.8" rx="1.0" fill="#111"/><rect x="215.0" y="522.2" width="2.8" height="3.8" rx="1.0" fill="#111"/><rect x="225.3" y="522.2" width="12" height="3.8" rx="1.3" fill="#000"/><rect x="197.0" y="526.2" width="3.8" height="2.8" rx="1.0" fill="#111"/><rect x="243.2" y="526.2" width="2.7" height="2.7" rx="1.0" fill="#333"/><rect x="225.2" y="528.7" width="4.5" height="4.5" rx="1.5" fill="#000"/><rect x="210.9" y="534.8" width="4.5" height="4.5" rx="1.5" fill="#000"/><rect x="236.0" y="533.3" width="2.7" height="2.7" rx="1.0" fill="#333"/><rect x="246.1" y="533.2" width="3.8" height="2.8" rx="1.0" fill="#111"/><rect x="252.8" y="535.8" width="4.5" height="4.5" rx="1.5" fill="#000"/><rect x="264.1" y="533.3" width="2.7" height="2.7" rx="1.0" fill="#333"/><rect x="281.1" y="533.2" width="3.8" height="2.8" rx="1.0" fill="#111"/><rect x="281.1" y="540.0" width="3.8" height="2.8" rx="1.0" fill="#111"/><rect x="222.3" y="540.1" width="2.7" height="2.7" rx="1.0" fill="#333"/><rect x="238.5" y="542.6" width="4.5" height="4.5" rx="1.5" fill="#000"/><rect x="308.9" y="542.6" width="4.5" height="4.5" rx="1.5" fill="#000"/><rect x="253.1" y="547.1" width="3.8" height="2.8" rx="1.0" fill="#111"/><rect x="222.3" y="548.5" width="2.8" height="3.8" rx="1.0" fill="#111"/><rect x="231.7" y="549.7" width="4.5" height="4.5" rx="1.5" fill="#000"/><rect x="243.2" y="554.2" width="2.7" height="2.7" rx="1.0" fill="#333"/><rect x="273.9" y="554.8" width="4.5" height="4.5" rx="1.5" fill="#000"/><rect x="145.3" y="554.2" width="2.7" height="2.7" rx="1.0" fill="#333"/><rect x="196.7" y="556.7" width="4.5" height="4.5" rx="1.5" fill="#000"/><rect x="238.5" y="563.7" width="4.5" height="4.5" rx="1.5" fill="#000"/><rect x="299.4" y="564.1" width="2.8" height="3.8" rx="1.0" fill="#111"/><rect x="244.2" y="568.0" width="2.7" height="2.7" rx="1.0" fill="#333"/><rect x="210.9" y="578.5" width="4.5" height="4.5" rx="1.5" fill="#000"/><rect x="155.2" y="581.9" width="3.8" height="2.8" rx="1.0" fill="#111"/><rect x="187.3" y="581.9" width="2.7" height="2.7" rx="1.0" fill="#333"/><rect x="194.1" y="585.2" width="2.8" height="3.8" rx="1.0" fill="#111"/><rect x="264.1" y="577.9" width="2.8" height="3.8" rx="1.0" fill="#111"/><rect x="260.3" y="581.9" width="2.7" height="2.7" rx="1.0" fill="#333"/><rect x="278.4" y="575.1" width="2.7" height="2.7" rx="1.0" fill="#333"/><rect x="284.5" y="592.1" width="3.8" height="2.8" rx="1.0" fill="#111"/><rect x="288.3" y="595.9" width="3.8" height="2.8" rx="1.0" fill="#111"/><rect x="273.9" y="598.5" width="4.5" height="4.5" rx="1.5" fill="#000"/><rect x="176.1" y="595.9" width="3.8" height="2.8" rx="1.0" fill="#111"/><rect x="285.0" y="606.5" width="2.8" height="3.8" rx="1.0" fill="#111"/><rect x="306.0" y="609.9" width="2.7" height="2.7" rx="1.0" fill="#333"/><rect x="309.2" y="617.4" width="3.8" height="2.8" rx="1.0" fill="#111"/><rect x="313.0" y="620.3" width="3.8" height="2.8" rx="1.0" fill="#111"/><rect x="201.4" y="617.5" width="2.7" height="2.7" rx="1.0" fill="#333"/><rect x="316.5" y="633.7" width="4.5" height="4.5" rx="1.5" fill="#000"/><rect x="180.1" y="638.4" width="2.7" height="2.7" rx="1.0" fill="#333"/><rect x="355.3" y="169.0" width="2.7" height="2.7" rx="1.0" fill="#333"/><rect x="467.4" y="186.2" width="2.8" height="3.8" rx="1.0" fill="#111"/><rect x="504.9" y="185.8" width="4.5" height="4.5" rx="1.5" fill="#000"/><rect x="502.0" y="190.1" width="2.7" height="2.7" rx="1.0" fill="#333"/><rect x="509.2" y="193.2" width="2.8" height="3.8" rx="1.0" fill="#111"/><rect x="484.0" y="196.9" width="3.8" height="2.8" rx="1.0" fill="#111"/><rect x="505.3" y="217.8" width="3.8" height="2.8" rx="1.0" fill="#111"/><rect x="474.2" y="242.1" width="2.8" height="3.8" rx="1.0" fill="#111"/><rect x="365.0" y="248.5" width="4.5" height="4.5" rx="1.5" fill="#000"/><rect x="404.3" y="260.1" width="2.7" height="2.7" rx="1.0" fill="#333"/><rect x="372.2" y="266.9" width="3.8" height="2.8" rx="1.0" fill="#111"/><rect x="467.4" y="263.0" width="2.8" height="3.8" rx="1.0" fill="#111"/><rect x="509.3" y="287.9" width="2.7" height="2.7" rx="1.0" fill="#333"/><rect x="350.9" y="290.8" width="4.5" height="4.5" rx="1.5" fill="#000"/><rect x="397.1" y="309.1" width="2.7" height="2.7" rx="1.0" fill="#333"/><rect x="355.2" y="312.0" width="2.8" height="3.8" rx="1.0" fill="#111"/><rect x="411.3" y="326.2" width="2.8" height="3.8" rx="1.0" fill="#111"/><rect x="397.0" y="340.0" width="2.8" height="3.8" rx="1.0" fill="#111"/><rect x="357.8" y="374.7" width="4.5" height="4.5" rx="1.5" fill="#000"/><rect x="348.2" y="400.1" width="2.7" height="2.7" rx="1.0" fill="#333"/><rect x="390.0" y="410.2" width="2.8" height="3.8" rx="1.0" fill="#111"/><rect x="474.3" y="400.1" width="2.7" height="2.7" rx="1.0" fill="#333"/><rect x="509.2" y="403.2" width="2.8" height="3.8" rx="1.0" fill="#111"/><rect x="362.1" y="508.0" width="2.8" height="3.8" rx="1.0" fill="#111"/><rect x="418.0" y="645.0" width="2.7" height="2.7" rx="1.0" fill="#333"/><rect x="341.1" y="662.0" width="2.8" height="3.8" rx="1.0" fill="#111"/><rect x="344.1" y="668.9" width="4.5" height="4.5" rx="1.5" fill="#000"/><rect x="344.1" y="675.9" width="4.5" height="4.5" rx="1.5" fill="#000"/><rect x="362.1" y="690.1" width="2.8" height="3.8" rx="1.0" fill="#111"/><rect x="372.2" y="694.0" width="3.8" height="2.8" rx="1.0" fill="#111"/><rect x="379.1" y="694.0" width="3.8" height="2.8" rx="1.0" fill="#111"/><rect x="348.2" y="701.4" width="2.7" height="2.7" rx="1.0" fill="#333"/><rect x="390.0" y="704.3" width="2.8" height="3.8" rx="1.0" fill="#111"/><rect x="357.8" y="710.9" width="4.5" height="4.5" rx="1.5" fill="#000"/><rect x="386.1" y="715.2" width="3.8" height="2.8" rx="1.0" fill="#111"/><rect x="344.4" y="722.3" width="3.8" height="2.8" rx="1.0" fill="#111"/><rect x="348.2" y="732.2" width="2.8" height="3.8" rx="1.0" fill="#111"/><rect x="336.9" y="738.7" width="4.5" height="4.5" rx="1.5" fill="#000"/><rect x="341.1" y="746.1" width="2.8" height="3.8" rx="1.0" fill="#111"/><rect x="390.0" y="746.1" width="2.8" height="3.8" rx="1.0" fill="#111"/><rect x="337.2" y="771.3" width="3.8" height="2.8" rx="1.0" fill="#111"/><rect x="453.4" y="715.3" width="2.7" height="2.7" rx="1.0" fill="#333"/><rect x="467.4" y="722.3" width="2.7" height="2.7" rx="1.0" fill="#333"/><rect x="446.5" y="729.1" width="2.7" height="2.7" rx="1.0" fill="#333"/><rect x="504.9" y="717.8" width="4.5" height="4.5" rx="1.5" fill="#000"/><rect x="497.9" y="773.7" width="4.5" height="4.5" rx="1.5" fill="#000"/><rect x="448.9" y="808.9" width="4.5" height="4.5" rx="1.5" fill="#000"/><rect x="616.6" y="136.6" width="4.5" height="4.5" rx="1.5" fill="#000"/><rect x="645.1" y="133.7" width="3.8" height="2.8" rx="1.0" fill="#111"/><rect x="644.7" y="143.9" width="4.5" height="4.5" rx="1.5" fill="#000"/><rect x="652.1" y="140.9" width="3.8" height="2.8" rx="1.0" fill="#111"/><rect x="656.1" y="151.1" width="2.8" height="3.8" rx="1.0" fill="#111"/><rect x="645.1" y="155.0" width="3.8" height="2.8" rx="1.0" fill="#111"/><rect x="687.3" y="155.0" width="3.8" height="2.8" rx="1.0" fill="#111"/><rect x="705.3" y="148.2" width="2.7" height="2.7" rx="1.0" fill="#333"/><rect x="581.4" y="164.4" width="4.5" height="4.5" rx="1.5" fill="#000"/><rect x="586.1" y="162.3" width="2.7" height="2.7" rx="1.0" fill="#333"/><rect x="589.2" y="169.1" width="3.8" height="2.8" rx="1.0" fill="#111"/><rect x="597.6" y="164.4" width="4.5" height="4.5" rx="1.5" fill="#000"/><rect x="616.6" y="161.9" width="4.5" height="4.5" rx="1.5" fill="#000"/><rect x="616.6" y="164.8" width="4.5" height="4.5" rx="1.5" fill="#000"/><rect x="628.9" y="162.3" width="2.7" height="2.7" rx="1.0" fill="#333"/><rect x="630.9" y="164.4" width="4.5" height="4.5" rx="1.5" fill="#000"/><rect x="624.0" y="169.1" width="3.8" height="2.8" rx="1.0" fill="#111"/><rect x="645.1" y="169.1" width="3.8" height="2.8" rx="1.0" fill="#111"/><rect x="659.2" y="169.1" width="3.8" height="2.8" rx="1.0" fill="#111"/><rect x="707.9" y="169.0" width="4.5" height="4.5" rx="1.5" fill="#000"/><rect x="707.9" y="172.0" width="4.5" height="4.5" rx="1.5" fill="#000"/><rect x="572.3" y="176.1" width="2.7" height="2.7" rx="1.0" fill="#333"/><rect x="616.6" y="178.9" width="4.5" height="4.5" rx="1.5" fill="#000"/><rect x="621.3" y="176.1" width="2.7" height="2.7" rx="1.0" fill="#333"/><rect x="630.9" y="178.9" width="4.5" height="4.5" rx="1.5" fill="#000"/><rect x="644.7" y="178.9" width="4.5" height="4.5" rx="1.5" fill="#000"/><rect x="656.1" y="179.2" width="2.8" height="3.8" rx="1.0" fill="#111"/><rect x="687.3" y="176.1" width="3.8" height="2.8" rx="1.0" fill="#111"/><rect x="687.3" y="182.7" width="3.8" height="2.8" rx="1.0" fill="#111"/><rect x="692.7" y="185.7" width="4.5" height="4.5" rx="1.5" fill="#000"/><rect x="677.4" y="186.6" width="2.7" height="2.7" rx="1.0" fill="#333"/><rect x="539.8" y="185.7" width="4.5" height="4.5" rx="1.5" fill="#000"/><rect x="579.1" y="192.9" width="2.8" height="3.8" rx="1.0" fill="#111"/><rect x="638.3" y="190.0" width="3.8" height="2.8" rx="1.0" fill="#111"/><rect x="602.9" y="197.0" width="3.8" height="2.8" rx="1.0" fill="#111"/><rect x="610.5" y="197.0" width="3.8" height="2.8" rx="1.0" fill="#111"/><rect x="652.1" y="197.0" width="3.8" height="2.8" rx="1.0" fill="#111"/><rect x="656.1" y="193.4" width="2.7" height="2.7" rx="1.0" fill="#333"/><rect x="659.7" y="197.0" width="3.8" height="2.8" rx="1.0" fill="#111"/><rect x="663.1" y="190.0" width="2.7" height="2.7" rx="1.0" fill="#333"/><rect x="707.9" y="192.5" width="4.5" height="4.5" rx="1.5" fill="#000"/><rect x="665.7" y="199.6" width="4.5" height="4.5" rx="1.5" fill="#000"/><rect x="593.2" y="204.1" width="2.7" height="2.7" rx="1.0" fill="#333"/><rect x="616.6" y="206.6" width="4.5" height="4.5" rx="1.5" fill="#000"/><rect x="658.8" y="206.6" width="4.5" height="4.5" rx="1.5" fill="#000"/><rect x="665.7" y="206.6" width="4.5" height="4.5" rx="1.5" fill="#000"/><rect x="642.2" y="211.3" width="2.7" height="2.7" rx="1.0" fill="#333"/><rect x="704.9" y="199.9" width="2.8" height="3.8" rx="1.0" fill="#111"/><rect x="704.9" y="207.0" width="2.8" height="3.8" rx="1.0" fill="#111"/><rect x="712.2" y="211.3" width="2.7" height="2.7" rx="1.0" fill="#333"/><rect x="567.9" y="217.9" width="3.8" height="2.8" rx="1.0" fill="#111"/><rect x="628.1" y="221.2" width="2.8" height="3.8" rx="1.0" fill="#111"/><rect x="658.8" y="220.9" width="4.5" height="4.5" rx="1.5" fill="#000"/><rect x="652.1" y="224.9" width="3.8" height="2.8" rx="1.0" fill="#111"/><rect x="666.0" y="224.9" width="3.8" height="2.8" rx="1.0" fill="#111"/><rect x="666.0" y="217.9" width="3.8" height="2.8" rx="1.0" fill="#111"/><rect x="707.9" y="220.9" width="4.5" height="4.5" rx="1.5" fill="#000"/><rect x="673.0" y="232.2" width="3.8" height="2.8" rx="1.0" fill="#111"/><rect x="680.6" y="232.2" width="3.8" height="2.8" rx="1.0" fill="#111"/><rect x="680.6" y="224.9" width="3.8" height="2.8" rx="1.0" fill="#111"/><rect x="700.6" y="225.6" width="4.5" height="4.5" rx="1.5" fill="#000"/><rect x="700.6" y="228.5" width="4.5" height="4.5" rx="1.5" fill="#000"/><rect x="712.2" y="232.2" width="2.7" height="2.7" rx="1.0" fill="#333"/><rect x="596.0" y="239.0" width="3.8" height="2.8" rx="1.0" fill="#111"/><rect x="607.2" y="242.1" width="2.8" height="3.8" rx="1.0" fill="#111"/><rect x="644.7" y="248.8" width="4.5" height="4.5" rx="1.5" fill="#000"/><rect x="665.7" y="248.8" width="4.5" height="4.5" rx="1.5" fill="#000"/><rect x="663.1" y="246.5" width="2.7" height="2.7" rx="1.0" fill="#333"/><rect x="677.3" y="249.2" width="2.8" height="3.8" rx="1.0" fill="#111"/><rect x="684.4" y="249.2" width="2.8" height="3.8" rx="1.0" fill="#111"/><rect x="684.4" y="242.1" width="2.8" height="3.8" rx="1.0" fill="#111"/><rect x="698.3" y="253.1" width="2.7" height="2.7" rx="1.0" fill="#333"/><rect x="707.9" y="248.8" width="4.5" height="4.5" rx="1.5" fill="#000"/><rect x="715.1" y="248.8" width="4.5" height="4.5" rx="1.5" fill="#000"/><rect x="663.1" y="256.0" width="2.8" height="3.8" rx="1.0" fill="#111"/><rect x="687.3" y="259.9" width="3.8" height="2.8" rx="1.0" fill="#111"/><rect x="698.3" y="262.9" width="2.8" height="3.8" rx="1.0" fill="#111"/><rect x="679.3" y="269.3" width="4.5" height="4.5" rx="1.5" fill="#000"/><rect x="677.4" y="266.8" width="2.7" height="2.7" rx="1.0" fill="#333"/><rect x="694.1" y="269.4" width="6.2" height="4.4" rx="1.5" fill="#000"/><rect x="574.8" y="269.7" width="4.5" height="4.5" rx="1.5" fill="#000"/><rect x="572.3" y="287.7" width="2.7" height="2.7" rx="1.0" fill="#333"/><rect x="656.1" y="284.0" width="2.8" height="3.8" rx="1.0" fill="#111"/><rect x="694.0" y="283.6" width="4.5" height="4.5" rx="1.5" fill="#000"/><rect x="575.1" y="307.8" width="3.8" height="2.8" rx="1.0" fill="#111"/><rect x="813.4" y="140.9" width="3.8" height="2.8" rx="1.0" fill="#111"/><rect x="722.4" y="182.7" width="3.8" height="2.8" rx="1.0" fill="#111"/><rect x="740.4" y="197.1" width="2.7" height="2.7" rx="1.0" fill="#333"/><rect x="719.4" y="199.9" width="2.8" height="3.8" rx="1.0" fill="#111"/><rect x="729.0" y="206.6" width="4.5" height="4.5" rx="1.5" fill="#000"/><rect x="726.1" y="211.3" width="2.7" height="2.7" rx="1.0" fill="#333"/><rect x="722.0" y="220.5" width="4.5" height="4.5" rx="1.5" fill="#000"/><rect x="722.0" y="223.3" width="4.5" height="4.5" rx="1.5" fill="#000"/><rect x="735.7" y="227.5" width="4.5" height="4.5" rx="1.5" fill="#000"/><rect x="719.5" y="239.1" width="2.7" height="2.7" rx="1.0" fill="#333"/><rect x="722.4" y="246.1" width="3.8" height="2.8" rx="1.0" fill="#111"/><rect x="336.8" y="739.1" width="3.8" height="2.8" rx="1.0" fill="#111"/><rect x="336.8" y="770.8" width="3.8" height="2.8" rx="1.0" fill="#111"/><rect x="318.7" y="788.9" width="3.8" height="2.8" rx="1.0" fill="#111"/><rect x="159.1" y="816.0" width="2.8" height="3.8" rx="1.0" fill="#111"/><rect x="176.1" y="847.8" width="3.8" height="2.8" rx="1.0" fill="#111"/><rect x="210.9" y="878.4" width="4.5" height="4.5" rx="1.5" fill="#000"/><rect x="232.2" y="890.2" width="3.8" height="2.8" rx="1.0" fill="#111"/><rect x="245.7" y="892.6" width="4.5" height="4.5" rx="1.5" fill="#000"/><rect x="222.3" y="897.3" width="2.7" height="2.7" rx="1.0" fill="#333"/><rect x="142.2" y="563.4" width="4.5" height="4.5" rx="1.5" fill="#000"/><rect x="141.1" y="669.0" width="4.5" height="4.5" rx="1.5" fill="#000"/><rect x="141.4" y="738.6" width="4.5" height="4.5" rx="1.5" fill="#000"/><rect x="141.3" y="350.9" width="3.8" height="2.8" rx="1.0" fill="#111"/><rect x="142.1" y="616.6" width="3.8" height="2.8" rx="1.0" fill="#111"/><rect x="575.1" y="309.1" width="3.8" height="2.8" rx="1.0" fill="#111"/><rect x="642.1" y="315.8" width="2.7" height="2.7" rx="1.0" fill="#333"/><rect x="673.5" y="337.1" width="3.8" height="2.8" rx="1.0" fill="#111"/><rect x="579.0" y="354.0" width="2.8" height="3.8" rx="1.0" fill="#111"/><rect x="719.1" y="354.0" width="2.8" height="3.8" rx="1.0" fill="#111"/></g>
<g stroke="#000" fill="none"><line x1="170" y1="908" x2="170" y2="915.3" stroke-width="2.6"/><line x1="176.8" y1="908" x2="176.8" y2="915.3" stroke-width="2.6"/><line x1="186.2" y1="908" x2="186.2" y2="915.3" stroke-width="2.6"/><line x1="193.4" y1="908" x2="193.4" y2="915.3" stroke-width="2.6"/><line x1="209.2" y1="908" x2="209.2" y2="915.3" stroke-width="2.6"/><line x1="216.7" y1="908" x2="216.7" y2="915.3" stroke-width="2.6"/><line x1="225.8" y1="908" x2="225.8" y2="915.3" stroke-width="2.6"/><line x1="261.1" y1="908" x2="261.1" y2="915.3" stroke-width="2.6"/><line x1="268" y1="908" x2="268" y2="915.3" stroke-width="2.6"/><line x1="277.3" y1="908" x2="277.3" y2="915.3" stroke-width="2.6"/><line x1="293.6" y1="908" x2="293.6" y2="915.3" stroke-width="2.6"/><line x1="300.6" y1="908" x2="300.6" y2="915.3" stroke-width="2.6"/><line x1="307.6" y1="908" x2="307.6" y2="915.3" stroke-width="2.6"/><line x1="314.6" y1="908" x2="314.6" y2="915.3" stroke-width="2.6"/><line x1="379.6" y1="908" x2="379.6" y2="915.3" stroke-width="2.6"/><line x1="419.9" y1="908" x2="419.9" y2="915.3" stroke-width="2.6"/><line x1="447.6" y1="908" x2="447.6" y2="915.3" stroke-width="2.6"/><line x1="489.8" y1="908" x2="489.8" y2="915.3" stroke-width="2.6"/><line x1="503.9" y1="908" x2="503.9" y2="915.3" stroke-width="2.6"/><line x1="517.5" y1="908" x2="517.5" y2="915.3" stroke-width="2.6"/><line x1="526.9" y1="908" x2="526.9" y2="915.3" stroke-width="2.6"/><line x1="603.8" y1="908" x2="603.8" y2="915.3" stroke-width="2.6"/><line x1="638.9" y1="908" x2="638.9" y2="915.3" stroke-width="2.6"/><line x1="667.3" y1="908" x2="667.3" y2="915.3" stroke-width="2.6"/><line x1="701.9" y1="908" x2="701.9" y2="915.3" stroke-width="2.6"/><line x1="716" y1="908" x2="716" y2="915.3" stroke-width="2.6"/><line x1="728.3" y1="908" x2="728.3" y2="915.3" stroke-width="2.6"/><line x1="739" y1="908" x2="739" y2="915.3" stroke-width="2.6"/><line x1="809.2" y1="908" x2="809.2" y2="915.3" stroke-width="2.6"/><line x1="844.8" y1="908" x2="844.8" y2="915.3" stroke-width="2.6"/><line x1="870.2" y1="908" x2="870.2" y2="915.3" stroke-width="2.6"/><line x1="906" y1="908" x2="906" y2="915.3" stroke-width="2.6"/><line x1="919.6" y1="908" x2="919.6" y2="915.3" stroke-width="2.6"/><line x1="930.8" y1="908" x2="930.8" y2="915.3" stroke-width="2.6"/><line x1="941.9" y1="908" x2="941.9" y2="915.3" stroke-width="2.6"/><line x1="1012.3" y1="908" x2="1012.3" y2="915.3" stroke-width="2.6"/><line x1="200.2" y1="908" x2="200.2" y2="918" stroke-width="2.8"/><line x1="284.3" y1="908" x2="284.3" y2="918" stroke-width="2.8"/><line x1="470.6" y1="908" x2="470.6" y2="918" stroke-width="2.8"/><line x1="685.3" y1="908" x2="685.3" y2="918" stroke-width="2.8"/><line x1="890.7" y1="908" x2="890.7" y2="918" stroke-width="2.8"/><line x1="161.7" y1="908" x2="161.7" y2="922.5" stroke-width="4"/><line x1="320.5" y1="908" x2="320.5" y2="922.5" stroke-width="4"/><line x1="537.7" y1="908" x2="537.7" y2="922.5" stroke-width="4"/><line x1="747.1" y1="908" x2="747.1" y2="922.5" stroke-width="4"/><line x1="950" y1="908" x2="950" y2="922.5" stroke-width="4"/><line x1="142" y1="35" x2="134.7" y2="35" stroke-width="2.6"/><line x1="142" y1="105" x2="134.7" y2="105" stroke-width="2.6"/><line x1="142" y1="116.8" x2="134.7" y2="116.8" stroke-width="2.6"/><line x1="142" y1="128.5" x2="134.7" y2="128.5" stroke-width="2.6"/><line x1="142" y1="140.2" x2="134.7" y2="140.2" stroke-width="2.6"/><line x1="142" y1="177.4" x2="134.7" y2="177.4" stroke-width="2.6"/><line x1="142" y1="203.3" x2="134.7" y2="203.3" stroke-width="2.6"/><line x1="142" y1="238.2" x2="134.7" y2="238.2" stroke-width="2.6"/><line x1="142" y1="307.9" x2="134.7" y2="307.9" stroke-width="2.6"/><line x1="142" y1="317.6" x2="134.7" y2="317.6" stroke-width="2.6"/><line x1="142" y1="331.5" x2="134.7" y2="331.5" stroke-width="2.6"/><line x1="142" y1="343.2" x2="134.7" y2="343.2" stroke-width="2.6"/><line x1="142" y1="380.6" x2="134.7" y2="380.6" stroke-width="2.6"/><line x1="142" y1="405.9" x2="134.7" y2="405.9" stroke-width="2.6"/><line x1="142" y1="440.9" x2="134.7" y2="440.9" stroke-width="2.6"/><line x1="142" y1="513.4" x2="134.7" y2="513.4" stroke-width="2.6"/><line x1="142" y1="525.2" x2="134.7" y2="525.2" stroke-width="2.6"/><line x1="142" y1="537.1" x2="134.7" y2="537.1" stroke-width="2.6"/><line x1="142" y1="550.9" x2="134.7" y2="550.9" stroke-width="2.6"/><line x1="142" y1="590.3" x2="134.7" y2="590.3" stroke-width="2.6"/><line x1="142" y1="616.2" x2="134.7" y2="616.2" stroke-width="2.6"/><line x1="142" y1="656.1" x2="134.7" y2="656.1" stroke-width="2.6"/><line x1="142" y1="728" x2="134.7" y2="728" stroke-width="2.6"/><line x1="142" y1="737.5" x2="134.7" y2="737.5" stroke-width="2.6"/><line x1="142" y1="746.6" x2="134.7" y2="746.6" stroke-width="2.6"/><line x1="142" y1="758.5" x2="134.7" y2="758.5" stroke-width="2.6"/><line x1="142" y1="781.7" x2="134.7" y2="781.7" stroke-width="2.6"/><line x1="142" y1="793.2" x2="134.7" y2="793.2" stroke-width="2.6"/><line x1="142" y1="807.1" x2="134.7" y2="807.1" stroke-width="2.6"/><line x1="142" y1="860.8" x2="134.7" y2="860.8" stroke-width="2.6"/><line x1="142" y1="875.6" x2="134.7" y2="875.6" stroke-width="2.6"/><line x1="142" y1="889.4" x2="134.7" y2="889.4" stroke-width="2.6"/><line x1="142" y1="156.5" x2="130.5" y2="156.5" stroke-width="2.8"/><line x1="142" y1="359.4" x2="130.5" y2="359.4" stroke-width="2.8"/><line x1="142" y1="569.9" x2="130.5" y2="569.9" stroke-width="2.8"/><line x1="142" y1="770.3" x2="130.5" y2="770.3" stroke-width="2.8"/><line x1="142" y1="901" x2="130.5" y2="901" stroke-width="2.8"/><line x1="142" y1="95.9" x2="126.5" y2="95.9" stroke-width="4"/><line x1="142" y1="298.7" x2="126.5" y2="298.7" stroke-width="4"/><line x1="142" y1="504.2" x2="126.5" y2="504.2" stroke-width="4"/><line x1="142" y1="718.5" x2="126.5" y2="718.5" stroke-width="4"/><rect x="231.6" y="908" width="21.7" height="10" fill="#000" stroke="none"/><line x1="234" y1="908" x2="234" y2="923" stroke-width="4.5"/><line x1="241.4" y1="908" x2="241.4" y2="923" stroke-width="4.5"/><line x1="250.7" y1="908" x2="250.7" y2="923" stroke-width="4.5"/><rect x="135.7" y="818.6" width="7" height="32.8" fill="#000" stroke="none"/><line x1="142" y1="821" x2="124.6" y2="821" stroke-width="4"/><line x1="142" y1="834.2" x2="124.6" y2="834.2" stroke-width="4"/><line x1="142" y1="849.2" x2="124.6" y2="849.2" stroke-width="4"/><line x1="142" y1="827.5" x2="129.5" y2="827.5" stroke-width="2.8"/><line x1="142" y1="842.5" x2="129.5" y2="842.5" stroke-width="2.8"/><rect x="142" y="11.75" width="896" height="896.25" stroke-width="2.6"/></g>
<g font-family="Liberation Sans" font-size="23" fill="#000" stroke="#000" stroke-width="0.7"><path transform="translate(85.90,108.80) scale(0.00966,-0.01123) translate(-673,0)" d="M763 0L583 0L583 1147Q518 1085 412.5 1023Q307 961 223 930L223 1104Q374 1175 487 1276Q600 1377 647 1472L763 1472Z"/><text transform="translate(96.80,108.80) scale(0.86,1)" text-anchor="middle">0</text><text transform="translate(108.20,94.50) scale(0.86,1)" text-anchor="middle">5</text><path transform="translate(85.90,311.90) scale(0.00966,-0.01123) translate(-673,0)" d="M763 0L583 0L583 1147Q518 1085 412.5 1023Q307 961 223 930L223 1104Q374 1175 487 1276Q600 1377 647 1472L763 1472Z"/><text transform="translate(96.80,311.90) scale(0.86,1)" text-anchor="middle">0</text><text transform="translate(108.20,297.60) scale(0.86,1)" text-anchor="middle">4</text><path transform="translate(85.90,517.40) scale(0.00966,-0.01123) translate(-673,0)" d="M763 0L583 0L583 1147Q518 1085 412.5 1023Q307 961 223 930L223 1104Q374 1175 487 1276Q600 1377 647 1472L763 1472Z"/><text transform="translate(96.80,517.40) scale(0.86,1)" text-anchor="middle">0</text><text transform="translate(108.20,503.10) scale(0.86,1)" text-anchor="middle">3</text><path transform="translate(85.90,732.10) scale(0.00966,-0.01123) translate(-673,0)" d="M763 0L583 0L583 1147Q518 1085 412.5 1023Q307 961 223 930L223 1104Q374 1175 487 1276Q600 1377 647 1472L763 1472Z"/><text transform="translate(96.80,732.10) scale(0.86,1)" text-anchor="middle">0</text><text transform="translate(108.20,717.80) scale(0.86,1)" text-anchor="middle">2</text><text transform="translate(96.50,841.70) scale(0.86,1)" text-anchor="middle">0</text><path transform="translate(543.60,958.20) scale(0.00966,-0.01123) translate(-673,0)" d="M763 0L583 0L583 1147Q518 1085 412.5 1023Q307 961 223 930L223 1104Q374 1175 487 1276Q600 1377 647 1472L763 1472Z"/><text transform="translate(554.50,958.20) scale(0.86,1)" text-anchor="middle">0</text><text transform="translate(565.90,943.90) scale(0.86,1)" text-anchor="middle">3</text><path transform="translate(753.60,958.20) scale(0.00966,-0.01123) translate(-673,0)" d="M763 0L583 0L583 1147Q518 1085 412.5 1023Q307 961 223 930L223 1104Q374 1175 487 1276Q600 1377 647 1472L763 1472Z"/><text transform="translate(764.50,958.20) scale(0.86,1)" text-anchor="middle">0</text><text transform="translate(775.90,943.90) scale(0.86,1)" text-anchor="middle">4</text><path transform="translate(956.40,958.20) scale(0.00966,-0.01123) translate(-673,0)" d="M763 0L583 0L583 1147Q518 1085 412.5 1023Q307 961 223 930L223 1104Q374 1175 487 1276Q600 1377 647 1472L763 1472Z"/><text transform="translate(967.30,958.20) scale(0.86,1)" text-anchor="middle">0</text><text transform="translate(978.70,943.90) scale(0.86,1)" text-anchor="middle">5</text><text transform="translate(252.90,958.20) scale(0.86,1)" text-anchor="middle">0</text></g>
<g font-family="Liberation Sans" font-size="50.5" fill="#000"><text x="222.6" y="1040">BD</text><text x="308.6" y="1040">Horizon™</text><text x="551" y="1040">PE-CF594</text><text x="819.8" y="1040">CD</text><path transform="translate(894.15,1040.00) scale(0.02466,-0.02466)" d="M763 0L583 0L583 1147Q518 1085 412.5 1023Q307 961 223 930L223 1104Q374 1175 487 1276Q600 1377 647 1472L763 1472Z"/><text x="922.23" y="1040">93</text><g transform="translate(49,0) rotate(-90)"><text x="-756.7" y="0">BD Horizon™</text><text x="-428.6" y="0">BV42</text><path transform="translate(-304.80,0.00) scale(0.02466,-0.02466)" d="M763 0L583 0L583 1147Q518 1085 412.5 1023Q307 961 223 930L223 1104Q374 1175 487 1276Q600 1377 647 1472L763 1472Z"/><text x="-246.7" y="0">IgE</text></g></g>
</svg>
</body></html>
